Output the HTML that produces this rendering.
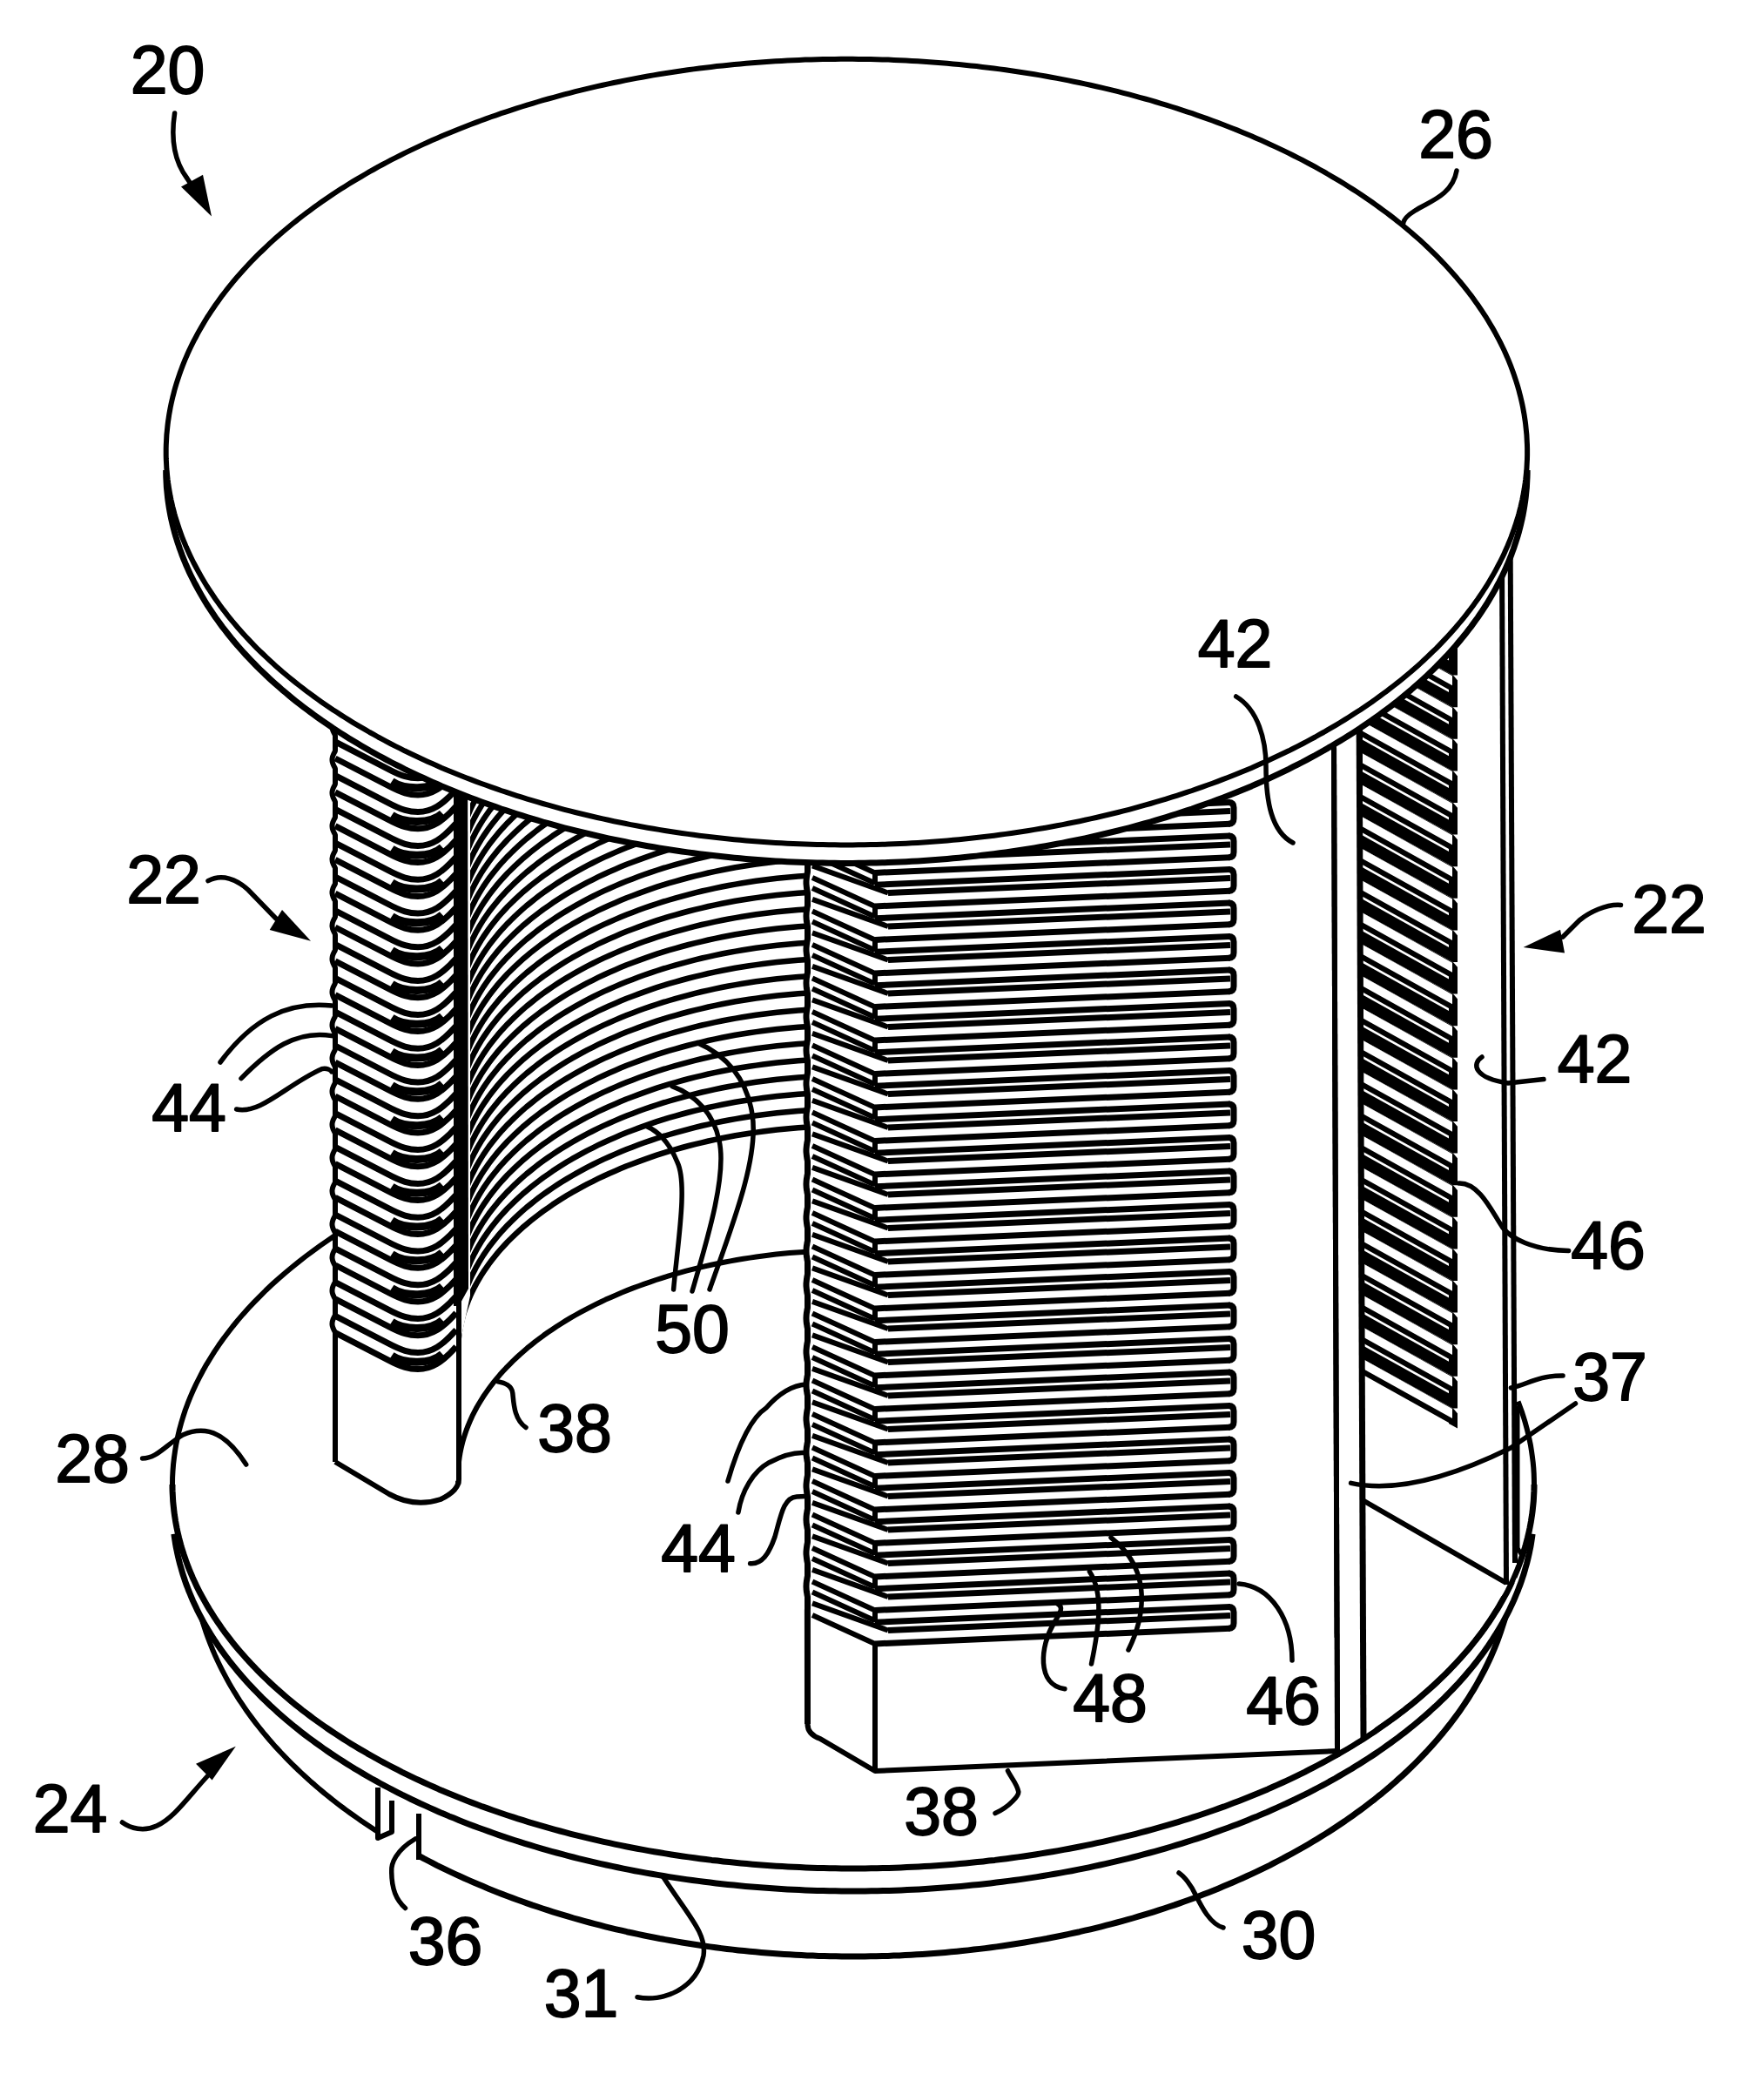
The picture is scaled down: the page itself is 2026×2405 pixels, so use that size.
<!DOCTYPE html>
<html><head><meta charset="utf-8"><style>html,body{margin:0;padding:0;background:#fff;width:2026px;height:2405px;overflow:hidden}svg{display:block}text{font-family:"Liberation Sans",sans-serif}</style></head>
<body><svg width="2026" height="2405" viewBox="0 0 2026 2405" stroke-linejoin="round"><path d="M1740.0,1777.0 L1740.0,1781.1 L1739.9,1785.2 L1739.7,1789.3 L1739.5,1793.4 L1739.3,1797.5 L1739.0,1801.6 L1738.6,1805.7 L1738.1,1809.8 L1737.7,1813.9 L1737.1,1818.0 L1736.5,1822.0 L1735.8,1826.1 L1735.1,1830.2 L1734.3,1834.3 L1733.5,1838.3 L1732.6,1842.4 L1731.7,1846.5 L1730.6,1850.5 L1729.6,1854.6 L1728.5,1858.6 L1727.3,1862.7 L1726.0,1866.7 L1724.7,1870.7 L1723.4,1874.7 L1722.0,1878.7 L1720.5,1882.7 L1719.0,1886.7 L1717.4,1890.7 L1715.8,1894.7 L1714.1,1898.6 L1712.4,1902.6 L1710.6,1906.5 L1708.7,1910.5 L1706.8,1914.4 L1704.8,1918.3 L1702.8,1922.2 L1700.7,1926.1 L1698.6,1930.0 L1696.4,1933.9 L1694.2,1937.7 L1691.9,1941.6 L1689.5,1945.4 L1687.1,1949.3 L1684.7,1953.1 L1682.1,1956.9 L1679.6,1960.6 L1677.0,1964.4 L1674.3,1968.2 L1671.6,1971.9 L1668.8,1975.6 L1666.0,1979.3 L1663.1,1983.0 L1660.2,1986.7 L1657.2,1990.4 L1654.1,1994.0 L1651.0,1997.7 L1647.9,2001.3 L1644.7,2004.9 L1641.5,2008.4 L1638.2,2012.0 L1634.8,2015.5 L1631.4,2019.1 L1628.0,2022.6 L1624.5,2026.1 L1621.0,2029.5 L1617.4,2033.0 L1613.8,2036.4 L1610.1,2039.8 L1606.3,2043.2 L1602.6,2046.6 L1598.7,2049.9 L1594.9,2053.3 L1590.9,2056.6 L1587.0,2059.9 L1582.9,2063.1 L1578.9,2066.4 L1574.8,2069.6 L1570.6,2072.8 L1566.4,2076.0 L1562.2,2079.1 L1557.9,2082.2 L1553.6,2085.3 L1549.2,2088.4 L1544.8,2091.5 L1540.3,2094.5 L1535.8,2097.5 L1531.3,2100.5 L1526.7,2103.5 L1522.1,2106.4 L1517.4,2109.3 L1512.7,2112.2 L1507.9,2115.1 L1503.1,2117.9 L1498.3,2120.7 L1493.4,2123.5 L1488.5,2126.3 L1483.6,2129.0 L1478.6,2131.7 L1473.6,2134.4 L1468.5,2137.0 L1463.4,2139.7 L1458.3,2142.3 L1453.1,2144.8 L1447.9,2147.4 L1442.7,2149.9 L1437.4,2152.4 L1432.1,2154.8 L1426.7,2157.2 L1421.3,2159.6 L1415.9,2162.0 L1410.5,2164.3 L1405.0,2166.6 L1399.5,2168.9 L1393.9,2171.2 L1388.3,2173.4 L1382.7,2175.6 L1377.1,2177.7 L1371.4,2179.9 L1365.7,2182.0 L1360.0,2184.0 L1354.2,2186.1 L1348.5,2188.1 L1342.6,2190.0 L1336.8,2192.0 L1330.9,2193.9 L1325.0,2195.8 L1319.1,2197.6 L1313.2,2199.4 L1307.2,2201.2 L1301.2,2203.0 L1295.2,2204.7 L1289.1,2206.4 L1283.0,2208.0 L1277.0,2209.6 L1270.8,2211.2 L1264.7,2212.8 L1258.5,2214.3 L1252.4,2215.8 L1246.2,2217.2 L1239.9,2218.7 L1233.7,2220.0 L1227.4,2221.4 L1221.2,2222.7 L1214.9,2224.0 L1208.5,2225.2 L1202.2,2226.5 L1195.9,2227.6 L1189.5,2228.8 L1183.1,2229.9 L1176.7,2231.0 L1170.3,2232.0 L1163.9,2233.0 L1157.4,2234.0 L1151.0,2235.0 L1144.5,2235.9 L1138.0,2236.7 L1131.5,2237.6 L1125.0,2238.4 L1118.5,2239.1 L1112.0,2239.9 L1105.4,2240.6 L1098.9,2241.2 L1092.3,2241.8 L1085.8,2242.4 L1079.2,2243.0 L1072.6,2243.5 L1066.0,2244.0 L1059.4,2244.4 L1052.8,2244.8 L1046.2,2245.2 L1039.6,2245.6 L1033.0,2245.9 L1026.4,2246.1 L1019.8,2246.4 L1013.2,2246.6 L1006.5,2246.7 L999.9,2246.8 L993.3,2246.9 L986.6,2247.0 L980.0,2247.0 L973.4,2247.0 L966.7,2246.9 L960.1,2246.8 L953.5,2246.7 L946.8,2246.6 L940.2,2246.4 L933.6,2246.1 L927.0,2245.9 L920.4,2245.6 L913.8,2245.2 L907.2,2244.8 L900.6,2244.4 L894.0,2244.0 L887.4,2243.5 L880.8,2243.0 L874.2,2242.4 L867.7,2241.8 L861.1,2241.2 L854.6,2240.6 L848.0,2239.9 L841.5,2239.1 L835.0,2238.4 L828.5,2237.6 L822.0,2236.7 L815.5,2235.9 L809.0,2235.0 L802.6,2234.0 L796.1,2233.0 L789.7,2232.0 L783.3,2231.0 L776.9,2229.9 L770.5,2228.8 L764.1,2227.6 L757.8,2226.5 L751.5,2225.2 L745.1,2224.0 L738.8,2222.7 L732.6,2221.4 L726.3,2220.0 L720.1,2218.7 L713.8,2217.2 L707.6,2215.8 L701.5,2214.3 L695.3,2212.8 L689.2,2211.2 L683.0,2209.6 L677.0,2208.0 L670.9,2206.4 L664.8,2204.7 L658.8,2203.0 L652.8,2201.2 L646.8,2199.4 L640.9,2197.6 L635.0,2195.8 L629.1,2193.9 L623.2,2192.0 L617.4,2190.0 L611.5,2188.1 L605.8,2186.1 L600.0,2184.0 L594.3,2182.0 L588.6,2179.9 L582.9,2177.7 L577.3,2175.6 L571.7,2173.4 L566.1,2171.2 L560.5,2168.9 L555.0,2166.6 L549.5,2164.3 L544.1,2162.0 L538.7,2159.6 L533.3,2157.2 L527.9,2154.8 L522.6,2152.4 L517.3,2149.9 L512.1,2147.4 L506.9,2144.8 L501.7,2142.3 L496.6,2139.7 L491.5,2137.0 L486.4,2134.4 L481.4,2131.7" fill="none" stroke="#000" stroke-width="7" />
<path d="M433.3,2103.5 L428.7,2100.5 L424.2,2097.5 L419.7,2094.5 L415.2,2091.5 L410.8,2088.4 L406.4,2085.3 L402.1,2082.2 L397.8,2079.1 L393.6,2076.0 L389.4,2072.8 L385.2,2069.6 L381.1,2066.4 L377.1,2063.1 L373.0,2059.9 L369.1,2056.6 L365.1,2053.3 L361.3,2049.9 L357.4,2046.6 L353.7,2043.2 L349.9,2039.8 L346.2,2036.4 L342.6,2033.0 L339.0,2029.5 L335.5,2026.1 L332.0,2022.6 L328.6,2019.1 L325.2,2015.5 L321.8,2012.0 L318.5,2008.4 L315.3,2004.9 L312.1,2001.3 L309.0,1997.7 L305.9,1994.0 L302.8,1990.4 L299.8,1986.7 L296.9,1983.0 L294.0,1979.3 L291.2,1975.6 L288.4,1971.9 L285.7,1968.2 L283.0,1964.4 L280.4,1960.6 L277.9,1956.9 L275.3,1953.1 L272.9,1949.3 L270.5,1945.4 L268.1,1941.6 L265.8,1937.7 L263.6,1933.9 L261.4,1930.0 L259.3,1926.1 L257.2,1922.2 L255.2,1918.3 L253.2,1914.4 L251.3,1910.5 L249.4,1906.5 L247.6,1902.6 L245.9,1898.6 L244.2,1894.7 L242.6,1890.7 L241.0,1886.7 L239.5,1882.7 L238.0,1878.7 L236.6,1874.7 L235.3,1870.7 L234.0,1866.7 L232.7,1862.7 L231.5,1858.6 L230.4,1854.6 L229.4,1850.5 L228.3,1846.5 L227.4,1842.4 L226.5,1838.3 L225.7,1834.3 L224.9,1830.2 L224.2,1826.1 L223.5,1822.0 L222.9,1818.0 L222.3,1813.9 L221.9,1809.8 L221.4,1805.7 L221.0,1801.6 L220.7,1797.5 L220.5,1793.4 L220.3,1789.3 L220.1,1785.2 L220.0,1781.1 L220.0,1777.0" fill="none" stroke="#000" stroke-width="6" />
<path d="M434.0,2053.0 L434.0,2111.0 L450.0,2104.0 L450.0,2068.0" fill="none" stroke="#000" stroke-width="6" />
<path d="M481.0,2083.0 L481.0,2136.0" fill="none" stroke="#000" stroke-width="6" />
<path d="M1762.0,1731.0 L1762.0,1734.8 L1761.9,1738.7 L1761.7,1742.5 L1761.5,1746.4 L1761.3,1750.2 L1760.9,1754.1 L1760.5,1757.9 L1760.1,1761.8 L1759.6,1765.6 L1759.0,1769.4 L1758.4,1773.3 L1757.7,1777.1 L1757.0,1780.9 L1756.2,1784.7 L1755.3,1788.6 L1754.4,1792.4 L1753.4,1796.2 L1752.4,1800.0 L1751.3,1803.8 L1750.1,1807.6 L1748.9,1811.4 L1747.6,1815.1 L1746.3,1818.9 L1744.9,1822.7 L1743.5,1826.4 L1742.0,1830.2 L1740.4,1833.9 L1738.8,1837.7 L1737.1,1841.4 L1735.4,1845.1 L1733.6,1848.9 L1731.7,1852.6 L1729.8,1856.3 L1727.8,1859.9 L1725.8,1863.6 L1723.7,1867.3 L1721.6,1870.9 L1719.4,1874.6 L1717.1,1878.2 L1714.8,1881.8 L1712.5,1885.4 L1710.1,1889.0 L1707.6,1892.6 L1705.1,1896.2 L1702.5,1899.8 L1699.8,1903.3 L1697.1,1906.8 L1694.4,1910.4 L1691.6,1913.9 L1688.7,1917.4 L1685.8,1920.9 L1682.9,1924.3 L1679.8,1927.8 L1676.8,1931.2 L1673.6,1934.6 L1670.5,1938.0 L1667.2,1941.4 L1664.0,1944.8 L1660.6,1948.2 L1657.2,1951.5 L1653.8,1954.8 L1650.3,1958.1 L1646.8,1961.4 L1643.2,1964.7 L1639.5,1967.9 L1635.8,1971.2 L1632.1,1974.4 L1628.3,1977.6 L1624.5,1980.8 L1620.6,1983.9 L1616.6,1987.1 L1612.7,1990.2 L1608.6,1993.3 L1604.5,1996.4 L1600.4,1999.5 L1596.2,2002.5 L1592.0,2005.5 L1587.7,2008.5 L1583.4,2011.5 L1579.0,2014.5 L1574.6,2017.4 L1570.2,2020.3 L1565.7,2023.2 L1561.1,2026.1 L1556.6,2028.9 L1551.9,2031.8 L1547.2,2034.6 L1542.5,2037.3 L1537.8,2040.1 L1533.0,2042.8 L1528.1,2045.5 L1523.2,2048.2 L1518.3,2050.9 L1513.3,2053.5 L1508.3,2056.1 L1503.3,2058.7 L1498.2,2061.3 L1493.0,2063.8 L1487.9,2066.3 L1482.7,2068.8 L1477.4,2071.3 L1472.1,2073.7 L1466.8,2076.1 L1461.4,2078.5 L1456.1,2080.9 L1450.6,2083.2 L1445.2,2085.5 L1439.6,2087.8 L1434.1,2090.0 L1428.5,2092.2 L1422.9,2094.4 L1417.3,2096.6 L1411.6,2098.7 L1405.9,2100.9 L1400.2,2102.9 L1394.4,2105.0 L1388.6,2107.0 L1382.8,2109.0 L1376.9,2111.0 L1371.0,2112.9 L1365.1,2114.8 L1359.1,2116.7 L1353.1,2118.6 L1347.1,2120.4 L1341.1,2122.2 L1335.0,2123.9 L1328.9,2125.7 L1322.8,2127.4 L1316.7,2129.0 L1310.5,2130.7 L1304.3,2132.3 L1298.1,2133.9 L1291.8,2135.4 L1285.6,2136.9 L1279.3,2138.4 L1272.9,2139.9 L1266.6,2141.3 L1260.2,2142.7 L1253.9,2144.1 L1247.5,2145.4 L1241.0,2146.7 L1234.6,2148.0 L1228.1,2149.2 L1221.7,2150.4 L1215.2,2151.6 L1208.6,2152.7 L1202.1,2153.8 L1195.5,2154.9 L1189.0,2156.0 L1182.4,2157.0 L1175.8,2158.0 L1169.2,2158.9 L1162.6,2159.8 L1155.9,2160.7 L1149.3,2161.5 L1142.6,2162.4 L1135.9,2163.1 L1129.2,2163.9 L1122.5,2164.6 L1115.8,2165.3 L1109.1,2166.0 L1102.3,2166.6 L1095.6,2167.2 L1088.8,2167.7 L1082.1,2168.2 L1075.3,2168.7 L1068.5,2169.2 L1061.7,2169.6 L1055.0,2170.0 L1048.2,2170.3 L1041.4,2170.6 L1034.5,2170.9 L1027.7,2171.2 L1020.9,2171.4 L1014.1,2171.6 L1007.3,2171.7 L1000.5,2171.8 L993.6,2171.9 L986.8,2172.0 L980.0,2172.0 L973.2,2172.0 L966.4,2171.9 L959.5,2171.8 L952.7,2171.7 L945.9,2171.6 L939.1,2171.4 L932.3,2171.2 L925.5,2170.9 L918.6,2170.6 L911.8,2170.3 L905.0,2170.0 L898.3,2169.6 L891.5,2169.2 L884.7,2168.7 L877.9,2168.2 L871.2,2167.7 L864.4,2167.2 L857.7,2166.6 L850.9,2166.0 L844.2,2165.3 L837.5,2164.6 L830.8,2163.9 L824.1,2163.1 L817.4,2162.4 L810.7,2161.5 L804.1,2160.7 L797.4,2159.8 L790.8,2158.9 L784.2,2158.0 L777.6,2157.0 L771.0,2156.0 L764.5,2154.9 L757.9,2153.8 L751.4,2152.7 L744.8,2151.6 L738.3,2150.4 L731.9,2149.2 L725.4,2148.0 L719.0,2146.7 L712.5,2145.4 L706.1,2144.1 L699.8,2142.7 L693.4,2141.3 L687.1,2139.9 L680.7,2138.4 L674.4,2136.9 L668.2,2135.4 L661.9,2133.9 L655.7,2132.3 L649.5,2130.7 L643.3,2129.0 L637.2,2127.4 L631.1,2125.7 L625.0,2123.9 L618.9,2122.2 L612.9,2120.4 L606.9,2118.6 L600.9,2116.7 L594.9,2114.8 L589.0,2112.9 L583.1,2111.0 L577.2,2109.0 L571.4,2107.0 L565.6,2105.0 L559.8,2102.9 L554.1,2100.9 L548.4,2098.7 L542.7,2096.6 L537.1,2094.4 L531.5,2092.2 L525.9,2090.0 L520.4,2087.8 L514.8,2085.5 L509.4,2083.2 L503.9,2080.9 L498.6,2078.5 L493.2,2076.1 L487.9,2073.7 L482.6,2071.3 L477.3,2068.8 L472.1,2066.3 L467.0,2063.8 L461.8,2061.3 L456.7,2058.7 L451.7,2056.1 L446.7,2053.5 L441.7,2050.9 L436.8,2048.2 L431.9,2045.5 L427.0,2042.8 L422.2,2040.1 L417.5,2037.3 L412.8,2034.6 L408.1,2031.8 L403.4,2028.9 L398.9,2026.1 L394.3,2023.2 L389.8,2020.3 L385.4,2017.4 L381.0,2014.5 L376.6,2011.5 L372.3,2008.5 L368.0,2005.5 L363.8,2002.5 L359.6,1999.5 L355.5,1996.4 L351.4,1993.3 L347.3,1990.2 L343.4,1987.1 L339.4,1983.9 L335.5,1980.8 L331.7,1977.6 L327.9,1974.4 L324.2,1971.2 L320.5,1967.9 L316.8,1964.7 L313.2,1961.4 L309.7,1958.1 L306.2,1954.8 L302.8,1951.5 L299.4,1948.2 L296.0,1944.8 L292.8,1941.4 L289.5,1938.0 L286.4,1934.6 L283.2,1931.2 L280.2,1927.8 L277.1,1924.3 L274.2,1920.9 L271.3,1917.4 L268.4,1913.9 L265.6,1910.4 L262.9,1906.8 L260.2,1903.3 L257.5,1899.8 L254.9,1896.2 L252.4,1892.6 L249.9,1889.0 L247.5,1885.4 L245.2,1881.8 L242.9,1878.2 L240.6,1874.6 L238.4,1870.9 L236.3,1867.3 L234.2,1863.6 L232.2,1859.9 L230.2,1856.3 L228.3,1852.6 L226.4,1848.9 L224.6,1845.1 L222.9,1841.4 L221.2,1837.7 L219.6,1833.9 L218.0,1830.2 L216.5,1826.4 L215.1,1822.7 L213.7,1818.9 L212.4,1815.1 L211.1,1811.4 L209.9,1807.6 L208.7,1803.8 L207.6,1800.0 L206.6,1796.2 L205.6,1792.4 L204.7,1788.6 L203.8,1784.7 L203.0,1780.9 L202.3,1777.1 L201.6,1773.3 L201.0,1769.4 L200.4,1765.6 L199.9,1761.8 L199.5,1757.9 L199.1,1754.1 L198.7,1750.2 L198.5,1746.4 L198.3,1742.5 L198.1,1738.7 L198.0,1734.8 L198.0,1731.0 L198.0,1705.0 L198.0,1705.0 L198.0,1701.2 L198.1,1697.3 L198.3,1693.5 L198.5,1689.6 L198.7,1685.8 L199.1,1681.9 L199.5,1678.1 L199.9,1674.2 L200.4,1670.4 L201.0,1666.6 L201.6,1662.7 L202.3,1658.9 L203.0,1655.1 L203.8,1651.3 L204.7,1647.4 L205.6,1643.6 L206.6,1639.8 L207.6,1636.0 L208.7,1632.2 L209.9,1628.4 L211.1,1624.6 L212.4,1620.9 L213.7,1617.1 L215.1,1613.3 L216.5,1609.6 L218.0,1605.8 L219.6,1602.1 L221.2,1598.3 L222.9,1594.6 L224.6,1590.9 L226.4,1587.1 L228.3,1583.4 L230.2,1579.7 L232.2,1576.1 L234.2,1572.4 L236.3,1568.7 L238.4,1565.1 L240.6,1561.4 L242.9,1557.8 L245.2,1554.2 L247.5,1550.6 L249.9,1547.0 L252.4,1543.4 L254.9,1539.8 L257.5,1536.2 L260.2,1532.7 L262.9,1529.2 L265.6,1525.6 L268.4,1522.1 L271.3,1518.6 L274.2,1515.1 L277.1,1511.7 L280.2,1508.2 L283.2,1504.8 L286.4,1501.4 L289.5,1498.0 L292.8,1494.6 L296.0,1491.2 L299.4,1487.8 L302.8,1484.5 L306.2,1481.2 L309.7,1477.9 L313.2,1474.6 L316.8,1471.3 L320.5,1468.1 L324.2,1464.8 L327.9,1461.6 L331.7,1458.4 L335.5,1455.2 L339.4,1452.1 L343.4,1448.9 L347.3,1445.8 L351.4,1442.7 L355.5,1439.6 L359.6,1436.5 L363.8,1433.5 L368.0,1430.5 L372.3,1427.5 L376.6,1424.5 L381.0,1421.5 L385.4,1418.6 L389.8,1415.7 L394.3,1412.8 L398.9,1409.9 L403.4,1407.1 L408.1,1404.2 L412.8,1401.4 L417.5,1398.7 L422.2,1395.9 L427.0,1393.2 L431.9,1390.5 L436.8,1387.8 L441.7,1385.1 L446.7,1382.5 L451.7,1379.9 L456.7,1377.3 L461.8,1374.7 L467.0,1372.2 L472.1,1369.7 L477.3,1367.2 L482.6,1364.7 L487.9,1362.3 L493.2,1359.9 L498.6,1357.5 L503.9,1355.1 L509.4,1352.8 L514.8,1350.5 L520.4,1348.2 L525.9,1346.0 L531.5,1343.8 L537.1,1341.6 L542.7,1339.4 L548.4,1337.3 L554.1,1335.1 L559.8,1333.1 L565.6,1331.0 L571.4,1329.0 L577.2,1327.0 L583.1,1325.0 L589.0,1323.1 L594.9,1321.2 L600.9,1319.3 L606.9,1317.4 L612.9,1315.6 L618.9,1313.8 L625.0,1312.1 L631.1,1310.3 L637.2,1308.6 L643.3,1307.0 L649.5,1305.3 L655.7,1303.7 L661.9,1302.1 L668.2,1300.6 L674.4,1299.1 L680.7,1297.6 L687.1,1296.1 L693.4,1294.7 L699.8,1293.3 L706.1,1291.9 L712.5,1290.6 L719.0,1289.3 L725.4,1288.0 L731.9,1286.8 L738.3,1285.6 L744.8,1284.4 L751.4,1283.3 L757.9,1282.2 L764.5,1281.1 L771.0,1280.0 L777.6,1279.0 L784.2,1278.0 L790.8,1277.1 L797.4,1276.2 L804.1,1275.3 L810.7,1274.5 L817.4,1273.6 L824.1,1272.9 L830.8,1272.1 L837.5,1271.4 L844.2,1270.7 L850.9,1270.0 L857.7,1269.4 L864.4,1268.8 L871.2,1268.3 L877.9,1267.8 L884.7,1267.3 L891.5,1266.8 L898.3,1266.4 L905.0,1266.0 L911.8,1265.7 L918.6,1265.4 L925.5,1265.1 L932.3,1264.8 L939.1,1264.6 L945.9,1264.4 L952.7,1264.3 L959.5,1264.2 L966.4,1264.1 L973.2,1264.0 L980.0,1264.0 L986.8,1264.0 L993.6,1264.1 L1000.5,1264.2 L1007.3,1264.3 L1014.1,1264.4 L1020.9,1264.6 L1027.7,1264.8 L1034.5,1265.1 L1041.4,1265.4 L1048.2,1265.7 L1055.0,1266.0 L1061.7,1266.4 L1068.5,1266.8 L1075.3,1267.3 L1082.1,1267.8 L1088.8,1268.3 L1095.6,1268.8 L1102.3,1269.4 L1109.1,1270.0 L1115.8,1270.7 L1122.5,1271.4 L1129.2,1272.1 L1135.9,1272.9 L1142.6,1273.6 L1149.3,1274.5 L1155.9,1275.3 L1162.6,1276.2 L1169.2,1277.1 L1175.8,1278.0 L1182.4,1279.0 L1189.0,1280.0 L1195.5,1281.1 L1202.1,1282.2 L1208.6,1283.3 L1215.2,1284.4 L1221.7,1285.6 L1228.1,1286.8 L1234.6,1288.0 L1241.0,1289.3 L1247.5,1290.6 L1253.9,1291.9 L1260.2,1293.3 L1266.6,1294.7 L1272.9,1296.1 L1279.3,1297.6 L1285.6,1299.1 L1291.8,1300.6 L1298.1,1302.1 L1304.3,1303.7 L1310.5,1305.3 L1316.7,1307.0 L1322.8,1308.6 L1328.9,1310.3 L1335.0,1312.1 L1341.1,1313.8 L1347.1,1315.6 L1353.1,1317.4 L1359.1,1319.3 L1365.1,1321.2 L1371.0,1323.1 L1376.9,1325.0 L1382.8,1327.0 L1388.6,1329.0 L1394.4,1331.0 L1400.2,1333.1 L1405.9,1335.1 L1411.6,1337.3 L1417.3,1339.4 L1422.9,1341.6 L1428.5,1343.8 L1434.1,1346.0 L1439.6,1348.2 L1445.2,1350.5 L1450.6,1352.8 L1456.1,1355.1 L1461.4,1357.5 L1466.8,1359.9 L1472.1,1362.3 L1477.4,1364.7 L1482.7,1367.2 L1487.9,1369.7 L1493.0,1372.2 L1498.2,1374.7 L1503.3,1377.3 L1508.3,1379.9 L1513.3,1382.5 L1518.3,1385.1 L1523.2,1387.8 L1528.1,1390.5 L1533.0,1393.2 L1537.8,1395.9 L1542.5,1398.7 L1547.2,1401.4 L1551.9,1404.2 L1556.6,1407.1 L1561.1,1409.9 L1565.7,1412.8 L1570.2,1415.7 L1574.6,1418.6 L1579.0,1421.5 L1583.4,1424.5 L1587.7,1427.5 L1592.0,1430.5 L1596.2,1433.5 L1600.4,1436.5 L1604.5,1439.6 L1608.6,1442.7 L1612.7,1445.8 L1616.6,1448.9 L1620.6,1452.1 L1624.5,1455.2 L1628.3,1458.4 L1632.1,1461.6 L1635.8,1464.8 L1639.5,1468.1 L1643.2,1471.3 L1646.8,1474.6 L1650.3,1477.9 L1653.8,1481.2 L1657.2,1484.5 L1660.6,1487.8 L1664.0,1491.2 L1667.2,1494.6 L1670.5,1498.0 L1673.6,1501.4 L1676.8,1504.8 L1679.8,1508.2 L1682.9,1511.7 L1685.8,1515.1 L1688.7,1518.6 L1691.6,1522.1 L1694.4,1525.6 L1697.1,1529.2 L1699.8,1532.7 L1702.5,1536.2 L1705.1,1539.8 L1707.6,1543.4 L1710.1,1547.0 L1712.5,1550.6 L1714.8,1554.2 L1717.1,1557.8 L1719.4,1561.4 L1721.6,1565.1 L1723.7,1568.7 L1725.8,1572.4 L1727.8,1576.1 L1729.8,1579.7 L1731.7,1583.4 L1733.6,1587.1 L1735.4,1590.9 L1737.1,1594.6 L1738.8,1598.3 L1740.4,1602.1 L1742.0,1605.8 L1743.5,1609.6 L1744.9,1613.3 L1746.3,1617.1 L1747.6,1620.9 L1748.9,1624.6 L1750.1,1628.4 L1751.3,1632.2 L1752.4,1636.0 L1753.4,1639.8 L1754.4,1643.6 L1755.3,1647.4 L1756.2,1651.3 L1757.0,1655.1 L1757.7,1658.9 L1758.4,1662.7 L1759.0,1666.6 L1759.6,1670.4 L1760.1,1674.2 L1760.5,1678.1 L1760.9,1681.9 L1761.3,1685.8 L1761.5,1689.6 L1761.7,1693.5 L1761.9,1697.3 L1762.0,1701.2 L1762.0,1705.0Z" fill="#fff" stroke="none" stroke-width="0" />
<path d="M1762.0,1705.0 L1762.0,1708.8 L1761.9,1712.7 L1761.7,1716.5 L1761.5,1720.4 L1761.3,1724.2 L1760.9,1728.1 L1760.5,1731.9 L1760.1,1735.8 L1759.6,1739.6 L1759.0,1743.4 L1758.4,1747.3 L1757.7,1751.1 L1757.0,1754.9 L1756.2,1758.7 L1755.3,1762.6 L1754.4,1766.4 L1753.4,1770.2 L1752.4,1774.0 L1751.3,1777.8 L1750.1,1781.6 L1748.9,1785.4 L1747.6,1789.1 L1746.3,1792.9 L1744.9,1796.7 L1743.5,1800.4 L1742.0,1804.2 L1740.4,1807.9 L1738.8,1811.7 L1737.1,1815.4 L1735.4,1819.1 L1733.6,1822.9 L1731.7,1826.6 L1729.8,1830.3 L1727.8,1833.9 L1725.8,1837.6 L1723.7,1841.3 L1721.6,1844.9 L1719.4,1848.6 L1717.1,1852.2 L1714.8,1855.8 L1712.5,1859.4 L1710.1,1863.0 L1707.6,1866.6 L1705.1,1870.2 L1702.5,1873.8 L1699.8,1877.3 L1697.1,1880.8 L1694.4,1884.4 L1691.6,1887.9 L1688.7,1891.4 L1685.8,1894.9 L1682.9,1898.3 L1679.8,1901.8 L1676.8,1905.2 L1673.6,1908.6 L1670.5,1912.0 L1667.2,1915.4 L1664.0,1918.8 L1660.6,1922.2 L1657.2,1925.5 L1653.8,1928.8 L1650.3,1932.1 L1646.8,1935.4 L1643.2,1938.7 L1639.5,1941.9 L1635.8,1945.2 L1632.1,1948.4 L1628.3,1951.6 L1624.5,1954.8 L1620.6,1957.9 L1616.6,1961.1 L1612.7,1964.2 L1608.6,1967.3 L1604.5,1970.4 L1600.4,1973.5 L1596.2,1976.5 L1592.0,1979.5 L1587.7,1982.5 L1583.4,1985.5 L1579.0,1988.5 L1574.6,1991.4 L1570.2,1994.3 L1565.7,1997.2 L1561.1,2000.1 L1556.6,2002.9 L1551.9,2005.8 L1547.2,2008.6 L1542.5,2011.3 L1537.8,2014.1 L1533.0,2016.8 L1528.1,2019.5 L1523.2,2022.2 L1518.3,2024.9 L1513.3,2027.5 L1508.3,2030.1 L1503.3,2032.7 L1498.2,2035.3 L1493.0,2037.8 L1487.9,2040.3 L1482.7,2042.8 L1477.4,2045.3 L1472.1,2047.7 L1466.8,2050.1 L1461.4,2052.5 L1456.1,2054.9 L1450.6,2057.2 L1445.2,2059.5 L1439.6,2061.8 L1434.1,2064.0 L1428.5,2066.2 L1422.9,2068.4 L1417.3,2070.6 L1411.6,2072.7 L1405.9,2074.9 L1400.2,2076.9 L1394.4,2079.0 L1388.6,2081.0 L1382.8,2083.0 L1376.9,2085.0 L1371.0,2086.9 L1365.1,2088.8 L1359.1,2090.7 L1353.1,2092.6 L1347.1,2094.4 L1341.1,2096.2 L1335.0,2097.9 L1328.9,2099.7 L1322.8,2101.4 L1316.7,2103.0 L1310.5,2104.7 L1304.3,2106.3 L1298.1,2107.9 L1291.8,2109.4 L1285.6,2110.9 L1279.3,2112.4 L1272.9,2113.9 L1266.6,2115.3 L1260.2,2116.7 L1253.9,2118.1 L1247.5,2119.4 L1241.0,2120.7 L1234.6,2122.0 L1228.1,2123.2 L1221.7,2124.4 L1215.2,2125.6 L1208.6,2126.7 L1202.1,2127.8 L1195.5,2128.9 L1189.0,2130.0 L1182.4,2131.0 L1175.8,2132.0 L1169.2,2132.9 L1162.6,2133.8 L1155.9,2134.7 L1149.3,2135.5 L1142.6,2136.4 L1135.9,2137.1 L1129.2,2137.9 L1122.5,2138.6 L1115.8,2139.3 L1109.1,2140.0 L1102.3,2140.6 L1095.6,2141.2 L1088.8,2141.7 L1082.1,2142.2 L1075.3,2142.7 L1068.5,2143.2 L1061.7,2143.6 L1055.0,2144.0 L1048.2,2144.3 L1041.4,2144.6 L1034.5,2144.9 L1027.7,2145.2 L1020.9,2145.4 L1014.1,2145.6 L1007.3,2145.7 L1000.5,2145.8 L993.6,2145.9 L986.8,2146.0 L980.0,2146.0 L973.2,2146.0 L966.4,2145.9 L959.5,2145.8 L952.7,2145.7 L945.9,2145.6 L939.1,2145.4 L932.3,2145.2 L925.5,2144.9 L918.6,2144.6 L911.8,2144.3 L905.0,2144.0 L898.3,2143.6 L891.5,2143.2 L884.7,2142.7 L877.9,2142.2 L871.2,2141.7 L864.4,2141.2 L857.7,2140.6 L850.9,2140.0 L844.2,2139.3 L837.5,2138.6 L830.8,2137.9 L824.1,2137.1 L817.4,2136.4 L810.7,2135.5 L804.1,2134.7 L797.4,2133.8 L790.8,2132.9 L784.2,2132.0 L777.6,2131.0 L771.0,2130.0 L764.5,2128.9 L757.9,2127.8 L751.4,2126.7 L744.8,2125.6 L738.3,2124.4 L731.9,2123.2 L725.4,2122.0 L719.0,2120.7 L712.5,2119.4 L706.1,2118.1 L699.8,2116.7 L693.4,2115.3 L687.1,2113.9 L680.7,2112.4 L674.4,2110.9 L668.2,2109.4 L661.9,2107.9 L655.7,2106.3 L649.5,2104.7 L643.3,2103.0 L637.2,2101.4 L631.1,2099.7 L625.0,2097.9 L618.9,2096.2 L612.9,2094.4 L606.9,2092.6 L600.9,2090.7 L594.9,2088.8 L589.0,2086.9 L583.1,2085.0 L577.2,2083.0 L571.4,2081.0 L565.6,2079.0 L559.8,2076.9 L554.1,2074.9 L548.4,2072.7 L542.7,2070.6 L537.1,2068.4 L531.5,2066.2 L525.9,2064.0 L520.4,2061.8 L514.8,2059.5 L509.4,2057.2 L503.9,2054.9 L498.6,2052.5 L493.2,2050.1 L487.9,2047.7 L482.6,2045.3 L477.3,2042.8 L472.1,2040.3 L467.0,2037.8 L461.8,2035.3 L456.7,2032.7 L451.7,2030.1 L446.7,2027.5 L441.7,2024.9 L436.8,2022.2 L431.9,2019.5 L427.0,2016.8 L422.2,2014.1 L417.5,2011.3 L412.8,2008.6 L408.1,2005.8 L403.4,2002.9 L398.9,2000.1 L394.3,1997.2 L389.8,1994.3 L385.4,1991.4 L381.0,1988.5 L376.6,1985.5 L372.3,1982.5 L368.0,1979.5 L363.8,1976.5 L359.6,1973.5 L355.5,1970.4 L351.4,1967.3 L347.3,1964.2 L343.4,1961.1 L339.4,1957.9 L335.5,1954.8 L331.7,1951.6 L327.9,1948.4 L324.2,1945.2 L320.5,1941.9 L316.8,1938.7 L313.2,1935.4 L309.7,1932.1 L306.2,1928.8 L302.8,1925.5 L299.4,1922.2 L296.0,1918.8 L292.8,1915.4 L289.5,1912.0 L286.4,1908.6 L283.2,1905.2 L280.2,1901.8 L277.1,1898.3 L274.2,1894.9 L271.3,1891.4 L268.4,1887.9 L265.6,1884.4 L262.9,1880.8 L260.2,1877.3 L257.5,1873.8 L254.9,1870.2 L252.4,1866.6 L249.9,1863.0 L247.5,1859.4 L245.2,1855.8 L242.9,1852.2 L240.6,1848.6 L238.4,1844.9 L236.3,1841.3 L234.2,1837.6 L232.2,1833.9 L230.2,1830.3 L228.3,1826.6 L226.4,1822.9 L224.6,1819.1 L222.9,1815.4 L221.2,1811.7 L219.6,1807.9 L218.0,1804.2 L216.5,1800.4 L215.1,1796.7 L213.7,1792.9 L212.4,1789.1 L211.1,1785.4 L209.9,1781.6 L208.7,1777.8 L207.6,1774.0 L206.6,1770.2 L205.6,1766.4 L204.7,1762.6 L203.8,1758.7 L203.0,1754.9 L202.3,1751.1 L201.6,1747.3 L201.0,1743.4 L200.4,1739.6 L199.9,1735.8 L199.5,1731.9 L199.1,1728.1 L198.7,1724.2 L198.5,1720.4 L198.3,1716.5 L198.1,1712.7 L198.0,1708.8 L198.0,1705.0" fill="none" stroke="#000" stroke-width="7" />
<path d="M1760.1,1761.8 L1759.6,1765.6 L1759.0,1769.5 L1758.4,1773.4 L1757.7,1777.3 L1756.9,1781.1 L1756.1,1785.0 L1755.2,1788.9 L1754.3,1792.7 L1753.3,1796.6 L1752.2,1800.4 L1751.1,1804.3 L1750.0,1808.1 L1748.7,1811.9 L1747.4,1815.8 L1746.1,1819.6 L1744.6,1823.4 L1743.2,1827.2 L1741.6,1831.0 L1740.0,1834.8 L1738.4,1838.6 L1736.7,1842.3 L1734.9,1846.1 L1733.1,1849.9 L1731.2,1853.6 L1729.2,1857.3 L1727.2,1861.1 L1725.2,1864.8 L1723.0,1868.5 L1720.8,1872.2 L1718.6,1875.9 L1716.3,1879.5 L1714.0,1883.2 L1711.5,1886.8 L1709.1,1890.5 L1706.6,1894.1 L1704.0,1897.7 L1701.3,1901.3 L1698.6,1904.9 L1695.9,1908.5 L1693.1,1912.0 L1690.2,1915.6 L1687.3,1919.1 L1684.3,1922.6 L1681.3,1926.1 L1678.2,1929.6 L1675.1,1933.1 L1671.9,1936.5 L1668.6,1940.0 L1665.3,1943.4 L1662.0,1946.8 L1658.6,1950.2 L1655.1,1953.5 L1651.6,1956.9 L1648.1,1960.2 L1644.4,1963.5 L1640.8,1966.8 L1637.1,1970.1 L1633.3,1973.4 L1629.5,1976.6 L1625.6,1979.9 L1621.7,1983.1 L1617.7,1986.2 L1613.7,1989.4 L1609.6,1992.6 L1605.5,1995.7 L1601.3,1998.8 L1597.1,2001.9 L1592.8,2004.9 L1588.5,2008.0 L1584.2,2011.0 L1579.8,2014.0 L1575.3,2017.0 L1570.8,2019.9 L1566.3,2022.8 L1561.7,2025.7 L1557.0,2028.6 L1552.4,2031.5 L1547.6,2034.3 L1542.9,2037.1 L1538.0,2039.9 L1533.2,2042.7 L1528.3,2045.4 L1523.3,2048.2 L1518.4,2050.9 L1513.3,2053.5 L1508.3,2056.2 L1503.1,2058.8 L1498.0,2061.4 L1492.8,2063.9 L1487.6,2066.5 L1482.3,2069.0 L1477.0,2071.5 L1471.6,2073.9 L1466.2,2076.4 L1460.8,2078.8 L1455.4,2081.2 L1449.8,2083.5 L1444.3,2085.9 L1438.7,2088.1 L1433.1,2090.4 L1427.5,2092.7 L1421.8,2094.9 L1416.1,2097.1 L1410.3,2099.2 L1404.6,2101.3 L1398.7,2103.4 L1392.9,2105.5 L1387.0,2107.6 L1381.1,2109.6 L1375.2,2111.6 L1369.2,2113.5 L1363.2,2115.4 L1357.2,2117.3 L1351.1,2119.2 L1345.0,2121.0 L1338.9,2122.8 L1332.7,2124.6 L1326.6,2126.3 L1320.4,2128.0 L1314.1,2129.7 L1307.9,2131.4 L1301.6,2133.0 L1295.3,2134.6 L1288.9,2136.1 L1282.6,2137.6 L1276.2,2139.1 L1269.8,2140.6 L1263.4,2142.0 L1256.9,2143.4 L1250.5,2144.8 L1244.0,2146.1 L1237.5,2147.4 L1230.9,2148.7 L1224.4,2149.9 L1217.8,2151.1 L1211.2,2152.3 L1204.6,2153.4 L1198.0,2154.5 L1191.4,2155.6 L1184.7,2156.6 L1178.1,2157.6 L1171.4,2158.6 L1164.7,2159.5 L1157.9,2160.4 L1151.2,2161.3 L1144.5,2162.1 L1137.7,2162.9 L1130.9,2163.7 L1124.2,2164.4 L1117.4,2165.1 L1110.6,2165.8 L1103.8,2166.4 L1096.9,2167.0 L1090.1,2167.6 L1083.3,2168.1 L1076.4,2168.6 L1069.6,2169.1 L1062.7,2169.5 L1055.8,2169.9 L1049.0,2170.3 L1042.1,2170.6 L1035.2,2170.9 L1028.3,2171.2 L1021.4,2171.4 L1014.5,2171.6 L1007.6,2171.7 L1000.7,2171.8 L993.8,2171.9 L986.9,2172.0 L980.0,2172.0 L973.1,2172.0 L966.2,2171.9 L959.3,2171.8 L952.4,2171.7 L945.5,2171.6 L938.6,2171.4 L931.7,2171.2 L924.8,2170.9 L917.9,2170.6 L911.0,2170.3 L904.2,2169.9 L897.3,2169.5 L890.4,2169.1 L883.6,2168.6 L876.7,2168.1 L869.9,2167.6 L863.1,2167.0 L856.2,2166.4 L849.4,2165.8 L842.6,2165.1 L835.8,2164.4 L829.1,2163.7 L822.3,2162.9 L815.5,2162.1 L808.8,2161.3 L802.1,2160.4 L795.3,2159.5 L788.6,2158.6 L781.9,2157.6 L775.3,2156.6 L768.6,2155.6 L762.0,2154.5 L755.4,2153.4 L748.8,2152.3 L742.2,2151.1 L735.6,2149.9 L729.1,2148.7 L722.5,2147.4 L716.0,2146.1 L709.5,2144.8 L703.1,2143.4 L696.6,2142.0 L690.2,2140.6 L683.8,2139.1 L677.4,2137.6 L671.1,2136.1 L664.7,2134.6 L658.4,2133.0 L652.1,2131.4 L645.9,2129.7 L639.6,2128.0 L633.4,2126.3 L627.3,2124.6 L621.1,2122.8 L615.0,2121.0 L608.9,2119.2 L602.8,2117.3 L596.8,2115.4 L590.8,2113.5 L584.8,2111.6 L578.9,2109.6 L573.0,2107.6 L567.1,2105.5 L561.3,2103.4 L555.4,2101.3 L549.7,2099.2 L543.9,2097.1 L538.2,2094.9 L532.5,2092.7 L526.9,2090.4 L521.3,2088.1 L515.7,2085.9 L510.2,2083.5 L504.6,2081.2 L499.2,2078.8 L493.8,2076.4 L488.4,2073.9 L483.0,2071.5 L477.7,2069.0 L472.4,2066.5 L467.2,2063.9 L462.0,2061.4 L456.9,2058.8 L451.7,2056.2 L446.7,2053.5 L441.6,2050.9 L436.7,2048.2 L431.7,2045.4 L426.8,2042.7 L422.0,2039.9 L417.1,2037.1 L412.4,2034.3 L407.6,2031.5 L403.0,2028.6 L398.3,2025.7 L393.7,2022.8 L389.2,2019.9 L384.7,2017.0 L380.2,2014.0 L375.8,2011.0 L371.5,2008.0 L367.2,2004.9 L362.9,2001.9 L358.7,1998.8 L354.5,1995.7 L350.4,1992.6 L346.3,1989.4 L342.3,1986.2 L338.3,1983.1 L334.4,1979.9 L330.5,1976.6 L326.7,1973.4 L322.9,1970.1 L319.2,1966.8 L315.6,1963.5 L311.9,1960.2 L308.4,1956.9 L304.9,1953.5 L301.4,1950.2 L298.0,1946.8 L294.7,1943.4 L291.4,1940.0 L288.1,1936.5 L284.9,1933.1 L281.8,1929.6 L278.7,1926.1 L275.7,1922.6 L272.7,1919.1 L269.8,1915.6 L266.9,1912.0 L264.1,1908.5 L261.4,1904.9 L258.7,1901.3 L256.0,1897.7 L253.4,1894.1 L250.9,1890.5 L248.5,1886.8 L246.0,1883.2 L243.7,1879.5 L241.4,1875.9 L239.2,1872.2 L237.0,1868.5 L234.8,1864.8 L232.8,1861.1 L230.8,1857.3 L228.8,1853.6 L226.9,1849.9 L225.1,1846.1 L223.3,1842.3 L221.6,1838.6 L220.0,1834.8 L218.4,1831.0 L216.8,1827.2 L215.4,1823.4 L213.9,1819.6 L212.6,1815.8 L211.3,1811.9 L210.0,1808.1 L208.9,1804.3 L207.8,1800.4 L206.7,1796.6 L205.7,1792.7 L204.8,1788.9 L203.9,1785.0 L203.1,1781.1 L202.3,1777.3 L201.6,1773.4 L201.0,1769.5 L200.4,1765.6 L199.9,1761.8" fill="none" stroke="#000" stroke-width="7" />
<path d="M198.0,1705.0 L198.1,1697.2 L198.5,1689.4 L199.1,1681.6 L200.0,1673.9 L201.1,1666.1 L202.4,1658.3 L204.0,1650.6 L205.8,1642.9 L207.9,1635.2 L210.2,1627.5 L212.7,1619.8 L215.5,1612.2 L218.5,1604.6 L221.8,1597.0 L225.3,1589.5 L229.1,1582.0 L233.0,1574.5 L237.2,1567.1 L241.7,1559.7 L246.3,1552.4 L251.2,1545.1 L256.4,1537.8 L261.7,1530.7 L267.3,1523.5 L273.1,1516.4 L279.1,1509.4 L285.3,1502.5 L291.8,1495.6 L298.5,1488.8 L305.3,1482.0 L312.4,1475.3 L319.7,1468.7 L327.2,1462.2 L335.0,1455.7 L342.9,1449.3 L351.0,1443.0 L359.3,1436.8 L367.8,1430.6 L376.5,1424.6 L385.4,1418.6" fill="none" stroke="#000" stroke-width="6" />
<path d="M1743.5,1609.6 L1745.8,1615.8 L1748.1,1622.1 L1750.1,1628.4 L1752.0,1634.7 L1753.7,1641.1 L1755.3,1647.4 L1756.7,1653.8 L1758.0,1660.2 L1759.0,1666.6 L1759.9,1673.0 L1760.7,1679.4 L1761.3,1685.8 L1761.7,1692.2 L1761.9,1698.6 L1762.0,1705.0" fill="none" stroke="#000" stroke-width="6" />
<path d="M526.3,1705.1 L526.1,1700.6 L526.0,1696.1 L526.1,1691.6 L526.3,1687.1 L526.6,1682.6 L527.1,1678.1 L527.7,1673.7 L528.4,1669.2 L529.3,1664.7 L530.3,1660.3 L531.4,1655.8 L532.7,1651.4 L534.1,1647.0 L535.6,1642.6 L537.3,1638.2 L539.1,1633.8 L541.0,1629.5 L543.0,1625.1 L545.2,1620.8 L547.5,1616.5 L550.0,1612.3 L552.6,1608.0 L555.2,1603.8 L558.1,1599.6 L561.0,1595.5 L564.1,1591.3 L567.3,1587.2 L570.6,1583.2 L574.0,1579.1 L577.6,1575.1 L581.2,1571.2 L585.0,1567.3 L588.9,1563.4 L593.0,1559.5 L597.1,1555.7 L601.4,1552.0 L605.7,1548.2 L610.2,1544.6 L614.8,1540.9 L619.5,1537.4 L624.3,1533.8 L629.2,1530.3 L634.2,1526.9 L639.3,1523.5 L644.5,1520.2 L649.8,1516.9 L655.2,1513.7 L660.7,1510.5 L666.3,1507.4 L672.0,1504.3 L677.8,1501.3 L683.6,1498.4 L689.6,1495.5 L695.6,1492.6 L701.7,1489.9 L708.0,1487.2 L714.2,1484.5 L720.6,1481.9 L727.0,1479.4 L733.6,1477.0 L740.1,1474.6 L746.8,1472.3 L753.5,1470.0 L760.3,1467.8 L767.2,1465.7 L774.1,1463.6 L781.1,1461.7 L788.1,1459.7 L795.2,1457.9 L802.3,1456.1 L809.5,1454.4 L816.8,1452.8 L824.1,1451.3 L831.4,1449.8 L838.8,1448.4 L846.2,1447.0 L853.7,1445.8 L861.2,1444.6 L868.7,1443.5 L876.3,1442.5 L883.9,1441.5 L891.5,1440.6 L899.2,1439.8 L906.8,1439.1 L914.5,1438.4 L922.3,1437.9 L930.0,1437.4 L937.7,1436.9 L945.5,1436.6 L953.2,1436.3 L961.0,1436.1 L968.8,1436.0 L976.5,1436.0 L984.3,1436.0 L992.1,1436.2 L999.9,1436.4 L1007.6,1436.6 L1015.4,1437.0 L1023.1,1437.4 L1030.8,1437.9" fill="none" stroke="#000" stroke-width="6" />
<path d="M526.3,1543.9 L526.6,1539.2 L527.1,1534.5 L527.8,1529.7 L528.6,1525.0 L529.6,1520.3 L530.7,1515.6 L531.9,1510.9 L533.3,1506.3 L534.9,1501.6 L536.6,1497.0 L538.4,1492.4 L540.4,1487.8 L542.5,1483.2 L544.8,1478.6 L547.2,1474.1 L549.8,1469.6 L552.5,1465.1 L555.3,1460.7 L558.3,1456.3 L561.4,1451.9 L564.7,1447.5 L568.1,1443.2 L571.6,1438.9 L575.3,1434.7 L579.1,1430.5 L583.0,1426.3 L587.1,1422.2 L591.3,1418.1 L595.6,1414.1 L600.0,1410.1 L604.6,1406.2 L609.3,1402.3 L614.1,1398.5 L619.0,1394.7 L624.1,1390.9 L629.3,1387.3 L634.6,1383.6 L640.0,1380.1 L645.5,1376.6 L651.1,1373.1 L656.8,1369.7 L662.7,1366.4 L668.6,1363.1 L674.6,1359.9 L680.8,1356.8 L687.0,1353.7 L693.3,1350.7 L699.8,1347.7 L706.3,1344.9 L712.9,1342.1 L719.6,1339.3 L726.4,1336.7 L733.3,1334.1 L740.2,1331.6 L747.2,1329.1 L754.3,1326.7 L761.5,1324.4 L768.8,1322.2 L776.1,1320.1 L783.5,1318.0 L790.9,1316.0 L798.4,1314.1 L806.0,1312.3 L813.6,1310.5 L821.3,1308.9 L829.0,1307.3 L836.8,1305.8 L844.6,1304.3 L852.5,1303.0 L860.4,1301.7 L868.3,1300.6 L876.3,1299.5 L884.3,1298.5 L892.4,1297.5 L900.4,1296.7 L908.5,1295.9 L916.7,1295.3 L924.8,1294.7 L933.0,1294.2 L941.1,1293.8 L949.3,1293.5 L957.5,1293.2 L965.7,1293.1 L973.9,1293.0 L982.1,1293.0 L990.3,1293.1 L998.5,1293.3 L1006.7,1293.6 L1014.9,1294.0 L1023.0,1294.4" fill="none" stroke="#000" stroke-width="6.5" />
<path d="M526.3,1524.7 L526.6,1519.9 L527.1,1515.2 L527.8,1510.5 L528.6,1505.8 L529.6,1501.1 L530.7,1496.4 L531.9,1491.7 L533.3,1487.0 L534.9,1482.4 L536.6,1477.7 L538.4,1473.1 L540.4,1468.5 L542.5,1463.9 L544.8,1459.4 L547.2,1454.8 L549.8,1450.3 L552.5,1445.9 L555.3,1441.4 L558.3,1437.0 L561.4,1432.6 L564.7,1428.3 L568.1,1424.0 L571.6,1419.7 L575.3,1415.4 L579.1,1411.2 L583.0,1407.1 L587.1,1403.0 L591.3,1398.9 L595.6,1394.9 L600.0,1390.9 L604.6,1386.9 L609.3,1383.1 L614.1,1379.2 L619.0,1375.4 L624.1,1371.7 L629.3,1368.0 L634.6,1364.4 L640.0,1360.8 L645.5,1357.3 L651.1,1353.9 L656.8,1350.5 L662.7,1347.1 L668.6,1343.9 L674.6,1340.7 L680.8,1337.5 L687.0,1334.4 L693.3,1331.4 L699.8,1328.5 L706.3,1325.6 L712.9,1322.8 L719.6,1320.1 L726.4,1317.4 L733.3,1314.8 L740.2,1312.3 L747.2,1309.9 L754.3,1307.5 L761.5,1305.2 L768.8,1303.0 L776.1,1300.8 L783.5,1298.8 L790.9,1296.8 L798.4,1294.9 L806.0,1293.0 L813.6,1291.3 L821.3,1289.6 L829.0,1288.0 L836.8,1286.5 L844.6,1285.1 L852.5,1283.7 L860.4,1282.5 L868.3,1281.3 L876.3,1280.2 L884.3,1279.2 L892.4,1278.3 L900.4,1277.4 L908.5,1276.7 L916.7,1276.0 L924.8,1275.4 L933.0,1274.9 L941.1,1274.5 L949.3,1274.2 L957.5,1274.0 L965.7,1273.8 L973.9,1273.8 L982.1,1273.8 L990.3,1273.9 L998.5,1274.1 L1006.7,1274.4 L1014.9,1274.7 L1023.0,1275.2" fill="none" stroke="#000" stroke-width="6.5" />
<path d="M526.3,1505.4 L526.6,1500.7 L527.1,1496.0 L527.8,1491.2 L528.6,1486.5 L529.6,1481.8 L530.7,1477.1 L531.9,1472.4 L533.3,1467.8 L534.9,1463.1 L536.6,1458.5 L538.4,1453.9 L540.4,1449.3 L542.5,1444.7 L544.8,1440.1 L547.2,1435.6 L549.8,1431.1 L552.5,1426.6 L555.3,1422.2 L558.3,1417.8 L561.4,1413.4 L564.7,1409.0 L568.1,1404.7 L571.6,1400.4 L575.3,1396.2 L579.1,1392.0 L583.0,1387.8 L587.1,1383.7 L591.3,1379.6 L595.6,1375.6 L600.0,1371.6 L604.6,1367.7 L609.3,1363.8 L614.1,1360.0 L619.0,1356.2 L624.1,1352.4 L629.3,1348.8 L634.6,1345.1 L640.0,1341.6 L645.5,1338.1 L651.1,1334.6 L656.8,1331.2 L662.7,1327.9 L668.6,1324.6 L674.6,1321.4 L680.8,1318.3 L687.0,1315.2 L693.3,1312.2 L699.8,1309.2 L706.3,1306.4 L712.9,1303.6 L719.6,1300.8 L726.4,1298.2 L733.3,1295.6 L740.2,1293.1 L747.2,1290.6 L754.3,1288.2 L761.5,1285.9 L768.8,1283.7 L776.1,1281.6 L783.5,1279.5 L790.9,1277.5 L798.4,1275.6 L806.0,1273.8 L813.6,1272.0 L821.3,1270.4 L829.0,1268.8 L836.8,1267.3 L844.6,1265.8 L852.5,1264.5 L860.4,1263.2 L868.3,1262.1 L876.3,1261.0 L884.3,1260.0 L892.4,1259.0 L900.4,1258.2 L908.5,1257.4 L916.7,1256.8 L924.8,1256.2 L933.0,1255.7 L941.1,1255.3 L949.3,1255.0 L957.5,1254.7 L965.7,1254.6 L973.9,1254.5 L982.1,1254.5 L990.3,1254.6 L998.5,1254.8 L1006.7,1255.1 L1014.9,1255.5 L1023.0,1255.9" fill="none" stroke="#000" stroke-width="6.5" />
<path d="M526.3,1486.2 L526.6,1481.4 L527.1,1476.7 L527.8,1472.0 L528.6,1467.3 L529.6,1462.6 L530.7,1457.9 L531.9,1453.2 L533.3,1448.5 L534.9,1443.9 L536.6,1439.2 L538.4,1434.6 L540.4,1430.0 L542.5,1425.4 L544.8,1420.9 L547.2,1416.3 L549.8,1411.8 L552.5,1407.4 L555.3,1402.9 L558.3,1398.5 L561.4,1394.1 L564.7,1389.8 L568.1,1385.5 L571.6,1381.2 L575.3,1376.9 L579.1,1372.7 L583.0,1368.6 L587.1,1364.5 L591.3,1360.4 L595.6,1356.4 L600.0,1352.4 L604.6,1348.4 L609.3,1344.6 L614.1,1340.7 L619.0,1336.9 L624.1,1333.2 L629.3,1329.5 L634.6,1325.9 L640.0,1322.3 L645.5,1318.8 L651.1,1315.4 L656.8,1312.0 L662.7,1308.6 L668.6,1305.4 L674.6,1302.2 L680.8,1299.0 L687.0,1295.9 L693.3,1292.9 L699.8,1290.0 L706.3,1287.1 L712.9,1284.3 L719.6,1281.6 L726.4,1278.9 L733.3,1276.3 L740.2,1273.8 L747.2,1271.4 L754.3,1269.0 L761.5,1266.7 L768.8,1264.5 L776.1,1262.3 L783.5,1260.3 L790.9,1258.3 L798.4,1256.4 L806.0,1254.5 L813.6,1252.8 L821.3,1251.1 L829.0,1249.5 L836.8,1248.0 L844.6,1246.6 L852.5,1245.2 L860.4,1244.0 L868.3,1242.8 L876.3,1241.7 L884.3,1240.7 L892.4,1239.8 L900.4,1238.9 L908.5,1238.2 L916.7,1237.5 L924.8,1236.9 L933.0,1236.4 L941.1,1236.0 L949.3,1235.7 L957.5,1235.5 L965.7,1235.3 L973.9,1235.3 L982.1,1235.3 L990.3,1235.4 L998.5,1235.6 L1006.7,1235.9 L1014.9,1236.2 L1023.0,1236.7" fill="none" stroke="#000" stroke-width="6.5" />
<path d="M526.3,1466.9 L526.6,1462.2 L527.1,1457.5 L527.8,1452.7 L528.6,1448.0 L529.6,1443.3 L530.7,1438.6 L531.9,1433.9 L533.3,1429.3 L534.9,1424.6 L536.6,1420.0 L538.4,1415.4 L540.4,1410.8 L542.5,1406.2 L544.8,1401.6 L547.2,1397.1 L549.8,1392.6 L552.5,1388.1 L555.3,1383.7 L558.3,1379.3 L561.4,1374.9 L564.7,1370.5 L568.1,1366.2 L571.6,1361.9 L575.3,1357.7 L579.1,1353.5 L583.0,1349.3 L587.1,1345.2 L591.3,1341.1 L595.6,1337.1 L600.0,1333.1 L604.6,1329.2 L609.3,1325.3 L614.1,1321.5 L619.0,1317.7 L624.1,1313.9 L629.3,1310.3 L634.6,1306.6 L640.0,1303.1 L645.5,1299.6 L651.1,1296.1 L656.8,1292.7 L662.7,1289.4 L668.6,1286.1 L674.6,1282.9 L680.8,1279.8 L687.0,1276.7 L693.3,1273.7 L699.8,1270.7 L706.3,1267.9 L712.9,1265.1 L719.6,1262.3 L726.4,1259.7 L733.3,1257.1 L740.2,1254.6 L747.2,1252.1 L754.3,1249.7 L761.5,1247.4 L768.8,1245.2 L776.1,1243.1 L783.5,1241.0 L790.9,1239.0 L798.4,1237.1 L806.0,1235.3 L813.6,1233.5 L821.3,1231.9 L829.0,1230.3 L836.8,1228.8 L844.6,1227.3 L852.5,1226.0 L860.4,1224.7 L868.3,1223.6 L876.3,1222.5 L884.3,1221.5 L892.4,1220.5 L900.4,1219.7 L908.5,1218.9 L916.7,1218.3 L924.8,1217.7 L933.0,1217.2 L941.1,1216.8 L949.3,1216.5 L957.5,1216.2 L965.7,1216.1 L973.9,1216.0 L982.1,1216.0 L990.3,1216.1 L998.5,1216.3 L1006.7,1216.6 L1014.9,1217.0 L1023.0,1217.4" fill="none" stroke="#000" stroke-width="6.5" />
<path d="M526.3,1447.7 L526.6,1442.9 L527.1,1438.2 L527.8,1433.5 L528.6,1428.8 L529.6,1424.1 L530.7,1419.4 L531.9,1414.7 L533.3,1410.0 L534.9,1405.4 L536.6,1400.7 L538.4,1396.1 L540.4,1391.5 L542.5,1386.9 L544.8,1382.4 L547.2,1377.8 L549.8,1373.3 L552.5,1368.9 L555.3,1364.4 L558.3,1360.0 L561.4,1355.6 L564.7,1351.3 L568.1,1347.0 L571.6,1342.7 L575.3,1338.4 L579.1,1334.2 L583.0,1330.1 L587.1,1326.0 L591.3,1321.9 L595.6,1317.9 L600.0,1313.9 L604.6,1309.9 L609.3,1306.1 L614.1,1302.2 L619.0,1298.4 L624.1,1294.7 L629.3,1291.0 L634.6,1287.4 L640.0,1283.8 L645.5,1280.3 L651.1,1276.9 L656.8,1273.5 L662.7,1270.1 L668.6,1266.9 L674.6,1263.7 L680.8,1260.5 L687.0,1257.4 L693.3,1254.4 L699.8,1251.5 L706.3,1248.6 L712.9,1245.8 L719.6,1243.1 L726.4,1240.4 L733.3,1237.8 L740.2,1235.3 L747.2,1232.9 L754.3,1230.5 L761.5,1228.2 L768.8,1226.0 L776.1,1223.8 L783.5,1221.8 L790.9,1219.8 L798.4,1217.9 L806.0,1216.0 L813.6,1214.3 L821.3,1212.6 L829.0,1211.0 L836.8,1209.5 L844.6,1208.1 L852.5,1206.7 L860.4,1205.5 L868.3,1204.3 L876.3,1203.2 L884.3,1202.2 L892.4,1201.3 L900.4,1200.4 L908.5,1199.7 L916.7,1199.0 L924.8,1198.4 L933.0,1197.9 L941.1,1197.5 L949.3,1197.2 L957.5,1197.0 L965.7,1196.8 L973.9,1196.8 L982.1,1196.8 L990.3,1196.9 L998.5,1197.1 L1006.7,1197.4 L1014.9,1197.7 L1023.0,1198.2" fill="none" stroke="#000" stroke-width="6.5" />
<path d="M526.3,1428.4 L526.6,1423.7 L527.1,1419.0 L527.8,1414.2 L528.6,1409.5 L529.6,1404.8 L530.7,1400.1 L531.9,1395.4 L533.3,1390.8 L534.9,1386.1 L536.6,1381.5 L538.4,1376.9 L540.4,1372.3 L542.5,1367.7 L544.8,1363.1 L547.2,1358.6 L549.8,1354.1 L552.5,1349.6 L555.3,1345.2 L558.3,1340.8 L561.4,1336.4 L564.7,1332.0 L568.1,1327.7 L571.6,1323.4 L575.3,1319.2 L579.1,1315.0 L583.0,1310.8 L587.1,1306.7 L591.3,1302.6 L595.6,1298.6 L600.0,1294.6 L604.6,1290.7 L609.3,1286.8 L614.1,1283.0 L619.0,1279.2 L624.1,1275.4 L629.3,1271.8 L634.6,1268.1 L640.0,1264.6 L645.5,1261.1 L651.1,1257.6 L656.8,1254.2 L662.7,1250.9 L668.6,1247.6 L674.6,1244.4 L680.8,1241.3 L687.0,1238.2 L693.3,1235.2 L699.8,1232.2 L706.3,1229.4 L712.9,1226.6 L719.6,1223.8 L726.4,1221.2 L733.3,1218.6 L740.2,1216.1 L747.2,1213.6 L754.3,1211.2 L761.5,1208.9 L768.8,1206.7 L776.1,1204.6 L783.5,1202.5 L790.9,1200.5 L798.4,1198.6 L806.0,1196.8 L813.6,1195.0 L821.3,1193.4 L829.0,1191.8 L836.8,1190.3 L844.6,1188.8 L852.5,1187.5 L860.4,1186.2 L868.3,1185.1 L876.3,1184.0 L884.3,1183.0 L892.4,1182.0 L900.4,1181.2 L908.5,1180.4 L916.7,1179.8 L924.8,1179.2 L933.0,1178.7 L941.1,1178.3 L949.3,1178.0 L957.5,1177.7 L965.7,1177.6 L973.9,1177.5 L982.1,1177.5 L990.3,1177.6 L998.5,1177.8 L1006.7,1178.1 L1014.9,1178.5 L1023.0,1178.9" fill="none" stroke="#000" stroke-width="6.5" />
<path d="M526.3,1409.2 L526.6,1404.4 L527.1,1399.7 L527.8,1395.0 L528.6,1390.3 L529.6,1385.6 L530.7,1380.9 L531.9,1376.2 L533.3,1371.5 L534.9,1366.9 L536.6,1362.2 L538.4,1357.6 L540.4,1353.0 L542.5,1348.4 L544.8,1343.9 L547.2,1339.3 L549.8,1334.8 L552.5,1330.4 L555.3,1325.9 L558.3,1321.5 L561.4,1317.1 L564.7,1312.8 L568.1,1308.5 L571.6,1304.2 L575.3,1299.9 L579.1,1295.7 L583.0,1291.6 L587.1,1287.5 L591.3,1283.4 L595.6,1279.4 L600.0,1275.4 L604.6,1271.4 L609.3,1267.6 L614.1,1263.7 L619.0,1259.9 L624.1,1256.2 L629.3,1252.5 L634.6,1248.9 L640.0,1245.3 L645.5,1241.8 L651.1,1238.4 L656.8,1235.0 L662.7,1231.6 L668.6,1228.4 L674.6,1225.2 L680.8,1222.0 L687.0,1218.9 L693.3,1215.9 L699.8,1213.0 L706.3,1210.1 L712.9,1207.3 L719.6,1204.6 L726.4,1201.9 L733.3,1199.3 L740.2,1196.8 L747.2,1194.4 L754.3,1192.0 L761.5,1189.7 L768.8,1187.5 L776.1,1185.3 L783.5,1183.3 L790.9,1181.3 L798.4,1179.4 L806.0,1177.5 L813.6,1175.8 L821.3,1174.1 L829.0,1172.5 L836.8,1171.0 L844.6,1169.6 L852.5,1168.2 L860.4,1167.0 L868.3,1165.8 L876.3,1164.7 L884.3,1163.7 L892.4,1162.8 L900.4,1161.9 L908.5,1161.2 L916.7,1160.5 L924.8,1159.9 L933.0,1159.4 L941.1,1159.0 L949.3,1158.7 L957.5,1158.5 L965.7,1158.3 L973.9,1158.3 L982.1,1158.3 L990.3,1158.4 L998.5,1158.6 L1006.7,1158.9 L1014.9,1159.2 L1023.0,1159.7" fill="none" stroke="#000" stroke-width="6.5" />
<path d="M526.3,1389.9 L526.6,1385.2 L527.1,1380.5 L527.8,1375.7 L528.6,1371.0 L529.6,1366.3 L530.7,1361.6 L531.9,1356.9 L533.3,1352.3 L534.9,1347.6 L536.6,1343.0 L538.4,1338.4 L540.4,1333.8 L542.5,1329.2 L544.8,1324.6 L547.2,1320.1 L549.8,1315.6 L552.5,1311.1 L555.3,1306.7 L558.3,1302.3 L561.4,1297.9 L564.7,1293.5 L568.1,1289.2 L571.6,1284.9 L575.3,1280.7 L579.1,1276.5 L583.0,1272.3 L587.1,1268.2 L591.3,1264.1 L595.6,1260.1 L600.0,1256.1 L604.6,1252.2 L609.3,1248.3 L614.1,1244.5 L619.0,1240.7 L624.1,1236.9 L629.3,1233.3 L634.6,1229.6 L640.0,1226.1 L645.5,1222.6 L651.1,1219.1 L656.8,1215.7 L662.7,1212.4 L668.6,1209.1 L674.6,1205.9 L680.8,1202.8 L687.0,1199.7 L693.3,1196.7 L699.8,1193.7 L706.3,1190.9 L712.9,1188.1 L719.6,1185.3 L726.4,1182.7 L733.3,1180.1 L740.2,1177.6 L747.2,1175.1 L754.3,1172.7 L761.5,1170.4 L768.8,1168.2 L776.1,1166.1 L783.5,1164.0 L790.9,1162.0 L798.4,1160.1 L806.0,1158.3 L813.6,1156.5 L821.3,1154.9 L829.0,1153.3 L836.8,1151.8 L844.6,1150.3 L852.5,1149.0 L860.4,1147.7 L868.3,1146.6 L876.3,1145.5 L884.3,1144.5 L892.4,1143.5 L900.4,1142.7 L908.5,1141.9 L916.7,1141.3 L924.8,1140.7 L933.0,1140.2 L941.1,1139.8 L949.3,1139.5 L957.5,1139.2 L965.7,1139.1 L973.9,1139.0 L982.1,1139.0 L990.3,1139.1 L998.5,1139.3 L1006.7,1139.6 L1014.9,1140.0 L1023.0,1140.4" fill="none" stroke="#000" stroke-width="6.5" />
<path d="M526.3,1370.7 L526.6,1365.9 L527.1,1361.2 L527.8,1356.5 L528.6,1351.8 L529.6,1347.1 L530.7,1342.4 L531.9,1337.7 L533.3,1333.0 L534.9,1328.4 L536.6,1323.7 L538.4,1319.1 L540.4,1314.5 L542.5,1309.9 L544.8,1305.4 L547.2,1300.8 L549.8,1296.3 L552.5,1291.9 L555.3,1287.4 L558.3,1283.0 L561.4,1278.6 L564.7,1274.3 L568.1,1270.0 L571.6,1265.7 L575.3,1261.4 L579.1,1257.2 L583.0,1253.1 L587.1,1249.0 L591.3,1244.9 L595.6,1240.9 L600.0,1236.9 L604.6,1232.9 L609.3,1229.1 L614.1,1225.2 L619.0,1221.4 L624.1,1217.7 L629.3,1214.0 L634.6,1210.4 L640.0,1206.8 L645.5,1203.3 L651.1,1199.9 L656.8,1196.5 L662.7,1193.1 L668.6,1189.9 L674.6,1186.7 L680.8,1183.5 L687.0,1180.4 L693.3,1177.4 L699.8,1174.5 L706.3,1171.6 L712.9,1168.8 L719.6,1166.1 L726.4,1163.4 L733.3,1160.8 L740.2,1158.3 L747.2,1155.9 L754.3,1153.5 L761.5,1151.2 L768.8,1149.0 L776.1,1146.8 L783.5,1144.8 L790.9,1142.8 L798.4,1140.9 L806.0,1139.0 L813.6,1137.3 L821.3,1135.6 L829.0,1134.0 L836.8,1132.5 L844.6,1131.1 L852.5,1129.7 L860.4,1128.5 L868.3,1127.3 L876.3,1126.2 L884.3,1125.2 L892.4,1124.3 L900.4,1123.4 L908.5,1122.7 L916.7,1122.0 L924.8,1121.4 L933.0,1120.9 L941.1,1120.5 L949.3,1120.2 L957.5,1120.0 L965.7,1119.8 L973.9,1119.8 L982.1,1119.8 L990.3,1119.9 L998.5,1120.1 L1006.7,1120.4 L1014.9,1120.7 L1023.0,1121.2" fill="none" stroke="#000" stroke-width="6.5" />
<path d="M526.3,1351.4 L526.6,1346.7 L527.1,1342.0 L527.8,1337.2 L528.6,1332.5 L529.6,1327.8 L530.7,1323.1 L531.9,1318.4 L533.3,1313.8 L534.9,1309.1 L536.6,1304.5 L538.4,1299.9 L540.4,1295.3 L542.5,1290.7 L544.8,1286.1 L547.2,1281.6 L549.8,1277.1 L552.5,1272.6 L555.3,1268.2 L558.3,1263.8 L561.4,1259.4 L564.7,1255.0 L568.1,1250.7 L571.6,1246.4 L575.3,1242.2 L579.1,1238.0 L583.0,1233.8 L587.1,1229.7 L591.3,1225.6 L595.6,1221.6 L600.0,1217.6 L604.6,1213.7 L609.3,1209.8 L614.1,1206.0 L619.0,1202.2 L624.1,1198.4 L629.3,1194.8 L634.6,1191.1 L640.0,1187.6 L645.5,1184.1 L651.1,1180.6 L656.8,1177.2 L662.7,1173.9 L668.6,1170.6 L674.6,1167.4 L680.8,1164.3 L687.0,1161.2 L693.3,1158.2 L699.8,1155.2 L706.3,1152.4 L712.9,1149.6 L719.6,1146.8 L726.4,1144.2 L733.3,1141.6 L740.2,1139.1 L747.2,1136.6 L754.3,1134.2 L761.5,1131.9 L768.8,1129.7 L776.1,1127.6 L783.5,1125.5 L790.9,1123.5 L798.4,1121.6 L806.0,1119.8 L813.6,1118.0 L821.3,1116.4 L829.0,1114.8 L836.8,1113.3 L844.6,1111.8 L852.5,1110.5 L860.4,1109.2 L868.3,1108.1 L876.3,1107.0 L884.3,1106.0 L892.4,1105.0 L900.4,1104.2 L908.5,1103.4 L916.7,1102.8 L924.8,1102.2 L933.0,1101.7 L941.1,1101.3 L949.3,1101.0 L957.5,1100.7 L965.7,1100.6 L973.9,1100.5 L982.1,1100.5 L990.3,1100.6 L998.5,1100.8 L1006.7,1101.1 L1014.9,1101.5 L1023.0,1101.9" fill="none" stroke="#000" stroke-width="6.5" />
<path d="M526.3,1332.2 L526.6,1327.4 L527.1,1322.7 L527.8,1318.0 L528.6,1313.3 L529.6,1308.6 L530.7,1303.9 L531.9,1299.2 L533.3,1294.5 L534.9,1289.9 L536.6,1285.2 L538.4,1280.6 L540.4,1276.0 L542.5,1271.4 L544.8,1266.9 L547.2,1262.3 L549.8,1257.8 L552.5,1253.4 L555.3,1248.9 L558.3,1244.5 L561.4,1240.1 L564.7,1235.8 L568.1,1231.5 L571.6,1227.2 L575.3,1222.9 L579.1,1218.7 L583.0,1214.6 L587.1,1210.5 L591.3,1206.4 L595.6,1202.4 L600.0,1198.4 L604.6,1194.4 L609.3,1190.6 L614.1,1186.7 L619.0,1182.9 L624.1,1179.2 L629.3,1175.5 L634.6,1171.9 L640.0,1168.3 L645.5,1164.8 L651.1,1161.4 L656.8,1158.0 L662.7,1154.6 L668.6,1151.4 L674.6,1148.2 L680.8,1145.0 L687.0,1141.9 L693.3,1138.9 L699.8,1136.0 L706.3,1133.1 L712.9,1130.3 L719.6,1127.6 L726.4,1124.9 L733.3,1122.3 L740.2,1119.8 L747.2,1117.4 L754.3,1115.0 L761.5,1112.7 L768.8,1110.5 L776.1,1108.3 L783.5,1106.3 L790.9,1104.3 L798.4,1102.4 L806.0,1100.5 L813.6,1098.8 L821.3,1097.1 L829.0,1095.5 L836.8,1094.0 L844.6,1092.6 L852.5,1091.2 L860.4,1090.0 L868.3,1088.8 L876.3,1087.7 L884.3,1086.7 L892.4,1085.8 L900.4,1084.9 L908.5,1084.2 L916.7,1083.5 L924.8,1082.9 L933.0,1082.4 L941.1,1082.0 L949.3,1081.7 L957.5,1081.5 L965.7,1081.3 L973.9,1081.3 L982.1,1081.3 L990.3,1081.4 L998.5,1081.6 L1006.7,1081.9 L1014.9,1082.2 L1023.0,1082.7" fill="none" stroke="#000" stroke-width="6.5" />
<path d="M526.3,1312.9 L526.6,1308.2 L527.1,1303.5 L527.8,1298.7 L528.6,1294.0 L529.6,1289.3 L530.7,1284.6 L531.9,1279.9 L533.3,1275.3 L534.9,1270.6 L536.6,1266.0 L538.4,1261.4 L540.4,1256.8 L542.5,1252.2 L544.8,1247.6 L547.2,1243.1 L549.8,1238.6 L552.5,1234.1 L555.3,1229.7 L558.3,1225.3 L561.4,1220.9 L564.7,1216.5 L568.1,1212.2 L571.6,1207.9 L575.3,1203.7 L579.1,1199.5 L583.0,1195.3 L587.1,1191.2 L591.3,1187.1 L595.6,1183.1 L600.0,1179.1 L604.6,1175.2 L609.3,1171.3 L614.1,1167.5 L619.0,1163.7 L624.1,1159.9 L629.3,1156.3 L634.6,1152.6 L640.0,1149.1 L645.5,1145.6 L651.1,1142.1 L656.8,1138.7 L662.7,1135.4 L668.6,1132.1 L674.6,1128.9 L680.8,1125.8 L687.0,1122.7 L693.3,1119.7 L699.8,1116.7 L706.3,1113.9 L712.9,1111.1 L719.6,1108.3 L726.4,1105.7 L733.3,1103.1 L740.2,1100.6 L747.2,1098.1 L754.3,1095.7 L761.5,1093.4 L768.8,1091.2 L776.1,1089.1 L783.5,1087.0 L790.9,1085.0 L798.4,1083.1 L806.0,1081.3 L813.6,1079.5 L821.3,1077.9 L829.0,1076.3 L836.8,1074.8 L844.6,1073.3 L852.5,1072.0 L860.4,1070.7 L868.3,1069.6 L876.3,1068.5 L884.3,1067.5 L892.4,1066.5 L900.4,1065.7 L908.5,1064.9 L916.7,1064.3 L924.8,1063.7 L933.0,1063.2 L941.1,1062.8 L949.3,1062.5 L957.5,1062.2 L965.7,1062.1 L973.9,1062.0 L982.1,1062.0 L990.3,1062.1 L998.5,1062.3 L1006.7,1062.6 L1014.9,1063.0 L1023.0,1063.4" fill="none" stroke="#000" stroke-width="6.5" />
<path d="M526.3,1293.7 L526.6,1288.9 L527.1,1284.2 L527.8,1279.5 L528.6,1274.8 L529.6,1270.1 L530.7,1265.4 L531.9,1260.7 L533.3,1256.0 L534.9,1251.4 L536.6,1246.7 L538.4,1242.1 L540.4,1237.5 L542.5,1232.9 L544.8,1228.4 L547.2,1223.8 L549.8,1219.3 L552.5,1214.9 L555.3,1210.4 L558.3,1206.0 L561.4,1201.6 L564.7,1197.3 L568.1,1193.0 L571.6,1188.7 L575.3,1184.4 L579.1,1180.2 L583.0,1176.1 L587.1,1172.0 L591.3,1167.9 L595.6,1163.9 L600.0,1159.9 L604.6,1155.9 L609.3,1152.1 L614.1,1148.2 L619.0,1144.4 L624.1,1140.7 L629.3,1137.0 L634.6,1133.4 L640.0,1129.8 L645.5,1126.3 L651.1,1122.9 L656.8,1119.5 L662.7,1116.1 L668.6,1112.9 L674.6,1109.7 L680.8,1106.5 L687.0,1103.4 L693.3,1100.4 L699.8,1097.5 L706.3,1094.6 L712.9,1091.8 L719.6,1089.1 L726.4,1086.4 L733.3,1083.8 L740.2,1081.3 L747.2,1078.9 L754.3,1076.5 L761.5,1074.2 L768.8,1072.0 L776.1,1069.8 L783.5,1067.8 L790.9,1065.8 L798.4,1063.9 L806.0,1062.0 L813.6,1060.3 L821.3,1058.6 L829.0,1057.0 L836.8,1055.5 L844.6,1054.1 L852.5,1052.7 L860.4,1051.5 L868.3,1050.3 L876.3,1049.2 L884.3,1048.2 L892.4,1047.3 L900.4,1046.4 L908.5,1045.7 L916.7,1045.0 L924.8,1044.4 L933.0,1043.9 L941.1,1043.5 L949.3,1043.2 L957.5,1043.0 L965.7,1042.8 L973.9,1042.8 L982.1,1042.8 L990.3,1042.9 L998.5,1043.1 L1006.7,1043.4 L1014.9,1043.7 L1023.0,1044.2" fill="none" stroke="#000" stroke-width="6.5" />
<path d="M526.3,1274.4 L526.6,1269.7 L527.1,1265.0 L527.8,1260.2 L528.6,1255.5 L529.6,1250.8 L530.7,1246.1 L531.9,1241.4 L533.3,1236.8 L534.9,1232.1 L536.6,1227.5 L538.4,1222.9 L540.4,1218.3 L542.5,1213.7 L544.8,1209.1 L547.2,1204.6 L549.8,1200.1 L552.5,1195.6 L555.3,1191.2 L558.3,1186.8 L561.4,1182.4 L564.7,1178.0 L568.1,1173.7 L571.6,1169.4 L575.3,1165.2 L579.1,1161.0 L583.0,1156.8 L587.1,1152.7 L591.3,1148.6 L595.6,1144.6 L600.0,1140.6 L604.6,1136.7 L609.3,1132.8 L614.1,1129.0 L619.0,1125.2 L624.1,1121.4 L629.3,1117.8 L634.6,1114.1 L640.0,1110.6 L645.5,1107.1 L651.1,1103.6 L656.8,1100.2 L662.7,1096.9 L668.6,1093.6 L674.6,1090.4 L680.8,1087.3 L687.0,1084.2 L693.3,1081.2 L699.8,1078.2 L706.3,1075.4 L712.9,1072.6 L719.6,1069.8 L726.4,1067.2 L733.3,1064.6 L740.2,1062.1 L747.2,1059.6 L754.3,1057.2 L761.5,1054.9 L768.8,1052.7 L776.1,1050.6 L783.5,1048.5 L790.9,1046.5 L798.4,1044.6 L806.0,1042.8 L813.6,1041.0 L821.3,1039.4 L829.0,1037.8 L836.8,1036.3 L844.6,1034.8 L852.5,1033.5 L860.4,1032.2 L868.3,1031.1 L876.3,1030.0 L884.3,1029.0 L892.4,1028.0 L900.4,1027.2 L908.5,1026.4 L916.7,1025.8 L924.8,1025.2 L933.0,1024.7 L941.1,1024.3 L949.3,1024.0 L957.5,1023.7 L965.7,1023.6 L973.9,1023.5 L982.1,1023.5 L990.3,1023.6 L998.5,1023.8 L1006.7,1024.1 L1014.9,1024.5 L1023.0,1024.9" fill="none" stroke="#000" stroke-width="6.5" />
<path d="M526.3,1255.2 L526.6,1250.4 L527.1,1245.7 L527.8,1241.0 L528.6,1236.3 L529.6,1231.6 L530.7,1226.9 L531.9,1222.2 L533.3,1217.5 L534.9,1212.9 L536.6,1208.2 L538.4,1203.6 L540.4,1199.0 L542.5,1194.4 L544.8,1189.9 L547.2,1185.3 L549.8,1180.8 L552.5,1176.4 L555.3,1171.9 L558.3,1167.5 L561.4,1163.1 L564.7,1158.8 L568.1,1154.5 L571.6,1150.2 L575.3,1145.9 L579.1,1141.7 L583.0,1137.6 L587.1,1133.5 L591.3,1129.4 L595.6,1125.4 L600.0,1121.4 L604.6,1117.4 L609.3,1113.6 L614.1,1109.7 L619.0,1105.9 L624.1,1102.2 L629.3,1098.5 L634.6,1094.9 L640.0,1091.3 L645.5,1087.8 L651.1,1084.4 L656.8,1081.0 L662.7,1077.6 L668.6,1074.4 L674.6,1071.2 L680.8,1068.0 L687.0,1064.9 L693.3,1061.9 L699.8,1059.0 L706.3,1056.1 L712.9,1053.3 L719.6,1050.6 L726.4,1047.9 L733.3,1045.3 L740.2,1042.8 L747.2,1040.4 L754.3,1038.0 L761.5,1035.7 L768.8,1033.5 L776.1,1031.3 L783.5,1029.3 L790.9,1027.3 L798.4,1025.4 L806.0,1023.5 L813.6,1021.8 L821.3,1020.1 L829.0,1018.5 L836.8,1017.0 L844.6,1015.6 L852.5,1014.2 L860.4,1013.0 L868.3,1011.8 L876.3,1010.7 L884.3,1009.7 L892.4,1008.8 L900.4,1007.9 L908.5,1007.2 L916.7,1006.5 L924.8,1005.9 L933.0,1005.4 L941.1,1005.0 L949.3,1004.7 L957.5,1004.5 L965.7,1004.3 L973.9,1004.3 L982.1,1004.3 L990.3,1004.4 L998.5,1004.6 L1006.7,1004.9 L1014.9,1005.2 L1023.0,1005.7" fill="none" stroke="#000" stroke-width="6.5" />
<path d="M526.3,1235.9 L526.6,1231.2 L527.1,1226.5 L527.8,1221.7 L528.6,1217.0 L529.6,1212.3 L530.7,1207.6 L531.9,1202.9 L533.3,1198.3 L534.9,1193.6 L536.6,1189.0 L538.4,1184.4 L540.4,1179.8 L542.5,1175.2 L544.8,1170.6 L547.2,1166.1 L549.8,1161.6 L552.5,1157.1 L555.3,1152.7 L558.3,1148.3 L561.4,1143.9 L564.7,1139.5 L568.1,1135.2 L571.6,1130.9 L575.3,1126.7 L579.1,1122.5 L583.0,1118.3 L587.1,1114.2 L591.3,1110.1 L595.6,1106.1 L600.0,1102.1 L604.6,1098.2 L609.3,1094.3 L614.1,1090.5 L619.0,1086.7 L624.1,1082.9 L629.3,1079.3 L634.6,1075.6 L640.0,1072.1 L645.5,1068.6 L651.1,1065.1 L656.8,1061.7 L662.7,1058.4 L668.6,1055.1 L674.6,1051.9 L680.8,1048.8 L687.0,1045.7 L693.3,1042.7 L699.8,1039.7 L706.3,1036.9 L712.9,1034.1 L719.6,1031.3 L726.4,1028.7 L733.3,1026.1 L740.2,1023.6 L747.2,1021.1 L754.3,1018.7 L761.5,1016.4 L768.8,1014.2 L776.1,1012.1 L783.5,1010.0 L790.9,1008.0 L798.4,1006.1 L806.0,1004.3 L813.6,1002.5 L821.3,1000.9 L829.0,999.3 L836.8,997.8 L844.6,996.3 L852.5,995.0 L860.4,993.7 L868.3,992.6 L876.3,991.5 L884.3,990.5 L892.4,989.5 L900.4,988.7 L908.5,987.9 L916.7,987.3 L924.8,986.7 L933.0,986.2 L941.1,985.8 L949.3,985.5 L957.5,985.2 L965.7,985.1 L973.9,985.0 L982.1,985.0 L990.3,985.1 L998.5,985.3 L1006.7,985.6 L1014.9,986.0 L1023.0,986.4" fill="none" stroke="#000" stroke-width="6.5" />
<path d="M526.3,1216.7 L526.6,1211.9 L527.1,1207.2 L527.8,1202.5 L528.6,1197.8 L529.6,1193.1 L530.7,1188.4 L531.9,1183.7 L533.3,1179.0 L534.9,1174.4 L536.6,1169.7 L538.4,1165.1 L540.4,1160.5 L542.5,1155.9 L544.8,1151.4 L547.2,1146.8 L549.8,1142.3 L552.5,1137.9 L555.3,1133.4 L558.3,1129.0 L561.4,1124.6 L564.7,1120.3 L568.1,1116.0 L571.6,1111.7 L575.3,1107.4 L579.1,1103.2 L583.0,1099.1 L587.1,1095.0 L591.3,1090.9 L595.6,1086.9 L600.0,1082.9 L604.6,1078.9 L609.3,1075.1 L614.1,1071.2 L619.0,1067.4 L624.1,1063.7 L629.3,1060.0 L634.6,1056.4 L640.0,1052.8 L645.5,1049.3 L651.1,1045.9 L656.8,1042.5 L662.7,1039.1 L668.6,1035.9 L674.6,1032.7 L680.8,1029.5 L687.0,1026.4 L693.3,1023.4 L699.8,1020.5 L706.3,1017.6 L712.9,1014.8 L719.6,1012.1 L726.4,1009.4 L733.3,1006.8 L740.2,1004.3 L747.2,1001.9 L754.3,999.5 L761.5,997.2 L768.8,995.0 L776.1,992.8 L783.5,990.8 L790.9,988.8 L798.4,986.9 L806.0,985.0 L813.6,983.3 L821.3,981.6 L829.0,980.0 L836.8,978.5 L844.6,977.1 L852.5,975.7 L860.4,974.5 L868.3,973.3 L876.3,972.2 L884.3,971.2 L892.4,970.3 L900.4,969.4 L908.5,968.7 L916.7,968.0 L924.8,967.4 L933.0,966.9 L941.1,966.5 L949.3,966.2 L957.5,966.0 L965.7,965.8 L973.9,965.8 L982.1,965.8 L990.3,965.9 L998.5,966.1 L1006.7,966.4 L1014.9,966.7 L1023.0,967.2" fill="none" stroke="#000" stroke-width="6.5" />
<path d="M526.3,1197.4 L526.6,1192.7 L527.1,1188.0 L527.8,1183.2 L528.6,1178.5 L529.6,1173.8 L530.7,1169.1 L531.9,1164.4 L533.3,1159.8 L534.9,1155.1 L536.6,1150.5 L538.4,1145.9 L540.4,1141.3 L542.5,1136.7 L544.8,1132.1 L547.2,1127.6 L549.8,1123.1 L552.5,1118.6 L555.3,1114.2 L558.3,1109.8 L561.4,1105.4 L564.7,1101.0 L568.1,1096.7 L571.6,1092.4 L575.3,1088.2 L579.1,1084.0 L583.0,1079.8 L587.1,1075.7 L591.3,1071.6 L595.6,1067.6 L600.0,1063.6 L604.6,1059.7 L609.3,1055.8 L614.1,1052.0 L619.0,1048.2 L624.1,1044.4 L629.3,1040.8 L634.6,1037.1 L640.0,1033.6 L645.5,1030.1 L651.1,1026.6 L656.8,1023.2 L662.7,1019.9 L668.6,1016.6 L674.6,1013.4 L680.8,1010.3 L687.0,1007.2 L693.3,1004.2 L699.8,1001.2 L706.3,998.4 L712.9,995.6 L719.6,992.8 L726.4,990.2 L733.3,987.6 L740.2,985.1 L747.2,982.6 L754.3,980.2 L761.5,977.9 L768.8,975.7 L776.1,973.6 L783.5,971.5 L790.9,969.5 L798.4,967.6 L806.0,965.8 L813.6,964.0 L821.3,962.4 L829.0,960.8 L836.8,959.3 L844.6,957.8 L852.5,956.5 L860.4,955.2 L868.3,954.1 L876.3,953.0 L884.3,952.0 L892.4,951.0 L900.4,950.2 L908.5,949.4 L916.7,948.8 L924.8,948.2 L933.0,947.7 L941.1,947.3 L949.3,947.0 L957.5,946.7 L965.7,946.6 L973.9,946.5 L982.1,946.5 L990.3,946.6 L998.5,946.8 L1006.7,947.1 L1014.9,947.5 L1023.0,947.9" fill="none" stroke="#000" stroke-width="6.5" />
<path d="M526.3,1178.2 L526.6,1173.4 L527.1,1168.7 L527.8,1164.0 L528.6,1159.3 L529.6,1154.6 L530.7,1149.9 L531.9,1145.2 L533.3,1140.5 L534.9,1135.9 L536.6,1131.2 L538.4,1126.6 L540.4,1122.0 L542.5,1117.4 L544.8,1112.9 L547.2,1108.3 L549.8,1103.8 L552.5,1099.4 L555.3,1094.9 L558.3,1090.5 L561.4,1086.1 L564.7,1081.8 L568.1,1077.5 L571.6,1073.2 L575.3,1068.9 L579.1,1064.7 L583.0,1060.6 L587.1,1056.5 L591.3,1052.4 L595.6,1048.4 L600.0,1044.4 L604.6,1040.4 L609.3,1036.6 L614.1,1032.7 L619.0,1028.9 L624.1,1025.2 L629.3,1021.5 L634.6,1017.9 L640.0,1014.3 L645.5,1010.8 L651.1,1007.4 L656.8,1004.0 L662.7,1000.6 L668.6,997.4 L674.6,994.2 L680.8,991.0 L687.0,987.9 L693.3,984.9 L699.8,982.0 L706.3,979.1 L712.9,976.3 L719.6,973.6 L726.4,970.9 L733.3,968.3 L740.2,965.8 L747.2,963.4 L754.3,961.0 L761.5,958.7 L768.8,956.5 L776.1,954.3 L783.5,952.3 L790.9,950.3 L798.4,948.4 L806.0,946.5 L813.6,944.8 L821.3,943.1 L829.0,941.5 L836.8,940.0 L844.6,938.6 L852.5,937.2 L860.4,936.0 L868.3,934.8 L876.3,933.7 L884.3,932.7 L892.4,931.8 L900.4,930.9 L908.5,930.2 L916.7,929.5 L924.8,928.9 L933.0,928.4 L941.1,928.0 L949.3,927.7 L957.5,927.5 L965.7,927.3 L973.9,927.3 L982.1,927.3 L990.3,927.4 L998.5,927.6 L1006.7,927.9 L1014.9,928.2 L1023.0,928.7" fill="none" stroke="#000" stroke-width="6.5" />
<path d="M526.3,1158.9 L526.6,1154.2 L527.1,1149.5 L527.8,1144.7 L528.6,1140.0 L529.6,1135.3 L530.7,1130.6 L531.9,1125.9 L533.3,1121.3 L534.9,1116.6 L536.6,1112.0 L538.4,1107.4 L540.4,1102.8 L542.5,1098.2 L544.8,1093.6 L547.2,1089.1 L549.8,1084.6 L552.5,1080.1 L555.3,1075.7 L558.3,1071.3 L561.4,1066.9 L564.7,1062.5 L568.1,1058.2 L571.6,1053.9 L575.3,1049.7 L579.1,1045.5 L583.0,1041.3 L587.1,1037.2 L591.3,1033.1 L595.6,1029.1 L600.0,1025.1 L604.6,1021.2 L609.3,1017.3 L614.1,1013.5 L619.0,1009.7 L624.1,1005.9 L629.3,1002.3 L634.6,998.6 L640.0,995.1 L645.5,991.6 L651.1,988.1 L656.8,984.7 L662.7,981.4 L668.6,978.1 L674.6,974.9 L680.8,971.8 L687.0,968.7 L693.3,965.7 L699.8,962.7 L706.3,959.9 L712.9,957.1 L719.6,954.3 L726.4,951.7 L733.3,949.1 L740.2,946.6 L747.2,944.1 L754.3,941.7 L761.5,939.4 L768.8,937.2 L776.1,935.1 L783.5,933.0 L790.9,931.0 L798.4,929.1 L806.0,927.3 L813.6,925.5 L821.3,923.9 L829.0,922.3 L836.8,920.8 L844.6,919.3 L852.5,918.0 L860.4,916.7 L868.3,915.6 L876.3,914.5 L884.3,913.5 L892.4,912.5 L900.4,911.7 L908.5,910.9 L916.7,910.3 L924.8,909.7 L933.0,909.2 L941.1,908.8 L949.3,908.5 L957.5,908.2 L965.7,908.1 L973.9,908.0 L982.1,908.0 L990.3,908.1 L998.5,908.3 L1006.7,908.6 L1014.9,909.0 L1023.0,909.4" fill="none" stroke="#000" stroke-width="6.5" />
<path d="M526.3,1139.7 L526.6,1134.9 L527.1,1130.2 L527.8,1125.5 L528.6,1120.8 L529.6,1116.1 L530.7,1111.4 L531.9,1106.7 L533.3,1102.0 L534.9,1097.4 L536.6,1092.7 L538.4,1088.1 L540.4,1083.5 L542.5,1078.9 L544.8,1074.4 L547.2,1069.8 L549.8,1065.3 L552.5,1060.9 L555.3,1056.4 L558.3,1052.0 L561.4,1047.6 L564.7,1043.3 L568.1,1039.0 L571.6,1034.7 L575.3,1030.4 L579.1,1026.2 L583.0,1022.1 L587.1,1018.0 L591.3,1013.9 L595.6,1009.9 L600.0,1005.9 L604.6,1001.9 L609.3,998.1 L614.1,994.2 L619.0,990.4 L624.1,986.7 L629.3,983.0 L634.6,979.4 L640.0,975.8 L645.5,972.3 L651.1,968.9 L656.8,965.5 L662.7,962.1 L668.6,958.9 L674.6,955.7 L680.8,952.5 L687.0,949.4 L693.3,946.4 L699.8,943.5 L706.3,940.6 L712.9,937.8 L719.6,935.1 L726.4,932.4 L733.3,929.8 L740.2,927.3 L747.2,924.9 L754.3,922.5 L761.5,920.2 L768.8,918.0 L776.1,915.8 L783.5,913.8 L790.9,911.8 L798.4,909.9 L806.0,908.0 L813.6,906.3 L821.3,904.6 L829.0,903.0 L836.8,901.5 L844.6,900.1 L852.5,898.7 L860.4,897.5 L868.3,896.3 L876.3,895.2 L884.3,894.2 L892.4,893.3 L900.4,892.4 L908.5,891.7 L916.7,891.0 L924.8,890.4 L933.0,889.9 L941.1,889.5 L949.3,889.2 L957.5,889.0 L965.7,888.8 L973.9,888.8 L982.1,888.8 L990.3,888.9 L998.5,889.1 L1006.7,889.4 L1014.9,889.7 L1023.0,890.2" fill="none" stroke="#000" stroke-width="6.5" />
<path d="M526.3,1120.4 L526.6,1115.7 L527.1,1111.0 L527.8,1106.2 L528.6,1101.5 L529.6,1096.8 L530.7,1092.1 L531.9,1087.4 L533.3,1082.8 L534.9,1078.1 L536.6,1073.5 L538.4,1068.9 L540.4,1064.3 L542.5,1059.7 L544.8,1055.1 L547.2,1050.6 L549.8,1046.1 L552.5,1041.6 L555.3,1037.2 L558.3,1032.8 L561.4,1028.4 L564.7,1024.0 L568.1,1019.7 L571.6,1015.4 L575.3,1011.2 L579.1,1007.0 L583.0,1002.8 L587.1,998.7 L591.3,994.6 L595.6,990.6 L600.0,986.6 L604.6,982.7 L609.3,978.8 L614.1,975.0 L619.0,971.2 L624.1,967.4 L629.3,963.8 L634.6,960.1 L640.0,956.6 L645.5,953.1 L651.1,949.6 L656.8,946.2 L662.7,942.9 L668.6,939.6 L674.6,936.4 L680.8,933.3 L687.0,930.2 L693.3,927.2 L699.8,924.2 L706.3,921.4 L712.9,918.6 L719.6,915.8 L726.4,913.2 L733.3,910.6 L740.2,908.1 L747.2,905.6 L754.3,903.2 L761.5,900.9 L768.8,898.7 L776.1,896.6 L783.5,894.5 L790.9,892.5 L798.4,890.6 L806.0,888.8 L813.6,887.0 L821.3,885.4 L829.0,883.8 L836.8,882.3 L844.6,880.8 L852.5,879.5 L860.4,878.2 L868.3,877.1 L876.3,876.0 L884.3,875.0 L892.4,874.0 L900.4,873.2 L908.5,872.4 L916.7,871.8 L924.8,871.2 L933.0,870.7 L941.1,870.3 L949.3,870.0 L957.5,869.7 L965.7,869.6 L973.9,869.5 L982.1,869.5 L990.3,869.6 L998.5,869.8 L1006.7,870.1 L1014.9,870.5 L1023.0,870.9" fill="none" stroke="#000" stroke-width="6.5" />
<path d="M526.3,1101.2 L526.6,1096.4 L527.1,1091.7 L527.8,1087.0 L528.6,1082.3 L529.6,1077.6 L530.7,1072.9 L531.9,1068.2 L533.3,1063.5 L534.9,1058.9 L536.6,1054.2 L538.4,1049.6 L540.4,1045.0 L542.5,1040.4 L544.8,1035.9 L547.2,1031.3 L549.8,1026.8 L552.5,1022.4 L555.3,1017.9 L558.3,1013.5 L561.4,1009.1 L564.7,1004.8 L568.1,1000.5 L571.6,996.2 L575.3,991.9 L579.1,987.7 L583.0,983.6 L587.1,979.5 L591.3,975.4 L595.6,971.4 L600.0,967.4 L604.6,963.4 L609.3,959.6 L614.1,955.7 L619.0,951.9 L624.1,948.2 L629.3,944.5 L634.6,940.9 L640.0,937.3 L645.5,933.8 L651.1,930.4 L656.8,927.0 L662.7,923.6 L668.6,920.4 L674.6,917.2 L680.8,914.0 L687.0,910.9 L693.3,907.9 L699.8,905.0 L706.3,902.1 L712.9,899.3 L719.6,896.6 L726.4,893.9 L733.3,891.3 L740.2,888.8 L747.2,886.4 L754.3,884.0 L761.5,881.7 L768.8,879.5 L776.1,877.3 L783.5,875.3 L790.9,873.3 L798.4,871.4 L806.0,869.5 L813.6,867.8 L821.3,866.1 L829.0,864.5 L836.8,863.0 L844.6,861.6 L852.5,860.2 L860.4,859.0 L868.3,857.8 L876.3,856.7 L884.3,855.7 L892.4,854.8 L900.4,853.9 L908.5,853.2 L916.7,852.5 L924.8,851.9 L933.0,851.4 L941.1,851.0 L949.3,850.7 L957.5,850.5 L965.7,850.3 L973.9,850.3 L982.1,850.3 L990.3,850.4 L998.5,850.6 L1006.7,850.9 L1014.9,851.2 L1023.0,851.7" fill="none" stroke="#000" stroke-width="6.5" />
<path d="M526.3,1081.9 L526.6,1077.2 L527.1,1072.5 L527.8,1067.7 L528.6,1063.0 L529.6,1058.3 L530.7,1053.6 L531.9,1048.9 L533.3,1044.3 L534.9,1039.6 L536.6,1035.0 L538.4,1030.4 L540.4,1025.8 L542.5,1021.2 L544.8,1016.6 L547.2,1012.1 L549.8,1007.6 L552.5,1003.1 L555.3,998.7 L558.3,994.3 L561.4,989.9 L564.7,985.5 L568.1,981.2 L571.6,976.9 L575.3,972.7 L579.1,968.5 L583.0,964.3 L587.1,960.2 L591.3,956.1 L595.6,952.1 L600.0,948.1 L604.6,944.2 L609.3,940.3 L614.1,936.5 L619.0,932.7 L624.1,928.9 L629.3,925.3 L634.6,921.6 L640.0,918.1 L645.5,914.6 L651.1,911.1 L656.8,907.7 L662.7,904.4 L668.6,901.1 L674.6,897.9 L680.8,894.8 L687.0,891.7 L693.3,888.7 L699.8,885.7 L706.3,882.9 L712.9,880.1 L719.6,877.3 L726.4,874.7 L733.3,872.1 L740.2,869.6 L747.2,867.1 L754.3,864.7 L761.5,862.4 L768.8,860.2 L776.1,858.1 L783.5,856.0 L790.9,854.0 L798.4,852.1 L806.0,850.3 L813.6,848.5 L821.3,846.9 L829.0,845.3 L836.8,843.8 L844.6,842.3 L852.5,841.0 L860.4,839.7 L868.3,838.6 L876.3,837.5 L884.3,836.5 L892.4,835.5 L900.4,834.7 L908.5,833.9 L916.7,833.3 L924.8,832.7 L933.0,832.2 L941.1,831.8 L949.3,831.5 L957.5,831.2 L965.7,831.1 L973.9,831.0 L982.1,831.0 L990.3,831.1 L998.5,831.3 L1006.7,831.6 L1014.9,832.0 L1023.0,832.4" fill="none" stroke="#000" stroke-width="6.5" />
<path d="M526.3,1062.7 L526.6,1057.9 L527.1,1053.2 L527.8,1048.5 L528.6,1043.8 L529.6,1039.1 L530.7,1034.4 L531.9,1029.7 L533.3,1025.0 L534.9,1020.4 L536.6,1015.7 L538.4,1011.1 L540.4,1006.5 L542.5,1001.9 L544.8,997.4 L547.2,992.8 L549.8,988.3 L552.5,983.9 L555.3,979.4 L558.3,975.0 L561.4,970.6 L564.7,966.3 L568.1,962.0 L571.6,957.7 L575.3,953.4 L579.1,949.2 L583.0,945.1 L587.1,941.0 L591.3,936.9 L595.6,932.9 L600.0,928.9 L604.6,924.9 L609.3,921.1 L614.1,917.2 L619.0,913.4 L624.1,909.7 L629.3,906.0 L634.6,902.4 L640.0,898.8 L645.5,895.3 L651.1,891.9 L656.8,888.5 L662.7,885.1 L668.6,881.9 L674.6,878.7 L680.8,875.5 L687.0,872.4 L693.3,869.4 L699.8,866.5 L706.3,863.6 L712.9,860.8 L719.6,858.1 L726.4,855.4 L733.3,852.8 L740.2,850.3 L747.2,847.9 L754.3,845.5 L761.5,843.2 L768.8,841.0 L776.1,838.8 L783.5,836.8 L790.9,834.8 L798.4,832.9 L806.0,831.0 L813.6,829.3 L821.3,827.6 L829.0,826.0 L836.8,824.5 L844.6,823.1 L852.5,821.7 L860.4,820.5 L868.3,819.3 L876.3,818.2 L884.3,817.2 L892.4,816.3 L900.4,815.4 L908.5,814.7 L916.7,814.0 L924.8,813.4 L933.0,812.9 L941.1,812.5 L949.3,812.2 L957.5,812.0 L965.7,811.8 L973.9,811.8 L982.1,811.8 L990.3,811.9 L998.5,812.1 L1006.7,812.4 L1014.9,812.7 L1023.0,813.2" fill="none" stroke="#000" stroke-width="6.5" />
<path d="M526.3,1043.4 L526.6,1038.7 L527.1,1034.0 L527.8,1029.2 L528.6,1024.5 L529.6,1019.8 L530.7,1015.1 L531.9,1010.4 L533.3,1005.8 L534.9,1001.1 L536.6,996.5 L538.4,991.9 L540.4,987.3 L542.5,982.7 L544.8,978.1 L547.2,973.6 L549.8,969.1 L552.5,964.6 L555.3,960.2 L558.3,955.8 L561.4,951.4 L564.7,947.0 L568.1,942.7 L571.6,938.4 L575.3,934.2 L579.1,930.0 L583.0,925.8 L587.1,921.7 L591.3,917.6 L595.6,913.6 L600.0,909.6 L604.6,905.7 L609.3,901.8 L614.1,898.0 L619.0,894.2 L624.1,890.4 L629.3,886.8 L634.6,883.1 L640.0,879.6 L645.5,876.1 L651.1,872.6 L656.8,869.2 L662.7,865.9 L668.6,862.6 L674.6,859.4 L680.8,856.3 L687.0,853.2 L693.3,850.2 L699.8,847.2 L706.3,844.4 L712.9,841.6 L719.6,838.8 L726.4,836.2 L733.3,833.6 L740.2,831.1 L747.2,828.6 L754.3,826.2 L761.5,823.9 L768.8,821.7 L776.1,819.6 L783.5,817.5 L790.9,815.5 L798.4,813.6 L806.0,811.8 L813.6,810.0 L821.3,808.4 L829.0,806.8 L836.8,805.3 L844.6,803.8 L852.5,802.5 L860.4,801.2 L868.3,800.1 L876.3,799.0 L884.3,798.0 L892.4,797.0 L900.4,796.2 L908.5,795.4 L916.7,794.8 L924.8,794.2 L933.0,793.7 L941.1,793.3 L949.3,793.0 L957.5,792.7 L965.7,792.6 L973.9,792.5 L982.1,792.5 L990.3,792.6 L998.5,792.8 L1006.7,793.1 L1014.9,793.5 L1023.0,793.9" fill="none" stroke="#000" stroke-width="6.5" />
<path d="M526.3,1024.2 L526.6,1019.4 L527.1,1014.7 L527.8,1010.0 L528.6,1005.3 L529.6,1000.6 L530.7,995.9 L531.9,991.2 L533.3,986.5 L534.9,981.9 L536.6,977.2 L538.4,972.6 L540.4,968.0 L542.5,963.4 L544.8,958.9 L547.2,954.3 L549.8,949.8 L552.5,945.4 L555.3,940.9 L558.3,936.5 L561.4,932.1 L564.7,927.8 L568.1,923.5 L571.6,919.2 L575.3,914.9 L579.1,910.7 L583.0,906.6 L587.1,902.5 L591.3,898.4 L595.6,894.4 L600.0,890.4 L604.6,886.4 L609.3,882.6 L614.1,878.7 L619.0,874.9 L624.1,871.2 L629.3,867.5 L634.6,863.9 L640.0,860.3 L645.5,856.8 L651.1,853.4 L656.8,850.0 L662.7,846.6 L668.6,843.4 L674.6,840.2 L680.8,837.0 L687.0,833.9 L693.3,830.9 L699.8,828.0 L706.3,825.1 L712.9,822.3 L719.6,819.6 L726.4,816.9 L733.3,814.3 L740.2,811.8 L747.2,809.4 L754.3,807.0 L761.5,804.7 L768.8,802.5 L776.1,800.3 L783.5,798.3 L790.9,796.3 L798.4,794.4 L806.0,792.5 L813.6,790.8 L821.3,789.1 L829.0,787.5 L836.8,786.0 L844.6,784.6 L852.5,783.2 L860.4,782.0 L868.3,780.8 L876.3,779.7 L884.3,778.7 L892.4,777.8 L900.4,776.9 L908.5,776.2 L916.7,775.5 L924.8,774.9 L933.0,774.4 L941.1,774.0 L949.3,773.7 L957.5,773.5 L965.7,773.3 L973.9,773.3 L982.1,773.3 L990.3,773.4 L998.5,773.6 L1006.7,773.9 L1014.9,774.2 L1023.0,774.7" fill="none" stroke="#000" stroke-width="6.5" />
<path d="M526.3,1004.9 L526.6,1000.2 L527.1,995.5 L527.8,990.7 L528.6,986.0 L529.6,981.3 L530.7,976.6 L531.9,971.9 L533.3,967.3 L534.9,962.6 L536.6,958.0 L538.4,953.4 L540.4,948.8 L542.5,944.2 L544.8,939.6 L547.2,935.1 L549.8,930.6 L552.5,926.1 L555.3,921.7 L558.3,917.3 L561.4,912.9 L564.7,908.5 L568.1,904.2 L571.6,899.9 L575.3,895.7 L579.1,891.5 L583.0,887.3 L587.1,883.2 L591.3,879.1 L595.6,875.1 L600.0,871.1 L604.6,867.2 L609.3,863.3 L614.1,859.5 L619.0,855.7 L624.1,851.9 L629.3,848.3 L634.6,844.6 L640.0,841.1 L645.5,837.6 L651.1,834.1 L656.8,830.7 L662.7,827.4 L668.6,824.1 L674.6,820.9 L680.8,817.8 L687.0,814.7 L693.3,811.7 L699.8,808.7 L706.3,805.9 L712.9,803.1 L719.6,800.3 L726.4,797.7 L733.3,795.1 L740.2,792.6 L747.2,790.1 L754.3,787.7 L761.5,785.4 L768.8,783.2 L776.1,781.1 L783.5,779.0 L790.9,777.0 L798.4,775.1 L806.0,773.3 L813.6,771.5 L821.3,769.9 L829.0,768.3 L836.8,766.8 L844.6,765.3 L852.5,764.0 L860.4,762.7 L868.3,761.6 L876.3,760.5 L884.3,759.5 L892.4,758.5 L900.4,757.7 L908.5,756.9 L916.7,756.3 L924.8,755.7 L933.0,755.2 L941.1,754.8 L949.3,754.5 L957.5,754.2 L965.7,754.1 L973.9,754.0 L982.1,754.0 L990.3,754.1 L998.5,754.3 L1006.7,754.6 L1014.9,755.0 L1023.0,755.4" fill="none" stroke="#000" stroke-width="6.5" />
<path d="M526.3,985.7 L526.6,980.9 L527.1,976.2 L527.8,971.5 L528.6,966.8 L529.6,962.1 L530.7,957.4 L531.9,952.7 L533.3,948.0 L534.9,943.4 L536.6,938.7 L538.4,934.1 L540.4,929.5 L542.5,924.9 L544.8,920.4 L547.2,915.8 L549.8,911.3 L552.5,906.9 L555.3,902.4 L558.3,898.0 L561.4,893.6 L564.7,889.3 L568.1,885.0 L571.6,880.7 L575.3,876.4 L579.1,872.2 L583.0,868.1 L587.1,864.0 L591.3,859.9 L595.6,855.9 L600.0,851.9 L604.6,847.9 L609.3,844.1 L614.1,840.2 L619.0,836.4 L624.1,832.7 L629.3,829.0 L634.6,825.4 L640.0,821.8 L645.5,818.3 L651.1,814.9 L656.8,811.5 L662.7,808.1 L668.6,804.9 L674.6,801.7 L680.8,798.5 L687.0,795.4 L693.3,792.4 L699.8,789.5 L706.3,786.6 L712.9,783.8 L719.6,781.1 L726.4,778.4 L733.3,775.8 L740.2,773.3 L747.2,770.9 L754.3,768.5 L761.5,766.2 L768.8,764.0 L776.1,761.8 L783.5,759.8 L790.9,757.8 L798.4,755.9 L806.0,754.0 L813.6,752.3 L821.3,750.6 L829.0,749.0 L836.8,747.5 L844.6,746.1 L852.5,744.7 L860.4,743.5 L868.3,742.3 L876.3,741.2 L884.3,740.2 L892.4,739.3 L900.4,738.4 L908.5,737.7 L916.7,737.0 L924.8,736.4 L933.0,735.9 L941.1,735.5 L949.3,735.2 L957.5,735.0 L965.7,734.8 L973.9,734.8 L982.1,734.8 L990.3,734.9 L998.5,735.1 L1006.7,735.4 L1014.9,735.7 L1023.0,736.2" fill="none" stroke="#000" stroke-width="6.5" />
<path d="M526.3,966.4 L526.6,961.7 L527.1,957.0 L527.8,952.2 L528.6,947.5 L529.6,942.8 L530.7,938.1 L531.9,933.4 L533.3,928.8 L534.9,924.1 L536.6,919.5 L538.4,914.9 L540.4,910.3 L542.5,905.7 L544.8,901.1 L547.2,896.6 L549.8,892.1 L552.5,887.6 L555.3,883.2 L558.3,878.8 L561.4,874.4 L564.7,870.0 L568.1,865.7 L571.6,861.4 L575.3,857.2 L579.1,853.0 L583.0,848.8 L587.1,844.7 L591.3,840.6 L595.6,836.6 L600.0,832.6 L604.6,828.7 L609.3,824.8 L614.1,821.0 L619.0,817.2 L624.1,813.4 L629.3,809.8 L634.6,806.1 L640.0,802.6 L645.5,799.1 L651.1,795.6 L656.8,792.2 L662.7,788.9 L668.6,785.6 L674.6,782.4 L680.8,779.3 L687.0,776.2 L693.3,773.2 L699.8,770.2 L706.3,767.4 L712.9,764.6 L719.6,761.8 L726.4,759.2 L733.3,756.6 L740.2,754.1 L747.2,751.6 L754.3,749.2 L761.5,746.9 L768.8,744.7 L776.1,742.6 L783.5,740.5 L790.9,738.5 L798.4,736.6 L806.0,734.8 L813.6,733.0 L821.3,731.4 L829.0,729.8 L836.8,728.3 L844.6,726.8 L852.5,725.5 L860.4,724.2 L868.3,723.1 L876.3,722.0 L884.3,721.0 L892.4,720.0 L900.4,719.2 L908.5,718.4 L916.7,717.8 L924.8,717.2 L933.0,716.7 L941.1,716.3 L949.3,716.0 L957.5,715.7 L965.7,715.6 L973.9,715.5 L982.1,715.5 L990.3,715.6 L998.5,715.8 L1006.7,716.1 L1014.9,716.5 L1023.0,716.9" fill="none" stroke="#000" stroke-width="6.5" />
<path d="M526.3,947.2 L526.6,942.4 L527.1,937.7 L527.8,933.0 L528.6,928.3 L529.6,923.6 L530.7,918.9 L531.9,914.2 L533.3,909.5 L534.9,904.9 L536.6,900.2 L538.4,895.6 L540.4,891.0 L542.5,886.4 L544.8,881.9 L547.2,877.3 L549.8,872.8 L552.5,868.4 L555.3,863.9 L558.3,859.5 L561.4,855.1 L564.7,850.8 L568.1,846.5 L571.6,842.2 L575.3,837.9 L579.1,833.7 L583.0,829.6 L587.1,825.5 L591.3,821.4 L595.6,817.4 L600.0,813.4 L604.6,809.4 L609.3,805.6 L614.1,801.7 L619.0,797.9 L624.1,794.2 L629.3,790.5 L634.6,786.9 L640.0,783.3 L645.5,779.8 L651.1,776.4 L656.8,773.0 L662.7,769.6 L668.6,766.4 L674.6,763.2 L680.8,760.0 L687.0,756.9 L693.3,753.9 L699.8,751.0 L706.3,748.1 L712.9,745.3 L719.6,742.6 L726.4,739.9 L733.3,737.3 L740.2,734.8 L747.2,732.4 L754.3,730.0 L761.5,727.7 L768.8,725.5 L776.1,723.3 L783.5,721.3 L790.9,719.3 L798.4,717.4 L806.0,715.5 L813.6,713.8 L821.3,712.1 L829.0,710.5 L836.8,709.0 L844.6,707.6 L852.5,706.2 L860.4,705.0 L868.3,703.8 L876.3,702.7 L884.3,701.7 L892.4,700.8 L900.4,699.9 L908.5,699.2 L916.7,698.5 L924.8,697.9 L933.0,697.4 L941.1,697.0 L949.3,696.7 L957.5,696.5 L965.7,696.3 L973.9,696.3 L982.1,696.3 L990.3,696.4 L998.5,696.6 L1006.7,696.9 L1014.9,697.2 L1023.0,697.7" fill="none" stroke="#000" stroke-width="6.5" />
<path d="M526.3,927.9 L526.6,923.2 L527.1,918.5 L527.8,913.7 L528.6,909.0 L529.6,904.3 L530.7,899.6 L531.9,894.9 L533.3,890.3 L534.9,885.6 L536.6,881.0 L538.4,876.4 L540.4,871.8 L542.5,867.2 L544.8,862.6 L547.2,858.1 L549.8,853.6 L552.5,849.1 L555.3,844.7 L558.3,840.3 L561.4,835.9 L564.7,831.5 L568.1,827.2 L571.6,822.9 L575.3,818.7 L579.1,814.5 L583.0,810.3 L587.1,806.2 L591.3,802.1 L595.6,798.1 L600.0,794.1 L604.6,790.2 L609.3,786.3 L614.1,782.5 L619.0,778.7 L624.1,774.9 L629.3,771.3 L634.6,767.6 L640.0,764.1 L645.5,760.6 L651.1,757.1 L656.8,753.7 L662.7,750.4 L668.6,747.1 L674.6,743.9 L680.8,740.8 L687.0,737.7 L693.3,734.7 L699.8,731.7 L706.3,728.9 L712.9,726.1 L719.6,723.3 L726.4,720.7 L733.3,718.1 L740.2,715.6 L747.2,713.1 L754.3,710.7 L761.5,708.4 L768.8,706.2 L776.1,704.1 L783.5,702.0 L790.9,700.0 L798.4,698.1 L806.0,696.3 L813.6,694.5 L821.3,692.9 L829.0,691.3 L836.8,689.8 L844.6,688.3 L852.5,687.0 L860.4,685.7 L868.3,684.6 L876.3,683.5 L884.3,682.5 L892.4,681.5 L900.4,680.7 L908.5,679.9 L916.7,679.3 L924.8,678.7 L933.0,678.2 L941.1,677.8 L949.3,677.5 L957.5,677.2 L965.7,677.1 L973.9,677.0 L982.1,677.0 L990.3,677.1 L998.5,677.3 L1006.7,677.6 L1014.9,678.0 L1023.0,678.4" fill="none" stroke="#000" stroke-width="6.5" />
<path d="M526.3,908.7 L526.6,903.9 L527.1,899.2 L527.8,894.5 L528.6,889.8 L529.6,885.1 L530.7,880.4 L531.9,875.7 L533.3,871.0 L534.9,866.4 L536.6,861.7 L538.4,857.1 L540.4,852.5 L542.5,847.9 L544.8,843.4 L547.2,838.8 L549.8,834.3 L552.5,829.9 L555.3,825.4 L558.3,821.0 L561.4,816.6 L564.7,812.3 L568.1,808.0 L571.6,803.7 L575.3,799.4 L579.1,795.2 L583.0,791.1 L587.1,787.0 L591.3,782.9 L595.6,778.9 L600.0,774.9 L604.6,770.9 L609.3,767.1 L614.1,763.2 L619.0,759.4 L624.1,755.7 L629.3,752.0 L634.6,748.4 L640.0,744.8 L645.5,741.3 L651.1,737.9 L656.8,734.5 L662.7,731.1 L668.6,727.9 L674.6,724.7 L680.8,721.5 L687.0,718.4 L693.3,715.4 L699.8,712.5 L706.3,709.6 L712.9,706.8 L719.6,704.1 L726.4,701.4 L733.3,698.8 L740.2,696.3 L747.2,693.9 L754.3,691.5 L761.5,689.2 L768.8,687.0 L776.1,684.8 L783.5,682.8 L790.9,680.8 L798.4,678.9 L806.0,677.0 L813.6,675.3 L821.3,673.6 L829.0,672.0 L836.8,670.5 L844.6,669.1 L852.5,667.7 L860.4,666.5 L868.3,665.3 L876.3,664.2 L884.3,663.2 L892.4,662.3 L900.4,661.4 L908.5,660.7 L916.7,660.0 L924.8,659.4 L933.0,658.9 L941.1,658.5 L949.3,658.2 L957.5,658.0 L965.7,657.8 L973.9,657.8 L982.1,657.8 L990.3,657.9 L998.5,658.1 L1006.7,658.4 L1014.9,658.7 L1023.0,659.2" fill="none" stroke="#000" stroke-width="6.5" />
<path d="M385.0,800.0 L540.0,800.0 L540.0,1488.0 L527.0,1549.0 L527.0,1699.0 L476.0,1726.0 L447.0,1716.0 L385.0,1679.0Z" fill="#fff" stroke="none" stroke-width="0" />
<path d="M382.0,800.0 L382.4,801.0 L382.8,802.0 L383.2,803.0 L383.7,804.0 L384.2,805.0 L384.8,806.0 L385.0,807.0 L385.0,808.0 L385.0,809.0 L385.0,810.0 L385.0,811.0 L385.0,812.0 L385.0,813.0 L385.0,814.0 L385.0,815.0 L385.0,816.0 L385.0,817.0 L385.0,818.0 L385.0,819.0 L385.0,820.0 L385.0,821.0 L385.0,822.0 L385.0,823.0 L385.0,824.0 L384.7,825.0 L384.2,826.0 L383.7,827.0 L383.2,828.0 L382.7,829.0 L382.3,830.0 L382.0,831.0 L381.8,832.0 L381.6,833.0 L381.5,834.0 L381.5,835.0 L381.6,836.0 L381.8,837.0 L382.0,838.0 L382.3,839.0 L382.7,840.0 L383.2,841.0 L383.7,842.0 L384.2,843.0 L384.7,844.0 L385.0,845.0 L385.0,846.0 L385.0,847.0 L385.0,848.0 L385.0,849.0 L385.0,850.0 L385.0,851.0 L385.0,852.0 L385.0,853.0 L385.0,854.0 L385.0,855.0 L385.0,856.0 L385.0,857.0 L385.0,858.0 L385.0,859.0 L385.0,860.0 L385.0,861.0 L385.0,862.0 L384.8,863.0 L384.2,864.0 L383.7,865.0 L383.2,866.0 L382.8,867.0 L382.4,868.0 L382.0,869.0 L381.8,870.0 L381.6,871.0 L381.5,872.0 L381.5,873.0 L381.6,874.0 L381.7,875.0 L382.0,876.0 L382.3,877.0 L382.7,878.0 L383.1,879.0 L383.6,880.0 L384.1,881.0 L384.7,882.0 L385.0,883.0 L385.0,884.0 L385.0,885.0 L385.0,886.0 L385.0,887.0 L385.0,888.0 L385.0,889.0 L385.0,890.0 L385.0,891.0 L385.0,892.0 L385.0,893.0 L385.0,894.0 L385.0,895.0 L385.0,896.0 L385.0,897.0 L385.0,898.0 L385.0,899.0 L385.0,900.0 L384.8,901.0 L384.3,902.0 L383.8,903.0 L383.3,904.0 L382.8,905.0 L382.4,906.0 L382.1,907.0 L381.8,908.0 L381.6,909.0 L381.5,910.0 L381.5,911.0 L381.6,912.0 L381.7,913.0 L382.0,914.0 L382.3,915.0 L382.6,916.0 L383.1,917.0 L383.6,918.0 L384.1,919.0 L384.6,920.0 L385.0,921.0 L385.0,922.0 L385.0,923.0 L385.0,924.0 L385.0,925.0 L385.0,926.0 L385.0,927.0 L385.0,928.0 L385.0,929.0 L385.0,930.0 L385.0,931.0 L385.0,932.0 L385.0,933.0 L385.0,934.0 L385.0,935.0 L385.0,936.0 L385.0,937.0 L385.0,938.0 L384.9,939.0 L384.3,940.0 L383.8,941.0 L383.3,942.0 L382.9,943.0 L382.4,944.0 L382.1,945.0 L381.8,946.0 L381.6,947.0 L381.5,948.0 L381.5,949.0 L381.6,950.0 L381.7,951.0 L381.9,952.0 L382.2,953.0 L382.6,954.0 L383.0,955.0 L383.5,956.0 L384.0,957.0 L384.6,958.0 L385.0,959.0 L385.0,960.0 L385.0,961.0 L385.0,962.0 L385.0,963.0 L385.0,964.0 L385.0,965.0 L385.0,966.0 L385.0,967.0 L385.0,968.0 L385.0,969.0 L385.0,970.0 L385.0,971.0 L385.0,972.0 L385.0,973.0 L385.0,974.0 L385.0,975.0 L385.0,976.0 L384.9,977.0 L384.4,978.0 L383.9,979.0 L383.4,980.0 L382.9,981.0 L382.5,982.0 L382.1,983.0 L381.9,984.0 L381.7,985.0 L381.5,986.0 L381.5,987.0 L381.6,988.0 L381.7,989.0 L381.9,990.0 L382.2,991.0 L382.6,992.0 L383.0,993.0 L383.5,994.0 L384.0,995.0 L384.5,996.0 L385.0,997.0 L385.0,998.0 L385.0,999.0 L385.0,1000.0 L385.0,1001.0 L385.0,1002.0 L385.0,1003.0 L385.0,1004.0 L385.0,1005.0 L385.0,1006.0 L385.0,1007.0 L385.0,1008.0 L385.0,1009.0 L385.0,1010.0 L385.0,1011.0 L385.0,1012.0 L385.0,1013.0 L385.0,1014.0 L385.0,1015.0 L384.5,1016.0 L383.9,1017.0 L383.4,1018.0 L382.9,1019.0 L382.5,1020.0 L382.2,1021.0 L381.9,1022.0 L381.7,1023.0 L381.5,1024.0 L381.5,1025.0 L381.5,1026.0 L381.7,1027.0 L381.9,1028.0 L382.2,1029.0 L382.5,1030.0 L382.9,1031.0 L383.4,1032.0 L383.9,1033.0 L384.5,1034.0 L385.0,1035.0 L385.0,1036.0 L385.0,1037.0 L385.0,1038.0 L385.0,1039.0 L385.0,1040.0 L385.0,1041.0 L385.0,1042.0 L385.0,1043.0 L385.0,1044.0 L385.0,1045.0 L385.0,1046.0 L385.0,1047.0 L385.0,1048.0 L385.0,1049.0 L385.0,1050.0 L385.0,1051.0 L385.0,1052.0 L385.0,1053.0 L384.5,1054.0 L384.0,1055.0 L383.5,1056.0 L383.0,1057.0 L382.6,1058.0 L382.2,1059.0 L381.9,1060.0 L381.7,1061.0 L381.6,1062.0 L381.5,1063.0 L381.5,1064.0 L381.7,1065.0 L381.9,1066.0 L382.1,1067.0 L382.5,1068.0 L382.9,1069.0 L383.4,1070.0 L383.9,1071.0 L384.4,1072.0 L384.9,1073.0 L385.0,1074.0 L385.0,1075.0 L385.0,1076.0 L385.0,1077.0 L385.0,1078.0 L385.0,1079.0 L385.0,1080.0 L385.0,1081.0 L385.0,1082.0 L385.0,1083.0 L385.0,1084.0 L385.0,1085.0 L385.0,1086.0 L385.0,1087.0 L385.0,1088.0 L385.0,1089.0 L385.0,1090.0 L385.0,1091.0 L384.6,1092.0 L384.0,1093.0 L383.5,1094.0 L383.0,1095.0 L382.6,1096.0 L382.2,1097.0 L381.9,1098.0 L381.7,1099.0 L381.6,1100.0 L381.5,1101.0 L381.5,1102.0 L381.6,1103.0 L381.8,1104.0 L382.1,1105.0 L382.4,1106.0 L382.9,1107.0 L383.3,1108.0 L383.8,1109.0 L384.3,1110.0 L384.9,1111.0 L385.0,1112.0 L385.0,1113.0 L385.0,1114.0 L385.0,1115.0 L385.0,1116.0 L385.0,1117.0 L385.0,1118.0 L385.0,1119.0 L385.0,1120.0 L385.0,1121.0 L385.0,1122.0 L385.0,1123.0 L385.0,1124.0 L385.0,1125.0 L385.0,1126.0 L385.0,1127.0 L385.0,1128.0 L385.0,1129.0 L384.6,1130.0 L384.1,1131.0 L383.6,1132.0 L383.1,1133.0 L382.6,1134.0 L382.3,1135.0 L382.0,1136.0 L381.7,1137.0 L381.6,1138.0 L381.5,1139.0 L381.5,1140.0 L381.6,1141.0 L381.8,1142.0 L382.1,1143.0 L382.4,1144.0 L382.8,1145.0 L383.3,1146.0 L383.8,1147.0 L384.3,1148.0 L384.8,1149.0 L385.0,1150.0 L385.0,1151.0 L385.0,1152.0 L385.0,1153.0 L385.0,1154.0 L385.0,1155.0 L385.0,1156.0 L385.0,1157.0 L385.0,1158.0 L385.0,1159.0 L385.0,1160.0 L385.0,1161.0 L385.0,1162.0 L385.0,1163.0 L385.0,1164.0 L385.0,1165.0 L385.0,1166.0 L385.0,1167.0 L384.7,1168.0 L384.1,1169.0 L383.6,1170.0 L383.1,1171.0 L382.7,1172.0 L382.3,1173.0 L382.0,1174.0 L381.7,1175.0 L381.6,1176.0 L381.5,1177.0 L381.5,1178.0 L381.6,1179.0 L381.8,1180.0 L382.0,1181.0 L382.4,1182.0 L382.8,1183.0 L383.2,1184.0 L383.7,1185.0 L384.2,1186.0 L384.8,1187.0 L385.0,1188.0 L385.0,1189.0 L385.0,1190.0 L385.0,1191.0 L385.0,1192.0 L385.0,1193.0 L385.0,1194.0 L385.0,1195.0 L385.0,1196.0 L385.0,1197.0 L385.0,1198.0 L385.0,1199.0 L385.0,1200.0 L385.0,1201.0 L385.0,1202.0 L385.0,1203.0 L385.0,1204.0 L385.0,1205.0 L384.7,1206.0 L384.2,1207.0 L383.7,1208.0 L383.2,1209.0 L382.7,1210.0 L382.3,1211.0 L382.0,1212.0 L381.8,1213.0 L381.6,1214.0 L381.5,1215.0 L381.5,1216.0 L381.6,1217.0 L381.8,1218.0 L382.0,1219.0 L382.3,1220.0 L382.7,1221.0 L383.2,1222.0 L383.7,1223.0 L384.2,1224.0 L384.7,1225.0 L385.0,1226.0 L385.0,1227.0 L385.0,1228.0 L385.0,1229.0 L385.0,1230.0 L385.0,1231.0 L385.0,1232.0 L385.0,1233.0 L385.0,1234.0 L385.0,1235.0 L385.0,1236.0 L385.0,1237.0 L385.0,1238.0 L385.0,1239.0 L385.0,1240.0 L385.0,1241.0 L385.0,1242.0 L385.0,1243.0 L384.8,1244.0 L384.2,1245.0 L383.7,1246.0 L383.2,1247.0 L382.8,1248.0 L382.4,1249.0 L382.0,1250.0 L381.8,1251.0 L381.6,1252.0 L381.5,1253.0 L381.5,1254.0 L381.6,1255.0 L381.7,1256.0 L382.0,1257.0 L382.3,1258.0 L382.7,1259.0 L383.1,1260.0 L383.6,1261.0 L384.1,1262.0 L384.7,1263.0 L385.0,1264.0 L385.0,1265.0 L385.0,1266.0 L385.0,1267.0 L385.0,1268.0 L385.0,1269.0 L385.0,1270.0 L385.0,1271.0 L385.0,1272.0 L385.0,1273.0 L385.0,1274.0 L385.0,1275.0 L385.0,1276.0 L385.0,1277.0 L385.0,1278.0 L385.0,1279.0 L385.0,1280.0 L385.0,1281.0 L384.8,1282.0 L384.3,1283.0 L383.8,1284.0 L383.3,1285.0 L382.8,1286.0 L382.4,1287.0 L382.1,1288.0 L381.8,1289.0 L381.6,1290.0 L381.5,1291.0 L381.5,1292.0 L381.6,1293.0 L381.7,1294.0 L382.0,1295.0 L382.3,1296.0 L382.6,1297.0 L383.1,1298.0 L383.6,1299.0 L384.1,1300.0 L384.6,1301.0 L385.0,1302.0 L385.0,1303.0 L385.0,1304.0 L385.0,1305.0 L385.0,1306.0 L385.0,1307.0 L385.0,1308.0 L385.0,1309.0 L385.0,1310.0 L385.0,1311.0 L385.0,1312.0 L385.0,1313.0 L385.0,1314.0 L385.0,1315.0 L385.0,1316.0 L385.0,1317.0 L385.0,1318.0 L385.0,1319.0 L384.9,1320.0 L384.3,1321.0 L383.8,1322.0 L383.3,1323.0 L382.9,1324.0 L382.4,1325.0 L382.1,1326.0 L381.8,1327.0 L381.6,1328.0 L381.5,1329.0 L381.5,1330.0 L381.6,1331.0 L381.7,1332.0 L381.9,1333.0 L382.2,1334.0 L382.6,1335.0 L383.0,1336.0 L383.5,1337.0 L384.0,1338.0 L384.6,1339.0 L385.0,1340.0 L385.0,1341.0 L385.0,1342.0 L385.0,1343.0 L385.0,1344.0 L385.0,1345.0 L385.0,1346.0 L385.0,1347.0 L385.0,1348.0 L385.0,1349.0 L385.0,1350.0 L385.0,1351.0 L385.0,1352.0 L385.0,1353.0 L385.0,1354.0 L385.0,1355.0 L385.0,1356.0 L385.0,1357.0 L384.9,1358.0 L384.4,1359.0 L383.9,1360.0 L383.4,1361.0 L382.9,1362.0 L382.5,1363.0 L382.1,1364.0 L381.9,1365.0 L381.7,1366.0 L381.5,1367.0 L381.5,1368.0 L381.6,1369.0 L381.7,1370.0 L381.9,1371.0 L382.2,1372.0 L382.6,1373.0 L383.0,1374.0 L383.5,1375.0 L384.0,1376.0 L384.5,1377.0 L385.0,1378.0 L385.0,1379.0 L385.0,1380.0 L385.0,1381.0 L385.0,1382.0 L385.0,1383.0 L385.0,1384.0 L385.0,1385.0 L385.0,1386.0 L385.0,1387.0 L385.0,1388.0 L385.0,1389.0 L385.0,1390.0 L385.0,1391.0 L385.0,1392.0 L385.0,1393.0 L385.0,1394.0 L385.0,1395.0 L385.0,1396.0 L384.5,1397.0 L383.9,1398.0 L383.4,1399.0 L382.9,1400.0 L382.5,1401.0 L382.2,1402.0 L381.9,1403.0 L381.7,1404.0 L381.5,1405.0 L381.5,1406.0 L381.5,1407.0 L381.7,1408.0 L381.9,1409.0 L382.2,1410.0 L382.5,1411.0 L382.9,1412.0 L383.4,1413.0 L383.9,1414.0 L384.5,1415.0 L385.0,1416.0 L385.0,1417.0 L385.0,1418.0 L385.0,1419.0 L385.0,1420.0 L385.0,1421.0 L385.0,1422.0 L385.0,1423.0 L385.0,1424.0 L385.0,1425.0 L385.0,1426.0 L385.0,1427.0 L385.0,1428.0 L385.0,1429.0 L385.0,1430.0 L385.0,1431.0 L385.0,1432.0 L385.0,1433.0 L385.0,1434.0 L384.5,1435.0 L384.0,1436.0 L383.5,1437.0 L383.0,1438.0 L382.6,1439.0 L382.2,1440.0 L381.9,1441.0 L381.7,1442.0 L381.6,1443.0 L381.5,1444.0 L381.5,1445.0 L381.7,1446.0 L381.9,1447.0 L382.1,1448.0 L382.5,1449.0 L382.9,1450.0 L383.4,1451.0 L383.9,1452.0 L384.4,1453.0 L384.9,1454.0 L385.0,1455.0 L385.0,1456.0 L385.0,1457.0 L385.0,1458.0 L385.0,1459.0 L385.0,1460.0 L385.0,1461.0 L385.0,1462.0 L385.0,1463.0 L385.0,1464.0 L385.0,1465.0 L385.0,1466.0 L385.0,1467.0 L385.0,1468.0 L385.0,1469.0 L385.0,1470.0 L385.0,1471.0 L385.0,1472.0 L384.6,1473.0 L384.0,1474.0 L383.5,1475.0 L383.0,1476.0 L382.6,1477.0 L382.2,1478.0 L381.9,1479.0 L381.7,1480.0 L381.6,1481.0 L381.5,1482.0 L381.5,1483.0 L381.6,1484.0 L381.8,1485.0 L382.1,1486.0 L382.4,1487.0 L382.9,1488.0 L383.3,1489.0 L383.8,1490.0 L384.3,1491.0 L384.9,1492.0 L385.0,1493.0 L385.0,1494.0 L385.0,1495.0 L385.0,1496.0 L385.0,1497.0 L385.0,1498.0 L385.0,1499.0 L385.0,1500.0 L385.0,1501.0 L385.0,1502.0 L385.0,1503.0 L385.0,1504.0 L385.0,1505.0 L385.0,1506.0 L385.0,1507.0 L385.0,1508.0 L385.0,1509.0 L385.0,1510.0 L384.6,1511.0 L384.1,1512.0 L383.6,1513.0 L383.1,1514.0 L382.6,1515.0 L382.3,1516.0 L382.0,1517.0 L381.7,1518.0 L381.6,1519.0 L381.5,1520.0 L381.5,1521.0 L381.6,1522.0 L381.8,1523.0 L382.1,1524.0 L382.4,1525.0 L382.8,1526.0 L383.3,1527.0 L383.8,1528.0 L384.3,1529.0 L384.8,1530.0 L385.0,1531.0 L385.0,1532.0 L385.0,1533.0 L385.0,1534.0 L385.0,1535.0 L385.0,1536.0 L385.0,1679.0" fill="none" stroke="#000" stroke-width="6" />
<path d="M385,774.2 L445,805.2 C462,814.2 470,816.2 480,816.2 C496,816.2 508,808.2 524,790.2" fill="none" stroke="#000" stroke-width="7" />
<path d="M385,793.4 L445,824.4 C462,833.4 470,835.4 480,835.4 C496,835.4 508,827.4 524,809.4" fill="none" stroke="#000" stroke-width="7" />
<path d="M450,819.8 C465,829.8 495,829.8 508,817.8" fill="none" stroke="#000" stroke-width="9" />
<path d="M385,813.0 L445,844.0 C462,853.0 470,855.0 480,855.0 C496,855.0 508,847.0 524,829.0" fill="none" stroke="#000" stroke-width="7" />
<path d="M385,832.2 L445,863.2 C462,872.2 470,874.2 480,874.2 C496,874.2 508,866.2 524,848.2" fill="none" stroke="#000" stroke-width="7" />
<path d="M450,858.6 C465,868.6 495,868.6 508,856.6" fill="none" stroke="#000" stroke-width="9" />
<path d="M385,851.8 L445,882.8 C462,891.8 470,893.8 480,893.8 C496,893.8 508,885.8 524,867.8" fill="none" stroke="#000" stroke-width="7" />
<path d="M385,871.0 L445,902.0 C462,911.0 470,913.0 480,913.0 C496,913.0 508,905.0 524,887.0" fill="none" stroke="#000" stroke-width="7" />
<path d="M450,897.4 C465,907.4 495,907.4 508,895.4" fill="none" stroke="#000" stroke-width="9" />
<path d="M385,890.6 L445,921.6 C462,930.6 470,932.6 480,932.6 C496,932.6 508,924.6 524,906.6" fill="none" stroke="#000" stroke-width="7" />
<path d="M385,909.8 L445,940.8 C462,949.8 470,951.8 480,951.8 C496,951.8 508,943.8 524,925.8" fill="none" stroke="#000" stroke-width="7" />
<path d="M450,936.2 C465,946.2 495,946.2 508,934.2" fill="none" stroke="#000" stroke-width="9" />
<path d="M385,929.4 L445,960.4 C462,969.4 470,971.4 480,971.4 C496,971.4 508,963.4 524,945.4" fill="none" stroke="#000" stroke-width="7" />
<path d="M385,948.6 L445,979.6 C462,988.6 470,990.6 480,990.6 C496,990.6 508,982.6 524,964.6" fill="none" stroke="#000" stroke-width="7" />
<path d="M450,975.0 C465,985.0 495,985.0 508,973.0" fill="none" stroke="#000" stroke-width="9" />
<path d="M385,968.2 L445,999.2 C462,1008.2 470,1010.2 480,1010.2 C496,1010.2 508,1002.2 524,984.2" fill="none" stroke="#000" stroke-width="7" />
<path d="M385,987.4 L445,1018.4 C462,1027.4 470,1029.4 480,1029.4 C496,1029.4 508,1021.4 524,1003.4" fill="none" stroke="#000" stroke-width="7" />
<path d="M450,1013.8 C465,1023.8 495,1023.8 508,1011.8" fill="none" stroke="#000" stroke-width="9" />
<path d="M385,1007.0 L445,1038.0 C462,1047.0 470,1049.0 480,1049.0 C496,1049.0 508,1041.0 524,1023.0" fill="none" stroke="#000" stroke-width="7" />
<path d="M385,1026.2 L445,1057.2 C462,1066.2 470,1068.2 480,1068.2 C496,1068.2 508,1060.2 524,1042.2" fill="none" stroke="#000" stroke-width="7" />
<path d="M450,1052.6 C465,1062.6 495,1062.6 508,1050.6" fill="none" stroke="#000" stroke-width="9" />
<path d="M385,1045.8 L445,1076.8 C462,1085.8 470,1087.8 480,1087.8 C496,1087.8 508,1079.8 524,1061.8" fill="none" stroke="#000" stroke-width="7" />
<path d="M385,1065.0 L445,1096.0 C462,1105.0 470,1107.0 480,1107.0 C496,1107.0 508,1099.0 524,1081.0" fill="none" stroke="#000" stroke-width="7" />
<path d="M450,1091.4 C465,1101.4 495,1101.4 508,1089.4" fill="none" stroke="#000" stroke-width="9" />
<path d="M385,1084.6 L445,1115.6 C462,1124.6 470,1126.6 480,1126.6 C496,1126.6 508,1118.6 524,1100.6" fill="none" stroke="#000" stroke-width="7" />
<path d="M385,1103.8 L445,1134.8 C462,1143.8 470,1145.8 480,1145.8 C496,1145.8 508,1137.8 524,1119.8" fill="none" stroke="#000" stroke-width="7" />
<path d="M450,1130.2 C465,1140.2 495,1140.2 508,1128.2" fill="none" stroke="#000" stroke-width="9" />
<path d="M385,1123.4 L445,1154.4 C462,1163.4 470,1165.4 480,1165.4 C496,1165.4 508,1157.4 524,1139.4" fill="none" stroke="#000" stroke-width="7" />
<path d="M385,1142.6 L445,1173.6 C462,1182.6 470,1184.6 480,1184.6 C496,1184.6 508,1176.6 524,1158.6" fill="none" stroke="#000" stroke-width="7" />
<path d="M450,1169.0 C465,1179.0 495,1179.0 508,1167.0" fill="none" stroke="#000" stroke-width="9" />
<path d="M385,1162.2 L445,1193.2 C462,1202.2 470,1204.2 480,1204.2 C496,1204.2 508,1196.2 524,1178.2" fill="none" stroke="#000" stroke-width="7" />
<path d="M385,1181.4 L445,1212.4 C462,1221.4 470,1223.4 480,1223.4 C496,1223.4 508,1215.4 524,1197.4" fill="none" stroke="#000" stroke-width="7" />
<path d="M450,1207.8 C465,1217.8 495,1217.8 508,1205.8" fill="none" stroke="#000" stroke-width="9" />
<path d="M385,1201.0 L445,1232.0 C462,1241.0 470,1243.0 480,1243.0 C496,1243.0 508,1235.0 524,1217.0" fill="none" stroke="#000" stroke-width="7" />
<path d="M385,1220.2 L445,1251.2 C462,1260.2 470,1262.2 480,1262.2 C496,1262.2 508,1254.2 524,1236.2" fill="none" stroke="#000" stroke-width="7" />
<path d="M450,1246.6 C465,1256.6 495,1256.6 508,1244.6" fill="none" stroke="#000" stroke-width="9" />
<path d="M385,1239.8 L445,1270.8 C462,1279.8 470,1281.8 480,1281.8 C496,1281.8 508,1273.8 524,1255.8" fill="none" stroke="#000" stroke-width="7" />
<path d="M385,1259.0 L445,1290.0 C462,1299.0 470,1301.0 480,1301.0 C496,1301.0 508,1293.0 524,1275.0" fill="none" stroke="#000" stroke-width="7" />
<path d="M450,1285.4 C465,1295.4 495,1295.4 508,1283.4" fill="none" stroke="#000" stroke-width="9" />
<path d="M385,1278.6 L445,1309.6 C462,1318.6 470,1320.6 480,1320.6 C496,1320.6 508,1312.6 524,1294.6" fill="none" stroke="#000" stroke-width="7" />
<path d="M385,1297.8 L445,1328.8 C462,1337.8 470,1339.8 480,1339.8 C496,1339.8 508,1331.8 524,1313.8" fill="none" stroke="#000" stroke-width="7" />
<path d="M450,1324.2 C465,1334.2 495,1334.2 508,1322.2" fill="none" stroke="#000" stroke-width="9" />
<path d="M385,1317.4 L445,1348.4 C462,1357.4 470,1359.4 480,1359.4 C496,1359.4 508,1351.4 524,1333.4" fill="none" stroke="#000" stroke-width="7" />
<path d="M385,1336.6 L445,1367.6 C462,1376.6 470,1378.6 480,1378.6 C496,1378.6 508,1370.6 524,1352.6" fill="none" stroke="#000" stroke-width="7" />
<path d="M450,1363.0 C465,1373.0 495,1373.0 508,1361.0" fill="none" stroke="#000" stroke-width="9" />
<path d="M385,1356.2 L445,1387.2 C462,1396.2 470,1398.2 480,1398.2 C496,1398.2 508,1390.2 524,1372.2" fill="none" stroke="#000" stroke-width="7" />
<path d="M385,1375.4 L445,1406.4 C462,1415.4 470,1417.4 480,1417.4 C496,1417.4 508,1409.4 524,1391.4" fill="none" stroke="#000" stroke-width="7" />
<path d="M450,1401.8 C465,1411.8 495,1411.8 508,1399.8" fill="none" stroke="#000" stroke-width="9" />
<path d="M385,1395.0 L445,1426.0 C462,1435.0 470,1437.0 480,1437.0 C496,1437.0 508,1429.0 524,1411.0" fill="none" stroke="#000" stroke-width="7" />
<path d="M385,1414.2 L445,1445.2 C462,1454.2 470,1456.2 480,1456.2 C496,1456.2 508,1448.2 524,1430.2" fill="none" stroke="#000" stroke-width="7" />
<path d="M450,1440.6 C465,1450.6 495,1450.6 508,1438.6" fill="none" stroke="#000" stroke-width="9" />
<path d="M385,1433.8 L445,1464.8 C462,1473.8 470,1475.8 480,1475.8 C496,1475.8 508,1467.8 524,1449.8" fill="none" stroke="#000" stroke-width="7" />
<path d="M385,1453.0 L445,1484.0 C462,1493.0 470,1495.0 480,1495.0 C496,1495.0 508,1487.0 524,1469.0" fill="none" stroke="#000" stroke-width="7" />
<path d="M450,1479.4 C465,1489.4 495,1489.4 508,1477.4" fill="none" stroke="#000" stroke-width="9" />
<path d="M385,1472.6 L445,1503.6 C462,1512.6 470,1514.6 480,1514.6 C496,1514.6 508,1506.6 524,1488.6" fill="none" stroke="#000" stroke-width="7" />
<path d="M385,1491.8 L445,1522.8 C462,1531.8 470,1533.8 480,1533.8 C496,1533.8 508,1525.8 524,1507.8" fill="none" stroke="#000" stroke-width="7" />
<path d="M450,1518.2 C465,1528.2 495,1528.2 508,1516.2" fill="none" stroke="#000" stroke-width="9" />
<path d="M385,1511.4 L445,1542.4 C462,1551.4 470,1553.4 480,1553.4 C496,1553.4 508,1545.4 524,1527.4" fill="none" stroke="#000" stroke-width="7" />
<path d="M385,1530.6 L445,1561.6 C462,1570.6 470,1572.6 480,1572.6 C496,1572.6 508,1564.6 524,1546.6" fill="none" stroke="#000" stroke-width="7" />
<path d="M450,1557.0 C465,1567.0 495,1567.0 508,1555.0" fill="none" stroke="#000" stroke-width="9" />
<path d="M521.0,800.0 L537.0,800.0 L538.0,1480.0 L527.0,1500.0 L521.0,1500.0Z" fill="#000" stroke="none" stroke-width="0" />
<path d="M527.0,1490.0 L527.0,1699.0" fill="none" stroke="#000" stroke-width="6" />
<path d="M385,1679 L447,1716 Q476,1732 506,1722 Q527,1712 527,1699" fill="none" stroke="#000" stroke-width="6" />
<path d="M1531.0,820.0 L1742.0,620.0 L1742.0,1815.0 L1566.0,1998.0 L1537.0,2011.0 L1531.0,2011.0Z" fill="#fff" stroke="none" stroke-width="0" />
<path d="M1532.0,850.0 L1536.0,2011.0" fill="none" stroke="#000" stroke-width="6" />
<path d="M1563.0,608.2 L1674.0,668.8 L1674.0,705.4 L1563.0,644.8Z" fill="#000" stroke="none" stroke-width="0" />
<path d="M1565.0,609.2 L1668.0,666.5 L1668.0,677.5 L1565.0,620.2Z" fill="#fff" stroke="none" stroke-width="0" />
<path d="M1565.0,627.2 L1664.0,682.3 L1664.0,685.3 L1565.0,630.2Z" fill="#fff" stroke="none" stroke-width="0" />
<path d="M1675.0,665.8 L1675.0,672.8 L1669.0,665.8Z" fill="#fff" stroke="none" stroke-width="0" />
<path d="M1563.0,644.8 L1674.0,705.4 L1674.0,742.0 L1563.0,681.4Z" fill="#000" stroke="none" stroke-width="0" />
<path d="M1565.0,645.8 L1668.0,703.1 L1668.0,714.1 L1565.0,656.8Z" fill="#fff" stroke="none" stroke-width="0" />
<path d="M1565.0,663.8 L1664.0,718.9 L1664.0,721.9 L1565.0,666.8Z" fill="#fff" stroke="none" stroke-width="0" />
<path d="M1675.0,702.4 L1675.0,709.4 L1669.0,702.4Z" fill="#fff" stroke="none" stroke-width="0" />
<path d="M1563.0,681.4 L1674.0,742.0 L1674.0,778.6 L1563.0,718.0Z" fill="#000" stroke="none" stroke-width="0" />
<path d="M1565.0,682.4 L1668.0,739.7 L1668.0,750.7 L1565.0,693.4Z" fill="#fff" stroke="none" stroke-width="0" />
<path d="M1565.0,700.4 L1664.0,755.5 L1664.0,758.5 L1565.0,703.4Z" fill="#fff" stroke="none" stroke-width="0" />
<path d="M1675.0,739.0 L1675.0,746.0 L1669.0,739.0Z" fill="#fff" stroke="none" stroke-width="0" />
<path d="M1563.0,718.0 L1674.0,778.6 L1674.0,815.2 L1563.0,754.6Z" fill="#000" stroke="none" stroke-width="0" />
<path d="M1565.0,719.0 L1668.0,776.3 L1668.0,787.3 L1565.0,730.0Z" fill="#fff" stroke="none" stroke-width="0" />
<path d="M1565.0,737.0 L1664.0,792.1 L1664.0,795.1 L1565.0,740.0Z" fill="#fff" stroke="none" stroke-width="0" />
<path d="M1675.0,775.6 L1675.0,782.6 L1669.0,775.6Z" fill="#fff" stroke="none" stroke-width="0" />
<path d="M1563.0,754.6 L1674.0,815.2 L1674.0,851.8 L1563.0,791.2Z" fill="#000" stroke="none" stroke-width="0" />
<path d="M1565.0,755.6 L1668.0,812.9 L1668.0,823.9 L1565.0,766.6Z" fill="#fff" stroke="none" stroke-width="0" />
<path d="M1565.0,773.6 L1664.0,828.7 L1664.0,831.7 L1565.0,776.6Z" fill="#fff" stroke="none" stroke-width="0" />
<path d="M1675.0,812.2 L1675.0,819.2 L1669.0,812.2Z" fill="#fff" stroke="none" stroke-width="0" />
<path d="M1563.0,791.2 L1674.0,851.8 L1674.0,888.4 L1563.0,827.8Z" fill="#000" stroke="none" stroke-width="0" />
<path d="M1565.0,792.2 L1668.0,849.5 L1668.0,860.5 L1565.0,803.2Z" fill="#fff" stroke="none" stroke-width="0" />
<path d="M1565.0,810.2 L1664.0,865.3 L1664.0,868.3 L1565.0,813.2Z" fill="#fff" stroke="none" stroke-width="0" />
<path d="M1675.0,848.8 L1675.0,855.8 L1669.0,848.8Z" fill="#fff" stroke="none" stroke-width="0" />
<path d="M1563.0,827.8 L1674.0,888.4 L1674.0,925.0 L1563.0,864.4Z" fill="#000" stroke="none" stroke-width="0" />
<path d="M1565.0,828.8 L1668.0,886.1 L1668.0,897.1 L1565.0,839.8Z" fill="#fff" stroke="none" stroke-width="0" />
<path d="M1565.0,846.8 L1664.0,901.9 L1664.0,904.9 L1565.0,849.8Z" fill="#fff" stroke="none" stroke-width="0" />
<path d="M1675.0,885.4 L1675.0,892.4 L1669.0,885.4Z" fill="#fff" stroke="none" stroke-width="0" />
<path d="M1563.0,864.4 L1674.0,925.0 L1674.0,961.6 L1563.0,901.0Z" fill="#000" stroke="none" stroke-width="0" />
<path d="M1565.0,865.4 L1668.0,922.7 L1668.0,933.7 L1565.0,876.4Z" fill="#fff" stroke="none" stroke-width="0" />
<path d="M1565.0,883.4 L1664.0,938.5 L1664.0,941.5 L1565.0,886.4Z" fill="#fff" stroke="none" stroke-width="0" />
<path d="M1675.0,922.0 L1675.0,929.0 L1669.0,922.0Z" fill="#fff" stroke="none" stroke-width="0" />
<path d="M1563.0,901.0 L1674.0,961.6 L1674.0,998.2 L1563.0,937.6Z" fill="#000" stroke="none" stroke-width="0" />
<path d="M1565.0,902.0 L1668.0,959.3 L1668.0,970.3 L1565.0,913.0Z" fill="#fff" stroke="none" stroke-width="0" />
<path d="M1565.0,920.0 L1664.0,975.1 L1664.0,978.1 L1565.0,923.0Z" fill="#fff" stroke="none" stroke-width="0" />
<path d="M1675.0,958.6 L1675.0,965.6 L1669.0,958.6Z" fill="#fff" stroke="none" stroke-width="0" />
<path d="M1563.0,937.6 L1674.0,998.2 L1674.0,1034.8 L1563.0,974.2Z" fill="#000" stroke="none" stroke-width="0" />
<path d="M1565.0,938.6 L1668.0,995.9 L1668.0,1006.9 L1565.0,949.6Z" fill="#fff" stroke="none" stroke-width="0" />
<path d="M1565.0,956.6 L1664.0,1011.7 L1664.0,1014.7 L1565.0,959.6Z" fill="#fff" stroke="none" stroke-width="0" />
<path d="M1675.0,995.2 L1675.0,1002.2 L1669.0,995.2Z" fill="#fff" stroke="none" stroke-width="0" />
<path d="M1563.0,974.2 L1674.0,1034.8 L1674.0,1071.4 L1563.0,1010.8Z" fill="#000" stroke="none" stroke-width="0" />
<path d="M1565.0,975.2 L1668.0,1032.5 L1668.0,1043.5 L1565.0,986.2Z" fill="#fff" stroke="none" stroke-width="0" />
<path d="M1565.0,993.2 L1664.0,1048.3 L1664.0,1051.3 L1565.0,996.2Z" fill="#fff" stroke="none" stroke-width="0" />
<path d="M1675.0,1031.8 L1675.0,1038.8 L1669.0,1031.8Z" fill="#fff" stroke="none" stroke-width="0" />
<path d="M1563.0,1010.8 L1674.0,1071.4 L1674.0,1108.0 L1563.0,1047.4Z" fill="#000" stroke="none" stroke-width="0" />
<path d="M1565.0,1011.8 L1668.0,1069.1 L1668.0,1080.1 L1565.0,1022.8Z" fill="#fff" stroke="none" stroke-width="0" />
<path d="M1565.0,1029.8 L1664.0,1084.9 L1664.0,1087.9 L1565.0,1032.8Z" fill="#fff" stroke="none" stroke-width="0" />
<path d="M1675.0,1068.4 L1675.0,1075.4 L1669.0,1068.4Z" fill="#fff" stroke="none" stroke-width="0" />
<path d="M1563.0,1047.4 L1674.0,1108.0 L1674.0,1144.6 L1563.0,1084.0Z" fill="#000" stroke="none" stroke-width="0" />
<path d="M1565.0,1048.4 L1668.0,1105.7 L1668.0,1116.7 L1565.0,1059.4Z" fill="#fff" stroke="none" stroke-width="0" />
<path d="M1565.0,1066.4 L1664.0,1121.5 L1664.0,1124.5 L1565.0,1069.4Z" fill="#fff" stroke="none" stroke-width="0" />
<path d="M1675.0,1105.0 L1675.0,1112.0 L1669.0,1105.0Z" fill="#fff" stroke="none" stroke-width="0" />
<path d="M1563.0,1084.0 L1674.0,1144.6 L1674.0,1181.2 L1563.0,1120.6Z" fill="#000" stroke="none" stroke-width="0" />
<path d="M1565.0,1085.0 L1668.0,1142.3 L1668.0,1153.3 L1565.0,1096.0Z" fill="#fff" stroke="none" stroke-width="0" />
<path d="M1565.0,1103.0 L1664.0,1158.1 L1664.0,1161.1 L1565.0,1106.0Z" fill="#fff" stroke="none" stroke-width="0" />
<path d="M1675.0,1141.6 L1675.0,1148.6 L1669.0,1141.6Z" fill="#fff" stroke="none" stroke-width="0" />
<path d="M1563.0,1120.6 L1674.0,1181.2 L1674.0,1217.8 L1563.0,1157.2Z" fill="#000" stroke="none" stroke-width="0" />
<path d="M1565.0,1121.6 L1668.0,1178.9 L1668.0,1189.9 L1565.0,1132.6Z" fill="#fff" stroke="none" stroke-width="0" />
<path d="M1565.0,1139.6 L1664.0,1194.7 L1664.0,1197.7 L1565.0,1142.6Z" fill="#fff" stroke="none" stroke-width="0" />
<path d="M1675.0,1178.2 L1675.0,1185.2 L1669.0,1178.2Z" fill="#fff" stroke="none" stroke-width="0" />
<path d="M1563.0,1157.2 L1674.0,1217.8 L1674.0,1254.4 L1563.0,1193.8Z" fill="#000" stroke="none" stroke-width="0" />
<path d="M1565.0,1158.2 L1668.0,1215.5 L1668.0,1226.5 L1565.0,1169.2Z" fill="#fff" stroke="none" stroke-width="0" />
<path d="M1565.0,1176.2 L1664.0,1231.3 L1664.0,1234.3 L1565.0,1179.2Z" fill="#fff" stroke="none" stroke-width="0" />
<path d="M1675.0,1214.8 L1675.0,1221.8 L1669.0,1214.8Z" fill="#fff" stroke="none" stroke-width="0" />
<path d="M1563.0,1193.8 L1674.0,1254.4 L1674.0,1291.0 L1563.0,1230.4Z" fill="#000" stroke="none" stroke-width="0" />
<path d="M1565.0,1194.8 L1668.0,1252.1 L1668.0,1263.1 L1565.0,1205.8Z" fill="#fff" stroke="none" stroke-width="0" />
<path d="M1565.0,1212.8 L1664.0,1267.9 L1664.0,1270.9 L1565.0,1215.8Z" fill="#fff" stroke="none" stroke-width="0" />
<path d="M1675.0,1251.4 L1675.0,1258.4 L1669.0,1251.4Z" fill="#fff" stroke="none" stroke-width="0" />
<path d="M1563.0,1230.4 L1674.0,1291.0 L1674.0,1327.6 L1563.0,1267.0Z" fill="#000" stroke="none" stroke-width="0" />
<path d="M1565.0,1231.4 L1668.0,1288.7 L1668.0,1299.7 L1565.0,1242.4Z" fill="#fff" stroke="none" stroke-width="0" />
<path d="M1565.0,1249.4 L1664.0,1304.5 L1664.0,1307.5 L1565.0,1252.4Z" fill="#fff" stroke="none" stroke-width="0" />
<path d="M1675.0,1288.0 L1675.0,1295.0 L1669.0,1288.0Z" fill="#fff" stroke="none" stroke-width="0" />
<path d="M1563.0,1267.0 L1674.0,1327.6 L1674.0,1364.2 L1563.0,1303.6Z" fill="#000" stroke="none" stroke-width="0" />
<path d="M1565.0,1268.0 L1668.0,1325.3 L1668.0,1336.3 L1565.0,1279.0Z" fill="#fff" stroke="none" stroke-width="0" />
<path d="M1565.0,1286.0 L1664.0,1341.1 L1664.0,1344.1 L1565.0,1289.0Z" fill="#fff" stroke="none" stroke-width="0" />
<path d="M1675.0,1324.6 L1675.0,1331.6 L1669.0,1324.6Z" fill="#fff" stroke="none" stroke-width="0" />
<path d="M1563.0,1303.6 L1674.0,1364.2 L1674.0,1400.8 L1563.0,1340.2Z" fill="#000" stroke="none" stroke-width="0" />
<path d="M1565.0,1304.6 L1668.0,1361.9 L1668.0,1372.9 L1565.0,1315.6Z" fill="#fff" stroke="none" stroke-width="0" />
<path d="M1565.0,1322.6 L1664.0,1377.7 L1664.0,1380.7 L1565.0,1325.6Z" fill="#fff" stroke="none" stroke-width="0" />
<path d="M1675.0,1361.2 L1675.0,1368.2 L1669.0,1361.2Z" fill="#fff" stroke="none" stroke-width="0" />
<path d="M1563.0,1340.2 L1674.0,1400.8 L1674.0,1437.4 L1563.0,1376.8Z" fill="#000" stroke="none" stroke-width="0" />
<path d="M1565.0,1341.2 L1668.0,1398.5 L1668.0,1409.5 L1565.0,1352.2Z" fill="#fff" stroke="none" stroke-width="0" />
<path d="M1565.0,1359.2 L1664.0,1414.3 L1664.0,1417.3 L1565.0,1362.2Z" fill="#fff" stroke="none" stroke-width="0" />
<path d="M1675.0,1397.8 L1675.0,1404.8 L1669.0,1397.8Z" fill="#fff" stroke="none" stroke-width="0" />
<path d="M1563.0,1376.8 L1674.0,1437.4 L1674.0,1474.0 L1563.0,1413.4Z" fill="#000" stroke="none" stroke-width="0" />
<path d="M1565.0,1377.8 L1668.0,1435.1 L1668.0,1446.1 L1565.0,1388.8Z" fill="#fff" stroke="none" stroke-width="0" />
<path d="M1565.0,1395.8 L1664.0,1450.9 L1664.0,1453.9 L1565.0,1398.8Z" fill="#fff" stroke="none" stroke-width="0" />
<path d="M1675.0,1434.4 L1675.0,1441.4 L1669.0,1434.4Z" fill="#fff" stroke="none" stroke-width="0" />
<path d="M1563.0,1413.4 L1674.0,1474.0 L1674.0,1510.6 L1563.0,1450.0Z" fill="#000" stroke="none" stroke-width="0" />
<path d="M1565.0,1414.4 L1668.0,1471.7 L1668.0,1482.7 L1565.0,1425.4Z" fill="#fff" stroke="none" stroke-width="0" />
<path d="M1565.0,1432.4 L1664.0,1487.5 L1664.0,1490.5 L1565.0,1435.4Z" fill="#fff" stroke="none" stroke-width="0" />
<path d="M1675.0,1471.0 L1675.0,1478.0 L1669.0,1471.0Z" fill="#fff" stroke="none" stroke-width="0" />
<path d="M1563.0,1450.0 L1674.0,1510.6 L1674.0,1547.2 L1563.0,1486.6Z" fill="#000" stroke="none" stroke-width="0" />
<path d="M1565.0,1451.0 L1668.0,1508.3 L1668.0,1519.3 L1565.0,1462.0Z" fill="#fff" stroke="none" stroke-width="0" />
<path d="M1565.0,1469.0 L1664.0,1524.1 L1664.0,1527.1 L1565.0,1472.0Z" fill="#fff" stroke="none" stroke-width="0" />
<path d="M1675.0,1507.6 L1675.0,1514.6 L1669.0,1507.6Z" fill="#fff" stroke="none" stroke-width="0" />
<path d="M1563.0,1486.6 L1674.0,1547.2 L1674.0,1583.8 L1563.0,1523.2Z" fill="#000" stroke="none" stroke-width="0" />
<path d="M1565.0,1487.6 L1668.0,1544.9 L1668.0,1555.9 L1565.0,1498.6Z" fill="#fff" stroke="none" stroke-width="0" />
<path d="M1565.0,1505.6 L1664.0,1560.7 L1664.0,1563.7 L1565.0,1508.6Z" fill="#fff" stroke="none" stroke-width="0" />
<path d="M1675.0,1544.2 L1675.0,1551.2 L1669.0,1544.2Z" fill="#fff" stroke="none" stroke-width="0" />
<path d="M1563.0,1523.2 L1674.0,1583.8 L1674.0,1620.4 L1563.0,1559.8Z" fill="#000" stroke="none" stroke-width="0" />
<path d="M1565.0,1524.2 L1668.0,1581.5 L1668.0,1592.5 L1565.0,1535.2Z" fill="#fff" stroke="none" stroke-width="0" />
<path d="M1565.0,1542.2 L1664.0,1597.3 L1664.0,1600.3 L1565.0,1545.2Z" fill="#fff" stroke="none" stroke-width="0" />
<path d="M1675.0,1580.8 L1675.0,1587.8 L1669.0,1580.8Z" fill="#fff" stroke="none" stroke-width="0" />
<path d="M1563.0,1559.8 L1674.0,1620.4 L1674.0,1640.4 L1563.0,1579.8Z" fill="#000" stroke="none" stroke-width="0" />
<path d="M1565.0,1560.8 L1668.0,1618.1 L1668.0,1629.1 L1565.0,1571.8Z" fill="#fff" stroke="none" stroke-width="0" />
<path d="M1565.0,1578.8 L1664.0,1633.9 L1664.0,1636.9 L1565.0,1581.8Z" fill="#fff" stroke="none" stroke-width="0" />
<path d="M1675.0,1617.4 L1675.0,1624.4 L1669.0,1617.4Z" fill="#fff" stroke="none" stroke-width="0" />
<path d="M1561.0,800.0 L1566.0,1998.0" fill="none" stroke="#000" stroke-width="7" />
<path d="M1565.0,1723.0 L1730.0,1818.0" fill="none" stroke="#000" stroke-width="6" />
<path d="M1725.0,640.0 L1730.0,1820.0" fill="none" stroke="#000" stroke-width="6" />
<path d="M1734.7,640.0 L1740.0,1795.0" fill="none" stroke="#000" stroke-width="6" />
<path d="M1743.0,1615.0 L1743.0,1778.0 L1747.0,1785.0" fill="none" stroke="#000" stroke-width="5" />
<path d="M1744.3,1798.2 L1742.7,1802.3 L1741.0,1806.4 L1739.3,1810.5 L1737.5,1814.6 L1735.6,1818.6 L1733.6,1822.7 L1731.6,1826.8 L1729.5,1830.8 L1727.3,1834.8 L1725.1,1838.8 L1722.8,1842.8 L1720.5,1846.8 L1718.0,1850.8 L1715.5,1854.8 L1713.0,1858.7 L1710.3,1862.7 L1707.6,1866.6 L1704.9,1870.5 L1702.0,1874.4 L1699.1,1878.3 L1696.2,1882.1 L1693.1,1886.0 L1690.0,1889.8 L1686.9,1893.6 L1683.7,1897.4 L1680.4,1901.2 L1677.0,1904.9 L1673.6,1908.7 L1670.1,1912.4 L1666.6,1916.1 L1663.0,1919.8 L1659.3,1923.5 L1655.6,1927.1 L1651.8,1930.7 L1648.0,1934.3 L1644.0,1937.9 L1640.1,1941.5 L1636.0,1945.0 L1631.9,1948.5 L1627.8,1952.0 L1623.6,1955.5 L1619.3,1959.0 L1615.0,1962.4 L1610.6,1965.8 L1606.2,1969.2 L1601.7,1972.5 L1597.1,1975.9 L1592.5,1979.2 L1587.8,1982.5 L1583.1,1985.7 L1578.3,1988.9 L1573.5,1992.1 L1568.6,1995.3 L1563.7,1998.5 L1558.7,2001.6 L1553.7,2004.7 L1548.6,2007.8 L1543.4,2010.8 L1538.2,2013.8 L1533.0,2016.8" fill="none" stroke="#000" stroke-width="6" />
<path d="M927.5,900.0 L1421.0,900.0 L1421.0,1900.0 L1537.0,1880.0 L1537.0,2011.0 L1004.0,2034.0 L927.5,1990.0Z" fill="#fff" stroke="none" stroke-width="0" />
<path d="M933.0,815.4 L1005.0,848.4" fill="none" stroke="#000" stroke-width="6" />
<path d="M933.0,827.4 L1003.0,859.4" fill="none" stroke="#000" stroke-width="6" />
<path d="M933.0,840.4 L1020.0,871.5" fill="none" stroke="#000" stroke-width="6" />
<path d="M1005.0,848.4 L1005.0,862.2" fill="none" stroke="#000" stroke-width="6" />
<path d="M1005.0,862.2 L1413.0,844.5" fill="none" stroke="#000" stroke-width="7" />
<path d="M1020.0,871.5 L1413.0,854.5" fill="none" stroke="#000" stroke-width="7" />
<path d="M1005.0,886.9 L1413.0,869.2" fill="none" stroke="#000" stroke-width="7" />
<path d="M1411,844.5 Q1417,844.5 1417,850.5 L1417,863.2 Q1417,869.2 1411,869.2" fill="none" stroke="#000" stroke-width="7" />
<path d="M933.0,853.9 L1005.0,886.9" fill="none" stroke="#000" stroke-width="6" />
<path d="M933.0,865.9 L1003.0,897.9" fill="none" stroke="#000" stroke-width="6" />
<path d="M933.0,878.9 L1020.0,910.0" fill="none" stroke="#000" stroke-width="6" />
<path d="M1005.0,886.9 L1005.0,900.7" fill="none" stroke="#000" stroke-width="6" />
<path d="M1005.0,900.7 L1413.0,883.0" fill="none" stroke="#000" stroke-width="7" />
<path d="M1020.0,910.0 L1413.0,893.0" fill="none" stroke="#000" stroke-width="7" />
<path d="M1005.0,925.4 L1413.0,907.7" fill="none" stroke="#000" stroke-width="7" />
<path d="M1411,883.0 Q1417,883.0 1417,889.0 L1417,901.7 Q1417,907.7 1411,907.7" fill="none" stroke="#000" stroke-width="7" />
<path d="M933.0,892.4 L1005.0,925.4" fill="none" stroke="#000" stroke-width="6" />
<path d="M933.0,904.4 L1003.0,936.4" fill="none" stroke="#000" stroke-width="6" />
<path d="M933.0,917.4 L1020.0,948.5" fill="none" stroke="#000" stroke-width="6" />
<path d="M1005.0,925.4 L1005.0,939.2" fill="none" stroke="#000" stroke-width="6" />
<path d="M1005.0,939.2 L1413.0,921.5" fill="none" stroke="#000" stroke-width="7" />
<path d="M1020.0,948.5 L1413.0,931.5" fill="none" stroke="#000" stroke-width="7" />
<path d="M1005.0,963.9 L1413.0,946.2" fill="none" stroke="#000" stroke-width="7" />
<path d="M1411,921.5 Q1417,921.5 1417,927.5 L1417,940.2 Q1417,946.2 1411,946.2" fill="none" stroke="#000" stroke-width="7" />
<path d="M933.0,930.9 L1005.0,963.9" fill="none" stroke="#000" stroke-width="6" />
<path d="M933.0,942.9 L1003.0,974.9" fill="none" stroke="#000" stroke-width="6" />
<path d="M933.0,955.9 L1020.0,987.0" fill="none" stroke="#000" stroke-width="6" />
<path d="M1005.0,963.9 L1005.0,977.7" fill="none" stroke="#000" stroke-width="6" />
<path d="M1005.0,977.7 L1413.0,960.0" fill="none" stroke="#000" stroke-width="7" />
<path d="M1020.0,987.0 L1413.0,970.0" fill="none" stroke="#000" stroke-width="7" />
<path d="M1005.0,1002.4 L1413.0,984.7" fill="none" stroke="#000" stroke-width="7" />
<path d="M1411,960.0 Q1417,960.0 1417,966.0 L1417,978.7 Q1417,984.7 1411,984.7" fill="none" stroke="#000" stroke-width="7" />
<path d="M933.0,969.4 L1005.0,1002.4" fill="none" stroke="#000" stroke-width="6" />
<path d="M933.0,981.4 L1003.0,1013.4" fill="none" stroke="#000" stroke-width="6" />
<path d="M933.0,994.4 L1020.0,1025.5" fill="none" stroke="#000" stroke-width="6" />
<path d="M1005.0,1002.4 L1005.0,1016.2" fill="none" stroke="#000" stroke-width="6" />
<path d="M1005.0,1016.2 L1413.0,998.5" fill="none" stroke="#000" stroke-width="7" />
<path d="M1020.0,1025.5 L1413.0,1008.5" fill="none" stroke="#000" stroke-width="7" />
<path d="M1005.0,1040.9 L1413.0,1023.2" fill="none" stroke="#000" stroke-width="7" />
<path d="M1411,998.5 Q1417,998.5 1417,1004.5 L1417,1017.2 Q1417,1023.2 1411,1023.2" fill="none" stroke="#000" stroke-width="7" />
<path d="M933.0,1007.9 L1005.0,1040.9" fill="none" stroke="#000" stroke-width="6" />
<path d="M933.0,1019.9 L1003.0,1051.9" fill="none" stroke="#000" stroke-width="6" />
<path d="M933.0,1032.9 L1020.0,1064.0" fill="none" stroke="#000" stroke-width="6" />
<path d="M1005.0,1040.9 L1005.0,1054.7" fill="none" stroke="#000" stroke-width="6" />
<path d="M1005.0,1054.7 L1413.0,1037.0" fill="none" stroke="#000" stroke-width="7" />
<path d="M1020.0,1064.0 L1413.0,1047.0" fill="none" stroke="#000" stroke-width="7" />
<path d="M1005.0,1079.4 L1413.0,1061.7" fill="none" stroke="#000" stroke-width="7" />
<path d="M1411,1037.0 Q1417,1037.0 1417,1043.0 L1417,1055.7 Q1417,1061.7 1411,1061.7" fill="none" stroke="#000" stroke-width="7" />
<path d="M933.0,1046.4 L1005.0,1079.4" fill="none" stroke="#000" stroke-width="6" />
<path d="M933.0,1058.4 L1003.0,1090.4" fill="none" stroke="#000" stroke-width="6" />
<path d="M933.0,1071.4 L1020.0,1102.5" fill="none" stroke="#000" stroke-width="6" />
<path d="M1005.0,1079.4 L1005.0,1093.2" fill="none" stroke="#000" stroke-width="6" />
<path d="M1005.0,1093.2 L1413.0,1075.5" fill="none" stroke="#000" stroke-width="7" />
<path d="M1020.0,1102.5 L1413.0,1085.5" fill="none" stroke="#000" stroke-width="7" />
<path d="M1005.0,1117.9 L1413.0,1100.2" fill="none" stroke="#000" stroke-width="7" />
<path d="M1411,1075.5 Q1417,1075.5 1417,1081.5 L1417,1094.2 Q1417,1100.2 1411,1100.2" fill="none" stroke="#000" stroke-width="7" />
<path d="M933.0,1084.9 L1005.0,1117.9" fill="none" stroke="#000" stroke-width="6" />
<path d="M933.0,1096.9 L1003.0,1128.9" fill="none" stroke="#000" stroke-width="6" />
<path d="M933.0,1109.9 L1020.0,1141.0" fill="none" stroke="#000" stroke-width="6" />
<path d="M1005.0,1117.9 L1005.0,1131.7" fill="none" stroke="#000" stroke-width="6" />
<path d="M1005.0,1131.7 L1413.0,1114.0" fill="none" stroke="#000" stroke-width="7" />
<path d="M1020.0,1141.0 L1413.0,1124.0" fill="none" stroke="#000" stroke-width="7" />
<path d="M1005.0,1156.4 L1413.0,1138.7" fill="none" stroke="#000" stroke-width="7" />
<path d="M1411,1114.0 Q1417,1114.0 1417,1120.0 L1417,1132.7 Q1417,1138.7 1411,1138.7" fill="none" stroke="#000" stroke-width="7" />
<path d="M933.0,1123.4 L1005.0,1156.4" fill="none" stroke="#000" stroke-width="6" />
<path d="M933.0,1135.4 L1003.0,1167.4" fill="none" stroke="#000" stroke-width="6" />
<path d="M933.0,1148.4 L1020.0,1179.5" fill="none" stroke="#000" stroke-width="6" />
<path d="M1005.0,1156.4 L1005.0,1170.2" fill="none" stroke="#000" stroke-width="6" />
<path d="M1005.0,1170.2 L1413.0,1152.5" fill="none" stroke="#000" stroke-width="7" />
<path d="M1020.0,1179.5 L1413.0,1162.5" fill="none" stroke="#000" stroke-width="7" />
<path d="M1005.0,1194.9 L1413.0,1177.2" fill="none" stroke="#000" stroke-width="7" />
<path d="M1411,1152.5 Q1417,1152.5 1417,1158.5 L1417,1171.2 Q1417,1177.2 1411,1177.2" fill="none" stroke="#000" stroke-width="7" />
<path d="M933.0,1161.9 L1005.0,1194.9" fill="none" stroke="#000" stroke-width="6" />
<path d="M933.0,1173.9 L1003.0,1205.9" fill="none" stroke="#000" stroke-width="6" />
<path d="M933.0,1186.9 L1020.0,1218.0" fill="none" stroke="#000" stroke-width="6" />
<path d="M1005.0,1194.9 L1005.0,1208.7" fill="none" stroke="#000" stroke-width="6" />
<path d="M1005.0,1208.7 L1413.0,1191.0" fill="none" stroke="#000" stroke-width="7" />
<path d="M1020.0,1218.0 L1413.0,1201.0" fill="none" stroke="#000" stroke-width="7" />
<path d="M1005.0,1233.4 L1413.0,1215.7" fill="none" stroke="#000" stroke-width="7" />
<path d="M1411,1191.0 Q1417,1191.0 1417,1197.0 L1417,1209.7 Q1417,1215.7 1411,1215.7" fill="none" stroke="#000" stroke-width="7" />
<path d="M933.0,1200.4 L1005.0,1233.4" fill="none" stroke="#000" stroke-width="6" />
<path d="M933.0,1212.4 L1003.0,1244.4" fill="none" stroke="#000" stroke-width="6" />
<path d="M933.0,1225.4 L1020.0,1256.5" fill="none" stroke="#000" stroke-width="6" />
<path d="M1005.0,1233.4 L1005.0,1247.2" fill="none" stroke="#000" stroke-width="6" />
<path d="M1005.0,1247.2 L1413.0,1229.5" fill="none" stroke="#000" stroke-width="7" />
<path d="M1020.0,1256.5 L1413.0,1239.5" fill="none" stroke="#000" stroke-width="7" />
<path d="M1005.0,1271.9 L1413.0,1254.2" fill="none" stroke="#000" stroke-width="7" />
<path d="M1411,1229.5 Q1417,1229.5 1417,1235.5 L1417,1248.2 Q1417,1254.2 1411,1254.2" fill="none" stroke="#000" stroke-width="7" />
<path d="M933.0,1238.9 L1005.0,1271.9" fill="none" stroke="#000" stroke-width="6" />
<path d="M933.0,1250.9 L1003.0,1282.9" fill="none" stroke="#000" stroke-width="6" />
<path d="M933.0,1263.9 L1020.0,1295.0" fill="none" stroke="#000" stroke-width="6" />
<path d="M1005.0,1271.9 L1005.0,1285.7" fill="none" stroke="#000" stroke-width="6" />
<path d="M1005.0,1285.7 L1413.0,1268.0" fill="none" stroke="#000" stroke-width="7" />
<path d="M1020.0,1295.0 L1413.0,1278.0" fill="none" stroke="#000" stroke-width="7" />
<path d="M1005.0,1310.4 L1413.0,1292.7" fill="none" stroke="#000" stroke-width="7" />
<path d="M1411,1268.0 Q1417,1268.0 1417,1274.0 L1417,1286.7 Q1417,1292.7 1411,1292.7" fill="none" stroke="#000" stroke-width="7" />
<path d="M933.0,1277.4 L1005.0,1310.4" fill="none" stroke="#000" stroke-width="6" />
<path d="M933.0,1289.4 L1003.0,1321.4" fill="none" stroke="#000" stroke-width="6" />
<path d="M933.0,1302.4 L1020.0,1333.5" fill="none" stroke="#000" stroke-width="6" />
<path d="M1005.0,1310.4 L1005.0,1324.2" fill="none" stroke="#000" stroke-width="6" />
<path d="M1005.0,1324.2 L1413.0,1306.5" fill="none" stroke="#000" stroke-width="7" />
<path d="M1020.0,1333.5 L1413.0,1316.5" fill="none" stroke="#000" stroke-width="7" />
<path d="M1005.0,1348.9 L1413.0,1331.2" fill="none" stroke="#000" stroke-width="7" />
<path d="M1411,1306.5 Q1417,1306.5 1417,1312.5 L1417,1325.2 Q1417,1331.2 1411,1331.2" fill="none" stroke="#000" stroke-width="7" />
<path d="M933.0,1315.9 L1005.0,1348.9" fill="none" stroke="#000" stroke-width="6" />
<path d="M933.0,1327.9 L1003.0,1359.9" fill="none" stroke="#000" stroke-width="6" />
<path d="M933.0,1340.9 L1020.0,1372.0" fill="none" stroke="#000" stroke-width="6" />
<path d="M1005.0,1348.9 L1005.0,1362.7" fill="none" stroke="#000" stroke-width="6" />
<path d="M1005.0,1362.7 L1413.0,1345.0" fill="none" stroke="#000" stroke-width="7" />
<path d="M1020.0,1372.0 L1413.0,1355.0" fill="none" stroke="#000" stroke-width="7" />
<path d="M1005.0,1387.4 L1413.0,1369.7" fill="none" stroke="#000" stroke-width="7" />
<path d="M1411,1345.0 Q1417,1345.0 1417,1351.0 L1417,1363.7 Q1417,1369.7 1411,1369.7" fill="none" stroke="#000" stroke-width="7" />
<path d="M933.0,1354.4 L1005.0,1387.4" fill="none" stroke="#000" stroke-width="6" />
<path d="M933.0,1366.4 L1003.0,1398.4" fill="none" stroke="#000" stroke-width="6" />
<path d="M933.0,1379.4 L1020.0,1410.5" fill="none" stroke="#000" stroke-width="6" />
<path d="M1005.0,1387.4 L1005.0,1401.2" fill="none" stroke="#000" stroke-width="6" />
<path d="M1005.0,1401.2 L1413.0,1383.5" fill="none" stroke="#000" stroke-width="7" />
<path d="M1020.0,1410.5 L1413.0,1393.5" fill="none" stroke="#000" stroke-width="7" />
<path d="M1005.0,1425.9 L1413.0,1408.2" fill="none" stroke="#000" stroke-width="7" />
<path d="M1411,1383.5 Q1417,1383.5 1417,1389.5 L1417,1402.2 Q1417,1408.2 1411,1408.2" fill="none" stroke="#000" stroke-width="7" />
<path d="M933.0,1392.9 L1005.0,1425.9" fill="none" stroke="#000" stroke-width="6" />
<path d="M933.0,1404.9 L1003.0,1436.9" fill="none" stroke="#000" stroke-width="6" />
<path d="M933.0,1417.9 L1020.0,1449.0" fill="none" stroke="#000" stroke-width="6" />
<path d="M1005.0,1425.9 L1005.0,1439.7" fill="none" stroke="#000" stroke-width="6" />
<path d="M1005.0,1439.7 L1413.0,1422.0" fill="none" stroke="#000" stroke-width="7" />
<path d="M1020.0,1449.0 L1413.0,1432.0" fill="none" stroke="#000" stroke-width="7" />
<path d="M1005.0,1464.4 L1413.0,1446.7" fill="none" stroke="#000" stroke-width="7" />
<path d="M1411,1422.0 Q1417,1422.0 1417,1428.0 L1417,1440.7 Q1417,1446.7 1411,1446.7" fill="none" stroke="#000" stroke-width="7" />
<path d="M933.0,1431.4 L1005.0,1464.4" fill="none" stroke="#000" stroke-width="6" />
<path d="M933.0,1443.4 L1003.0,1475.4" fill="none" stroke="#000" stroke-width="6" />
<path d="M933.0,1456.4 L1020.0,1487.5" fill="none" stroke="#000" stroke-width="6" />
<path d="M1005.0,1464.4 L1005.0,1478.2" fill="none" stroke="#000" stroke-width="6" />
<path d="M1005.0,1478.2 L1413.0,1460.5" fill="none" stroke="#000" stroke-width="7" />
<path d="M1020.0,1487.5 L1413.0,1470.5" fill="none" stroke="#000" stroke-width="7" />
<path d="M1005.0,1502.9 L1413.0,1485.2" fill="none" stroke="#000" stroke-width="7" />
<path d="M1411,1460.5 Q1417,1460.5 1417,1466.5 L1417,1479.2 Q1417,1485.2 1411,1485.2" fill="none" stroke="#000" stroke-width="7" />
<path d="M933.0,1469.9 L1005.0,1502.9" fill="none" stroke="#000" stroke-width="6" />
<path d="M933.0,1481.9 L1003.0,1513.9" fill="none" stroke="#000" stroke-width="6" />
<path d="M933.0,1494.9 L1020.0,1526.0" fill="none" stroke="#000" stroke-width="6" />
<path d="M1005.0,1502.9 L1005.0,1516.7" fill="none" stroke="#000" stroke-width="6" />
<path d="M1005.0,1516.7 L1413.0,1499.0" fill="none" stroke="#000" stroke-width="7" />
<path d="M1020.0,1526.0 L1413.0,1509.0" fill="none" stroke="#000" stroke-width="7" />
<path d="M1005.0,1541.4 L1413.0,1523.7" fill="none" stroke="#000" stroke-width="7" />
<path d="M1411,1499.0 Q1417,1499.0 1417,1505.0 L1417,1517.7 Q1417,1523.7 1411,1523.7" fill="none" stroke="#000" stroke-width="7" />
<path d="M933.0,1508.4 L1005.0,1541.4" fill="none" stroke="#000" stroke-width="6" />
<path d="M933.0,1520.4 L1003.0,1552.4" fill="none" stroke="#000" stroke-width="6" />
<path d="M933.0,1533.4 L1020.0,1564.5" fill="none" stroke="#000" stroke-width="6" />
<path d="M1005.0,1541.4 L1005.0,1555.2" fill="none" stroke="#000" stroke-width="6" />
<path d="M1005.0,1555.2 L1413.0,1537.5" fill="none" stroke="#000" stroke-width="7" />
<path d="M1020.0,1564.5 L1413.0,1547.5" fill="none" stroke="#000" stroke-width="7" />
<path d="M1005.0,1579.9 L1413.0,1562.2" fill="none" stroke="#000" stroke-width="7" />
<path d="M1411,1537.5 Q1417,1537.5 1417,1543.5 L1417,1556.2 Q1417,1562.2 1411,1562.2" fill="none" stroke="#000" stroke-width="7" />
<path d="M933.0,1546.9 L1005.0,1579.9" fill="none" stroke="#000" stroke-width="6" />
<path d="M933.0,1558.9 L1003.0,1590.9" fill="none" stroke="#000" stroke-width="6" />
<path d="M933.0,1571.9 L1020.0,1603.0" fill="none" stroke="#000" stroke-width="6" />
<path d="M1005.0,1579.9 L1005.0,1593.7" fill="none" stroke="#000" stroke-width="6" />
<path d="M1005.0,1593.7 L1413.0,1576.0" fill="none" stroke="#000" stroke-width="7" />
<path d="M1020.0,1603.0 L1413.0,1586.0" fill="none" stroke="#000" stroke-width="7" />
<path d="M1005.0,1618.4 L1413.0,1600.7" fill="none" stroke="#000" stroke-width="7" />
<path d="M1411,1576.0 Q1417,1576.0 1417,1582.0 L1417,1594.7 Q1417,1600.7 1411,1600.7" fill="none" stroke="#000" stroke-width="7" />
<path d="M933.0,1585.4 L1005.0,1618.4" fill="none" stroke="#000" stroke-width="6" />
<path d="M933.0,1597.4 L1003.0,1629.4" fill="none" stroke="#000" stroke-width="6" />
<path d="M933.0,1610.4 L1020.0,1641.5" fill="none" stroke="#000" stroke-width="6" />
<path d="M1005.0,1618.4 L1005.0,1632.2" fill="none" stroke="#000" stroke-width="6" />
<path d="M1005.0,1632.2 L1413.0,1614.5" fill="none" stroke="#000" stroke-width="7" />
<path d="M1020.0,1641.5 L1413.0,1624.5" fill="none" stroke="#000" stroke-width="7" />
<path d="M1005.0,1656.9 L1413.0,1639.2" fill="none" stroke="#000" stroke-width="7" />
<path d="M1411,1614.5 Q1417,1614.5 1417,1620.5 L1417,1633.2 Q1417,1639.2 1411,1639.2" fill="none" stroke="#000" stroke-width="7" />
<path d="M933.0,1623.9 L1005.0,1656.9" fill="none" stroke="#000" stroke-width="6" />
<path d="M933.0,1635.9 L1003.0,1667.9" fill="none" stroke="#000" stroke-width="6" />
<path d="M933.0,1648.9 L1020.0,1680.0" fill="none" stroke="#000" stroke-width="6" />
<path d="M1005.0,1656.9 L1005.0,1670.7" fill="none" stroke="#000" stroke-width="6" />
<path d="M1005.0,1670.7 L1413.0,1653.0" fill="none" stroke="#000" stroke-width="7" />
<path d="M1020.0,1680.0 L1413.0,1663.0" fill="none" stroke="#000" stroke-width="7" />
<path d="M1005.0,1695.4 L1413.0,1677.7" fill="none" stroke="#000" stroke-width="7" />
<path d="M1411,1653.0 Q1417,1653.0 1417,1659.0 L1417,1671.7 Q1417,1677.7 1411,1677.7" fill="none" stroke="#000" stroke-width="7" />
<path d="M933.0,1662.4 L1005.0,1695.4" fill="none" stroke="#000" stroke-width="6" />
<path d="M933.0,1674.4 L1003.0,1706.4" fill="none" stroke="#000" stroke-width="6" />
<path d="M933.0,1687.4 L1020.0,1718.5" fill="none" stroke="#000" stroke-width="6" />
<path d="M1005.0,1695.4 L1005.0,1709.2" fill="none" stroke="#000" stroke-width="6" />
<path d="M1005.0,1709.2 L1413.0,1691.5" fill="none" stroke="#000" stroke-width="7" />
<path d="M1020.0,1718.5 L1413.0,1701.5" fill="none" stroke="#000" stroke-width="7" />
<path d="M1005.0,1733.9 L1413.0,1716.2" fill="none" stroke="#000" stroke-width="7" />
<path d="M1411,1691.5 Q1417,1691.5 1417,1697.5 L1417,1710.2 Q1417,1716.2 1411,1716.2" fill="none" stroke="#000" stroke-width="7" />
<path d="M933.0,1700.9 L1005.0,1733.9" fill="none" stroke="#000" stroke-width="6" />
<path d="M933.0,1712.9 L1003.0,1744.9" fill="none" stroke="#000" stroke-width="6" />
<path d="M933.0,1725.9 L1020.0,1757.0" fill="none" stroke="#000" stroke-width="6" />
<path d="M1005.0,1733.9 L1005.0,1747.7" fill="none" stroke="#000" stroke-width="6" />
<path d="M1005.0,1747.7 L1413.0,1730.0" fill="none" stroke="#000" stroke-width="7" />
<path d="M1020.0,1757.0 L1413.0,1740.0" fill="none" stroke="#000" stroke-width="7" />
<path d="M1005.0,1772.4 L1413.0,1754.7" fill="none" stroke="#000" stroke-width="7" />
<path d="M1411,1730.0 Q1417,1730.0 1417,1736.0 L1417,1748.7 Q1417,1754.7 1411,1754.7" fill="none" stroke="#000" stroke-width="7" />
<path d="M933.0,1739.4 L1005.0,1772.4" fill="none" stroke="#000" stroke-width="6" />
<path d="M933.0,1751.4 L1003.0,1783.4" fill="none" stroke="#000" stroke-width="6" />
<path d="M933.0,1764.4 L1020.0,1795.5" fill="none" stroke="#000" stroke-width="6" />
<path d="M1005.0,1772.4 L1005.0,1786.2" fill="none" stroke="#000" stroke-width="6" />
<path d="M1005.0,1786.2 L1413.0,1768.5" fill="none" stroke="#000" stroke-width="7" />
<path d="M1020.0,1795.5 L1413.0,1778.5" fill="none" stroke="#000" stroke-width="7" />
<path d="M1005.0,1810.9 L1413.0,1793.2" fill="none" stroke="#000" stroke-width="7" />
<path d="M1411,1768.5 Q1417,1768.5 1417,1774.5 L1417,1787.2 Q1417,1793.2 1411,1793.2" fill="none" stroke="#000" stroke-width="7" />
<path d="M933.0,1777.9 L1005.0,1810.9" fill="none" stroke="#000" stroke-width="6" />
<path d="M933.0,1789.9 L1003.0,1821.9" fill="none" stroke="#000" stroke-width="6" />
<path d="M933.0,1802.9 L1020.0,1834.0" fill="none" stroke="#000" stroke-width="6" />
<path d="M1005.0,1810.9 L1005.0,1824.7" fill="none" stroke="#000" stroke-width="6" />
<path d="M1005.0,1824.7 L1413.0,1807.0" fill="none" stroke="#000" stroke-width="7" />
<path d="M1020.0,1834.0 L1413.0,1817.0" fill="none" stroke="#000" stroke-width="7" />
<path d="M1005.0,1849.4 L1413.0,1831.7" fill="none" stroke="#000" stroke-width="7" />
<path d="M1411,1807.0 Q1417,1807.0 1417,1813.0 L1417,1825.7 Q1417,1831.7 1411,1831.7" fill="none" stroke="#000" stroke-width="7" />
<path d="M933.0,1816.4 L1005.0,1849.4" fill="none" stroke="#000" stroke-width="6" />
<path d="M933.0,1828.4 L1003.0,1860.4" fill="none" stroke="#000" stroke-width="6" />
<path d="M933.0,1841.4 L1020.0,1872.5" fill="none" stroke="#000" stroke-width="6" />
<path d="M1005.0,1849.4 L1005.0,1863.2" fill="none" stroke="#000" stroke-width="6" />
<path d="M1005.0,1863.2 L1413.0,1845.5" fill="none" stroke="#000" stroke-width="7" />
<path d="M1020.0,1872.5 L1413.0,1855.5" fill="none" stroke="#000" stroke-width="7" />
<path d="M1005.0,1887.9 L1413.0,1870.2" fill="none" stroke="#000" stroke-width="7" />
<path d="M1411,1845.5 Q1417,1845.5 1417,1851.5 L1417,1864.2 Q1417,1870.2 1411,1870.2" fill="none" stroke="#000" stroke-width="7" />
<path d="M933.0,1854.9 L1005.0,1887.9" fill="none" stroke="#000" stroke-width="6" />
<path d="M926.1,900.0 L926.1,901.0 L926.2,902.0 L926.3,903.0 L926.4,904.0 L926.6,905.0 L926.8,906.0 L926.9,907.0 L927.1,908.0 L927.3,909.0 L927.5,910.0 L927.5,911.0 L927.5,912.0 L927.5,913.0 L927.5,914.0 L927.5,915.0 L927.5,916.0 L927.5,917.0 L927.5,918.0 L927.5,919.0 L927.5,920.0 L927.5,921.0 L927.5,922.0 L927.5,923.0 L927.5,924.0 L927.4,925.0 L927.2,926.0 L927.0,927.0 L926.8,928.0 L926.7,929.0 L926.5,930.0 L926.4,931.0 L926.3,932.0 L926.2,933.0 L926.1,934.0 L926.0,935.0 L926.0,936.0 L926.0,937.0 L926.0,938.0 L926.1,939.0 L926.2,940.0 L926.3,941.0 L926.4,942.0 L926.5,943.0 L926.7,944.0 L926.8,945.0 L927.0,946.0 L927.2,947.0 L927.4,948.0 L927.5,949.0 L927.5,950.0 L927.5,951.0 L927.5,952.0 L927.5,953.0 L927.5,954.0 L927.5,955.0 L927.5,956.0 L927.5,957.0 L927.5,958.0 L927.5,959.0 L927.5,960.0 L927.5,961.0 L927.5,962.0 L927.5,963.0 L927.3,964.0 L927.1,965.0 L926.9,966.0 L926.8,967.0 L926.6,968.0 L926.4,969.0 L926.3,970.0 L926.2,971.0 L926.1,972.0 L926.1,973.0 L926.0,974.0 L926.0,975.0 L926.0,976.0 L926.1,977.0 L926.1,978.0 L926.2,979.0 L926.3,980.0 L926.4,981.0 L926.6,982.0 L926.8,983.0 L926.9,984.0 L927.1,985.0 L927.3,986.0 L927.5,987.0 L927.5,988.0 L927.5,989.0 L927.5,990.0 L927.5,991.0 L927.5,992.0 L927.5,993.0 L927.5,994.0 L927.5,995.0 L927.5,996.0 L927.5,997.0 L927.5,998.0 L927.5,999.0 L927.5,1000.0 L927.5,1001.0 L927.4,1002.0 L927.2,1003.0 L927.0,1004.0 L926.8,1005.0 L926.7,1006.0 L926.5,1007.0 L926.4,1008.0 L926.3,1009.0 L926.2,1010.0 L926.1,1011.0 L926.0,1012.0 L926.0,1013.0 L926.0,1014.0 L926.0,1015.0 L926.1,1016.0 L926.2,1017.0 L926.3,1018.0 L926.4,1019.0 L926.5,1020.0 L926.7,1021.0 L926.8,1022.0 L927.0,1023.0 L927.2,1024.0 L927.4,1025.0 L927.5,1026.0 L927.5,1027.0 L927.5,1028.0 L927.5,1029.0 L927.5,1030.0 L927.5,1031.0 L927.5,1032.0 L927.5,1033.0 L927.5,1034.0 L927.5,1035.0 L927.5,1036.0 L927.5,1037.0 L927.5,1038.0 L927.5,1039.0 L927.5,1040.0 L927.3,1041.0 L927.1,1042.0 L926.9,1043.0 L926.8,1044.0 L926.6,1045.0 L926.4,1046.0 L926.3,1047.0 L926.2,1048.0 L926.1,1049.0 L926.1,1050.0 L926.0,1051.0 L926.0,1052.0 L926.0,1053.0 L926.1,1054.0 L926.1,1055.0 L926.2,1056.0 L926.3,1057.0 L926.4,1058.0 L926.6,1059.0 L926.8,1060.0 L926.9,1061.0 L927.1,1062.0 L927.3,1063.0 L927.5,1064.0 L927.5,1065.0 L927.5,1066.0 L927.5,1067.0 L927.5,1068.0 L927.5,1069.0 L927.5,1070.0 L927.5,1071.0 L927.5,1072.0 L927.5,1073.0 L927.5,1074.0 L927.5,1075.0 L927.5,1076.0 L927.5,1077.0 L927.5,1078.0 L927.4,1079.0 L927.2,1080.0 L927.0,1081.0 L926.8,1082.0 L926.7,1083.0 L926.5,1084.0 L926.4,1085.0 L926.3,1086.0 L926.2,1087.0 L926.1,1088.0 L926.0,1089.0 L926.0,1090.0 L926.0,1091.0 L926.0,1092.0 L926.1,1093.0 L926.2,1094.0 L926.3,1095.0 L926.4,1096.0 L926.5,1097.0 L926.7,1098.0 L926.8,1099.0 L927.0,1100.0 L927.2,1101.0 L927.4,1102.0 L927.5,1103.0 L927.5,1104.0 L927.5,1105.0 L927.5,1106.0 L927.5,1107.0 L927.5,1108.0 L927.5,1109.0 L927.5,1110.0 L927.5,1111.0 L927.5,1112.0 L927.5,1113.0 L927.5,1114.0 L927.5,1115.0 L927.5,1116.0 L927.5,1117.0 L927.3,1118.0 L927.1,1119.0 L926.9,1120.0 L926.8,1121.0 L926.6,1122.0 L926.4,1123.0 L926.3,1124.0 L926.2,1125.0 L926.1,1126.0 L926.1,1127.0 L926.0,1128.0 L926.0,1129.0 L926.0,1130.0 L926.1,1131.0 L926.1,1132.0 L926.2,1133.0 L926.3,1134.0 L926.4,1135.0 L926.6,1136.0 L926.8,1137.0 L926.9,1138.0 L927.1,1139.0 L927.3,1140.0 L927.5,1141.0 L927.5,1142.0 L927.5,1143.0 L927.5,1144.0 L927.5,1145.0 L927.5,1146.0 L927.5,1147.0 L927.5,1148.0 L927.5,1149.0 L927.5,1150.0 L927.5,1151.0 L927.5,1152.0 L927.5,1153.0 L927.5,1154.0 L927.5,1155.0 L927.4,1156.0 L927.2,1157.0 L927.0,1158.0 L926.8,1159.0 L926.7,1160.0 L926.5,1161.0 L926.4,1162.0 L926.3,1163.0 L926.2,1164.0 L926.1,1165.0 L926.0,1166.0 L926.0,1167.0 L926.0,1168.0 L926.0,1169.0 L926.1,1170.0 L926.2,1171.0 L926.3,1172.0 L926.4,1173.0 L926.5,1174.0 L926.7,1175.0 L926.8,1176.0 L927.0,1177.0 L927.2,1178.0 L927.4,1179.0 L927.5,1180.0 L927.5,1181.0 L927.5,1182.0 L927.5,1183.0 L927.5,1184.0 L927.5,1185.0 L927.5,1186.0 L927.5,1187.0 L927.5,1188.0 L927.5,1189.0 L927.5,1190.0 L927.5,1191.0 L927.5,1192.0 L927.5,1193.0 L927.5,1194.0 L927.3,1195.0 L927.1,1196.0 L926.9,1197.0 L926.8,1198.0 L926.6,1199.0 L926.4,1200.0 L926.3,1201.0 L926.2,1202.0 L926.1,1203.0 L926.1,1204.0 L926.0,1205.0 L926.0,1206.0 L926.0,1207.0 L926.1,1208.0 L926.1,1209.0 L926.2,1210.0 L926.3,1211.0 L926.4,1212.0 L926.6,1213.0 L926.8,1214.0 L926.9,1215.0 L927.1,1216.0 L927.3,1217.0 L927.5,1218.0 L927.5,1219.0 L927.5,1220.0 L927.5,1221.0 L927.5,1222.0 L927.5,1223.0 L927.5,1224.0 L927.5,1225.0 L927.5,1226.0 L927.5,1227.0 L927.5,1228.0 L927.5,1229.0 L927.5,1230.0 L927.5,1231.0 L927.5,1232.0 L927.4,1233.0 L927.2,1234.0 L927.0,1235.0 L926.8,1236.0 L926.7,1237.0 L926.5,1238.0 L926.4,1239.0 L926.3,1240.0 L926.2,1241.0 L926.1,1242.0 L926.0,1243.0 L926.0,1244.0 L926.0,1245.0 L926.0,1246.0 L926.1,1247.0 L926.2,1248.0 L926.3,1249.0 L926.4,1250.0 L926.5,1251.0 L926.7,1252.0 L926.8,1253.0 L927.0,1254.0 L927.2,1255.0 L927.4,1256.0 L927.5,1257.0 L927.5,1258.0 L927.5,1259.0 L927.5,1260.0 L927.5,1261.0 L927.5,1262.0 L927.5,1263.0 L927.5,1264.0 L927.5,1265.0 L927.5,1266.0 L927.5,1267.0 L927.5,1268.0 L927.5,1269.0 L927.5,1270.0 L927.5,1271.0 L927.3,1272.0 L927.1,1273.0 L926.9,1274.0 L926.8,1275.0 L926.6,1276.0 L926.4,1277.0 L926.3,1278.0 L926.2,1279.0 L926.1,1280.0 L926.1,1281.0 L926.0,1282.0 L926.0,1283.0 L926.0,1284.0 L926.1,1285.0 L926.1,1286.0 L926.2,1287.0 L926.3,1288.0 L926.4,1289.0 L926.6,1290.0 L926.8,1291.0 L926.9,1292.0 L927.1,1293.0 L927.3,1294.0 L927.5,1295.0 L927.5,1296.0 L927.5,1297.0 L927.5,1298.0 L927.5,1299.0 L927.5,1300.0 L927.5,1301.0 L927.5,1302.0 L927.5,1303.0 L927.5,1304.0 L927.5,1305.0 L927.5,1306.0 L927.5,1307.0 L927.5,1308.0 L927.5,1309.0 L927.4,1310.0 L927.2,1311.0 L927.0,1312.0 L926.8,1313.0 L926.7,1314.0 L926.5,1315.0 L926.4,1316.0 L926.3,1317.0 L926.2,1318.0 L926.1,1319.0 L926.0,1320.0 L926.0,1321.0 L926.0,1322.0 L926.0,1323.0 L926.1,1324.0 L926.2,1325.0 L926.3,1326.0 L926.4,1327.0 L926.5,1328.0 L926.7,1329.0 L926.8,1330.0 L927.0,1331.0 L927.2,1332.0 L927.4,1333.0 L927.5,1334.0 L927.5,1335.0 L927.5,1336.0 L927.5,1337.0 L927.5,1338.0 L927.5,1339.0 L927.5,1340.0 L927.5,1341.0 L927.5,1342.0 L927.5,1343.0 L927.5,1344.0 L927.5,1345.0 L927.5,1346.0 L927.5,1347.0 L927.5,1348.0 L927.3,1349.0 L927.1,1350.0 L926.9,1351.0 L926.8,1352.0 L926.6,1353.0 L926.4,1354.0 L926.3,1355.0 L926.2,1356.0 L926.1,1357.0 L926.1,1358.0 L926.0,1359.0 L926.0,1360.0 L926.0,1361.0 L926.1,1362.0 L926.1,1363.0 L926.2,1364.0 L926.3,1365.0 L926.4,1366.0 L926.6,1367.0 L926.8,1368.0 L926.9,1369.0 L927.1,1370.0 L927.3,1371.0 L927.5,1372.0 L927.5,1373.0 L927.5,1374.0 L927.5,1375.0 L927.5,1376.0 L927.5,1377.0 L927.5,1378.0 L927.5,1379.0 L927.5,1380.0 L927.5,1381.0 L927.5,1382.0 L927.5,1383.0 L927.5,1384.0 L927.5,1385.0 L927.5,1386.0 L927.4,1387.0 L927.2,1388.0 L927.0,1389.0 L926.8,1390.0 L926.7,1391.0 L926.5,1392.0 L926.4,1393.0 L926.3,1394.0 L926.2,1395.0 L926.1,1396.0 L926.0,1397.0 L926.0,1398.0 L926.0,1399.0 L926.0,1400.0 L926.1,1401.0 L926.2,1402.0 L926.3,1403.0 L926.4,1404.0 L926.5,1405.0 L926.7,1406.0 L926.8,1407.0 L927.0,1408.0 L927.2,1409.0 L927.4,1410.0 L927.5,1411.0 L927.5,1412.0 L927.5,1413.0 L927.5,1414.0 L927.5,1415.0 L927.5,1416.0 L927.5,1417.0 L927.5,1418.0 L927.5,1419.0 L927.5,1420.0 L927.5,1421.0 L927.5,1422.0 L927.5,1423.0 L927.5,1424.0 L927.5,1425.0 L927.3,1426.0 L927.1,1427.0 L926.9,1428.0 L926.8,1429.0 L926.6,1430.0 L926.4,1431.0 L926.3,1432.0 L926.2,1433.0 L926.1,1434.0 L926.1,1435.0 L926.0,1436.0 L926.0,1437.0 L926.0,1438.0 L926.1,1439.0 L926.1,1440.0 L926.2,1441.0 L926.3,1442.0 L926.4,1443.0 L926.6,1444.0 L926.8,1445.0 L926.9,1446.0 L927.1,1447.0 L927.3,1448.0 L927.5,1449.0 L927.5,1450.0 L927.5,1451.0 L927.5,1452.0 L927.5,1453.0 L927.5,1454.0 L927.5,1455.0 L927.5,1456.0 L927.5,1457.0 L927.5,1458.0 L927.5,1459.0 L927.5,1460.0 L927.5,1461.0 L927.5,1462.0 L927.5,1463.0 L927.4,1464.0 L927.2,1465.0 L927.0,1466.0 L926.8,1467.0 L926.7,1468.0 L926.5,1469.0 L926.4,1470.0 L926.3,1471.0 L926.2,1472.0 L926.1,1473.0 L926.0,1474.0 L926.0,1475.0 L926.0,1476.0 L926.0,1477.0 L926.1,1478.0 L926.2,1479.0 L926.3,1480.0 L926.4,1481.0 L926.5,1482.0 L926.7,1483.0 L926.8,1484.0 L927.0,1485.0 L927.2,1486.0 L927.4,1487.0 L927.5,1488.0 L927.5,1489.0 L927.5,1490.0 L927.5,1491.0 L927.5,1492.0 L927.5,1493.0 L927.5,1494.0 L927.5,1495.0 L927.5,1496.0 L927.5,1497.0 L927.5,1498.0 L927.5,1499.0 L927.5,1500.0 L927.5,1501.0 L927.5,1502.0 L927.3,1503.0 L927.1,1504.0 L926.9,1505.0 L926.8,1506.0 L926.6,1507.0 L926.4,1508.0 L926.3,1509.0 L926.2,1510.0 L926.1,1511.0 L926.1,1512.0 L926.0,1513.0 L926.0,1514.0 L926.0,1515.0 L926.1,1516.0 L926.1,1517.0 L926.2,1518.0 L926.3,1519.0 L926.4,1520.0 L926.6,1521.0 L926.8,1522.0 L926.9,1523.0 L927.1,1524.0 L927.3,1525.0 L927.5,1526.0 L927.5,1527.0 L927.5,1528.0 L927.5,1529.0 L927.5,1530.0 L927.5,1531.0 L927.5,1532.0 L927.5,1533.0 L927.5,1534.0 L927.5,1535.0 L927.5,1536.0 L927.5,1537.0 L927.5,1538.0 L927.5,1539.0 L927.5,1540.0 L927.4,1541.0 L927.2,1542.0 L927.0,1543.0 L926.8,1544.0 L926.7,1545.0 L926.5,1546.0 L926.4,1547.0 L926.3,1548.0 L926.2,1549.0 L926.1,1550.0 L926.0,1551.0 L926.0,1552.0 L926.0,1553.0 L926.0,1554.0 L926.1,1555.0 L926.2,1556.0 L926.3,1557.0 L926.4,1558.0 L926.5,1559.0 L926.7,1560.0 L926.8,1561.0 L927.0,1562.0 L927.2,1563.0 L927.4,1564.0 L927.5,1565.0 L927.5,1566.0 L927.5,1567.0 L927.5,1568.0 L927.5,1569.0 L927.5,1570.0 L927.5,1571.0 L927.5,1572.0 L927.5,1573.0 L927.5,1574.0 L927.5,1575.0 L927.5,1576.0 L927.5,1577.0 L927.5,1578.0 L927.5,1579.0 L927.3,1580.0 L927.1,1581.0 L926.9,1582.0 L926.8,1583.0 L926.6,1584.0 L926.4,1585.0 L926.3,1586.0 L926.2,1587.0 L926.1,1588.0 L926.1,1589.0 L926.0,1590.0 L926.0,1591.0 L926.0,1592.0 L926.1,1593.0 L926.1,1594.0 L926.2,1595.0 L926.3,1596.0 L926.4,1597.0 L926.6,1598.0 L926.8,1599.0 L926.9,1600.0 L927.1,1601.0 L927.3,1602.0 L927.5,1603.0 L927.5,1604.0 L927.5,1605.0 L927.5,1606.0 L927.5,1607.0 L927.5,1608.0 L927.5,1609.0 L927.5,1610.0 L927.5,1611.0 L927.5,1612.0 L927.5,1613.0 L927.5,1614.0 L927.5,1615.0 L927.5,1616.0 L927.5,1617.0 L927.4,1618.0 L927.2,1619.0 L927.0,1620.0 L926.8,1621.0 L926.7,1622.0 L926.5,1623.0 L926.4,1624.0 L926.3,1625.0 L926.2,1626.0 L926.1,1627.0 L926.0,1628.0 L926.0,1629.0 L926.0,1630.0 L926.0,1631.0 L926.1,1632.0 L926.2,1633.0 L926.3,1634.0 L926.4,1635.0 L926.5,1636.0 L926.7,1637.0 L926.8,1638.0 L927.0,1639.0 L927.2,1640.0 L927.4,1641.0 L927.5,1642.0 L927.5,1643.0 L927.5,1644.0 L927.5,1645.0 L927.5,1646.0 L927.5,1647.0 L927.5,1648.0 L927.5,1649.0 L927.5,1650.0 L927.5,1651.0 L927.5,1652.0 L927.5,1653.0 L927.5,1654.0 L927.5,1655.0 L927.5,1656.0 L927.3,1657.0 L927.1,1658.0 L926.9,1659.0 L926.8,1660.0 L926.6,1661.0 L926.4,1662.0 L926.3,1663.0 L926.2,1664.0 L926.1,1665.0 L926.1,1666.0 L926.0,1667.0 L926.0,1668.0 L926.0,1669.0 L926.1,1670.0 L926.1,1671.0 L926.2,1672.0 L926.3,1673.0 L926.4,1674.0 L926.6,1675.0 L926.8,1676.0 L926.9,1677.0 L927.1,1678.0 L927.3,1679.0 L927.5,1680.0 L927.5,1681.0 L927.5,1682.0 L927.5,1683.0 L927.5,1684.0 L927.5,1685.0 L927.5,1686.0 L927.5,1687.0 L927.5,1688.0 L927.5,1689.0 L927.5,1690.0 L927.5,1691.0 L927.5,1692.0 L927.5,1693.0 L927.5,1694.0 L927.4,1695.0 L927.2,1696.0 L927.0,1697.0 L926.8,1698.0 L926.7,1699.0 L926.5,1700.0 L926.4,1701.0 L926.3,1702.0 L926.2,1703.0 L926.1,1704.0 L926.0,1705.0 L926.0,1706.0 L926.0,1707.0 L926.0,1708.0 L926.1,1709.0 L926.2,1710.0 L926.3,1711.0 L926.4,1712.0 L926.5,1713.0 L926.7,1714.0 L926.8,1715.0 L927.0,1716.0 L927.2,1717.0 L927.4,1718.0 L927.5,1719.0 L927.5,1720.0 L927.5,1721.0 L927.5,1722.0 L927.5,1723.0 L927.5,1724.0 L927.5,1725.0 L927.5,1726.0 L927.5,1727.0 L927.5,1728.0 L927.5,1729.0 L927.5,1730.0 L927.5,1731.0 L927.5,1732.0 L927.5,1733.0 L927.3,1734.0 L927.1,1735.0 L926.9,1736.0 L926.8,1737.0 L926.6,1738.0 L926.4,1739.0 L926.3,1740.0 L926.2,1741.0 L926.1,1742.0 L926.1,1743.0 L926.0,1744.0 L926.0,1745.0 L926.0,1746.0 L926.1,1747.0 L926.1,1748.0 L926.2,1749.0 L926.3,1750.0 L926.4,1751.0 L926.6,1752.0 L926.8,1753.0 L926.9,1754.0 L927.1,1755.0 L927.3,1756.0 L927.5,1757.0 L927.5,1758.0 L927.5,1759.0 L927.5,1760.0 L927.5,1761.0 L927.5,1762.0 L927.5,1763.0 L927.5,1764.0 L927.5,1765.0 L927.5,1766.0 L927.5,1767.0 L927.5,1768.0 L927.5,1769.0 L927.5,1770.0 L927.5,1771.0 L927.4,1772.0 L927.2,1773.0 L927.0,1774.0 L926.8,1775.0 L926.7,1776.0 L926.5,1777.0 L926.4,1778.0 L926.3,1779.0 L926.2,1780.0 L926.1,1781.0 L926.0,1782.0 L926.0,1783.0 L926.0,1784.0 L926.0,1785.0 L926.1,1786.0 L926.2,1787.0 L926.3,1788.0 L926.4,1789.0 L926.5,1790.0 L926.7,1791.0 L926.8,1792.0 L927.0,1793.0 L927.2,1794.0 L927.4,1795.0 L927.5,1796.0 L927.5,1797.0 L927.5,1798.0 L927.5,1799.0 L927.5,1800.0 L927.5,1801.0 L927.5,1802.0 L927.5,1803.0 L927.5,1804.0 L927.5,1805.0 L927.5,1806.0 L927.5,1807.0 L927.5,1808.0 L927.5,1809.0 L927.5,1810.0 L927.3,1811.0 L927.1,1812.0 L926.9,1813.0 L926.8,1814.0 L926.6,1815.0 L926.4,1816.0 L926.3,1817.0 L926.2,1818.0 L926.1,1819.0 L926.1,1820.0 L926.0,1821.0 L926.0,1822.0 L926.0,1823.0 L926.1,1824.0 L926.1,1825.0 L926.2,1826.0 L926.3,1827.0 L926.4,1828.0 L926.6,1829.0 L926.8,1830.0 L926.9,1831.0 L927.1,1832.0 L927.3,1833.0 L927.5,1834.0 L927.5,1835.0 L927.5,1836.0 L927.5,1837.0 L927.5,1838.0 L927.5,1839.0 L927.5,1840.0 L927.5,1841.0 L927.5,1842.0 L927.5,1843.0 L927.5,1844.0 L927.5,1845.0 L927.5,1846.0 L927.5,1847.0 L927.5,1848.0 L927.4,1849.0 L927.5,1980.0" fill="none" stroke="#000" stroke-width="7" />
<path d="M1005.0,1886.0 L1005.0,2034.0" fill="none" stroke="#000" stroke-width="6" />
<path d="M927.5,1980 Q927.5,1992 942,1997 L1005,2034 L1537,2011" fill="none" stroke="#000" stroke-width="6" />
<path d="M1532.0,850.0 L1536.0,2011.0" fill="none" stroke="#000" stroke-width="6" />
<path d="M190.7,519.1 L190.7,515.2 L190.8,511.2 L191.0,507.3 L191.2,503.3 L191.4,499.4 L191.8,495.5 L192.2,491.5 L192.6,487.6 L193.1,483.7 L193.7,479.8 L194.3,475.8 L195.0,471.9 L195.7,468.0 L196.5,464.1 L197.4,460.2 L198.3,456.3 L199.3,452.4 L200.3,448.5 L201.4,444.6 L202.6,440.7 L203.8,436.9 L205.1,433.0 L206.4,429.1 L207.8,425.3 L209.2,421.4 L210.7,417.6 L212.3,413.7 L213.9,409.9 L215.6,406.1 L217.3,402.3 L219.1,398.5 L221.0,394.7 L222.9,390.9 L224.9,387.2 L226.9,383.4 L229.0,379.6 L231.1,375.9 L233.3,372.2 L235.5,368.5 L237.8,364.7 L240.2,361.1 L242.6,357.4 L245.1,353.7 L247.6,350.0 L250.2,346.4 L252.8,342.8 L255.5,339.1 L258.3,335.5 L261.1,331.9 L263.9,328.4 L266.8,324.8 L269.8,321.3 L272.8,317.7 L275.9,314.2 L279.0,310.7 L282.2,307.2 L285.4,303.8 L288.7,300.3 L292.0,296.9 L295.4,293.4 L298.9,290.0 L302.4,286.7 L305.9,283.3 L309.5,279.9 L313.1,276.6 L316.8,273.3 L320.6,270.0 L324.3,266.7 L328.2,263.5 L332.1,260.2 L336.0,257.0 L340.0,253.8 L344.0,250.7 L348.1,247.5 L352.2,244.4 L356.4,241.3 L360.6,238.2 L364.9,235.1 L369.2,232.0 L373.6,229.0 L378.0,226.0 L382.4,223.0 L386.9,220.1 L391.5,217.1 L396.1,214.2 L400.7,211.3 L405.4,208.4 L410.1,205.6 L414.9,202.8 L419.7,200.0 L424.5,197.2 L429.4,194.5 L434.3,191.7 L439.3,189.0 L444.3,186.4 L449.3,183.7 L454.4,181.1 L459.6,178.5 L464.7,175.9 L469.9,173.4 L475.2,170.9 L480.5,168.4 L485.8,165.9 L491.1,163.5 L496.5,161.1 L502.0,158.7 L507.4,156.3 L512.9,154.0 L518.5,151.7 L524.0,149.4 L529.6,147.2 L535.3,145.0 L541.0,142.8 L546.7,140.6 L552.4,138.5 L558.2,136.4 L564.0,134.3 L569.8,132.3 L575.7,130.2 L581.5,128.3 L587.5,126.3 L593.4,124.4 L599.4,122.5 L605.4,120.6 L611.5,118.8 L617.5,117.0 L623.6,115.2 L629.7,113.5 L635.9,111.8 L642.0,110.1 L648.2,108.4 L654.5,106.8 L660.7,105.2 L667.0,103.7 L673.3,102.2 L679.6,100.7 L685.9,99.2 L692.3,97.8 L698.6,96.4 L705.0,95.0 L711.5,93.7 L717.9,92.4 L724.4,91.1 L730.8,89.9 L737.3,88.7 L743.9,87.5 L750.4,86.4 L756.9,85.3 L763.5,84.2 L770.1,83.2 L776.7,82.2 L783.3,81.2 L789.9,80.3 L796.6,79.4 L803.2,78.5 L809.9,77.7 L816.6,76.9 L823.2,76.1 L829.9,75.4 L836.7,74.7 L843.4,74.0 L850.1,73.4 L856.9,72.8 L863.6,72.2 L870.4,71.7 L877.1,71.2 L883.9,70.7 L890.7,70.3 L897.5,69.9 L904.3,69.5 L911.1,69.2 L917.9,68.9 L924.7,68.6 L931.5,68.4 L938.3,68.2 L945.1,68.1 L951.9,68.0 L958.8,67.9 L965.6,67.8 L972.4,67.8 L979.2,67.8 L986.0,67.9 L992.9,68.0 L999.7,68.1 L1006.5,68.2 L1013.3,68.4 L1020.1,68.6 L1026.9,68.9 L1033.7,69.2 L1040.5,69.5 L1047.3,69.9 L1054.1,70.3 L1060.9,70.7 L1067.7,71.2 L1074.4,71.7 L1081.2,72.2 L1087.9,72.8 L1094.7,73.4 L1101.4,74.0 L1108.1,74.7 L1114.9,75.4 L1121.6,76.1 L1128.2,76.9 L1134.9,77.7 L1141.6,78.5 L1148.2,79.4 L1154.9,80.3 L1161.5,81.2 L1168.1,82.2 L1174.7,83.2 L1181.3,84.2 L1187.9,85.3 L1194.4,86.4 L1200.9,87.5 L1207.5,88.7 L1214.0,89.9 L1220.4,91.1 L1226.9,92.4 L1233.3,93.7 L1239.8,95.0 L1246.2,96.4 L1252.5,97.8 L1258.9,99.2 L1265.2,100.7 L1271.5,102.2 L1277.8,103.7 L1284.1,105.2 L1290.3,106.8 L1296.6,108.4 L1302.8,110.1 L1308.9,111.8 L1315.1,113.5 L1321.2,115.2 L1327.3,117.0 L1333.3,118.8 L1339.4,120.6 L1345.4,122.5 L1351.4,124.4 L1357.3,126.3 L1363.2,128.3 L1369.1,130.2 L1375.0,132.3 L1380.8,134.3 L1386.6,136.4 L1392.4,138.5 L1398.1,140.6 L1403.8,142.8 L1409.5,145.0 L1415.2,147.2 L1420.8,149.4 L1426.3,151.7 L1431.9,154.0 L1437.4,156.3 L1442.8,158.7 L1448.3,161.1 L1453.7,163.5 L1459.0,165.9 L1464.3,168.4 L1469.6,170.9 L1474.9,173.4 L1480.1,175.9 L1485.2,178.5 L1490.4,181.1 L1495.5,183.7 L1500.5,186.4 L1505.5,189.0 L1510.5,191.7 L1515.4,194.5 L1520.3,197.2 L1525.1,200.0 L1529.9,202.8 L1534.7,205.6 L1539.4,208.4 L1544.1,211.3 L1548.7,214.2 L1553.3,217.1 L1557.9,220.1 L1562.4,223.0 L1566.8,226.0 L1571.2,229.0 L1575.6,232.0 L1579.9,235.1 L1584.2,238.2 L1588.4,241.3 L1592.6,244.4 L1596.7,247.5 L1600.8,250.7 L1604.8,253.8 L1608.8,257.0 L1612.7,260.2 L1616.6,263.5 L1620.5,266.7 L1624.2,270.0 L1628.0,273.3 L1631.7,276.6 L1635.3,279.9 L1638.9,283.3 L1642.4,286.7 L1645.9,290.0 L1649.4,293.4 L1652.8,296.9 L1656.1,300.3 L1659.4,303.8 L1662.6,307.2 L1665.8,310.7 L1668.9,314.2 L1672.0,317.7 L1675.0,321.3 L1678.0,324.8 L1680.9,328.4 L1683.7,331.9 L1686.5,335.5 L1689.3,339.1 L1692.0,342.8 L1694.6,346.4 L1697.2,350.0 L1699.7,353.7 L1702.2,357.4 L1704.6,361.1 L1707.0,364.7 L1709.3,368.5 L1711.5,372.2 L1713.7,375.9 L1715.8,379.6 L1717.9,383.4 L1719.9,387.2 L1721.9,390.9 L1723.8,394.7 L1725.7,398.5 L1727.5,402.3 L1729.2,406.1 L1730.9,409.9 L1732.5,413.7 L1734.1,417.6 L1735.6,421.4 L1737.0,425.3 L1738.4,429.1 L1739.7,433.0 L1741.0,436.9 L1742.2,440.7 L1743.4,444.6 L1744.5,448.5 L1745.5,452.4 L1746.5,456.3 L1747.4,460.2 L1748.3,464.1 L1749.1,468.0 L1749.8,471.9 L1750.5,475.8 L1751.1,479.8 L1751.7,483.7 L1752.2,487.6 L1752.6,491.5 L1753.0,495.5 L1753.4,499.4 L1753.6,503.3 L1753.8,507.3 L1754.0,511.2 L1754.1,515.2 L1754.1,519.1 L1754.1,540.1 L1754.1,544.0 L1754.0,548.0 L1753.8,551.9 L1753.6,555.9 L1753.4,559.8 L1753.0,563.7 L1752.6,567.7 L1752.2,571.6 L1751.7,575.5 L1751.1,579.4 L1750.5,583.4 L1749.8,587.3 L1749.1,591.2 L1748.3,595.1 L1747.4,599.0 L1746.5,602.9 L1745.5,606.8 L1744.5,610.7 L1743.4,614.6 L1742.2,618.5 L1741.0,622.3 L1739.7,626.2 L1738.4,630.1 L1737.0,633.9 L1735.6,637.8 L1734.1,641.6 L1732.5,645.5 L1730.9,649.3 L1729.2,653.1 L1727.5,656.9 L1725.7,660.7 L1723.8,664.5 L1721.9,668.3 L1719.9,672.0 L1717.9,675.8 L1715.8,679.6 L1713.7,683.3 L1711.5,687.0 L1709.3,690.7 L1707.0,694.5 L1704.6,698.1 L1702.2,701.8 L1699.7,705.5 L1697.2,709.2 L1694.6,712.8 L1692.0,716.4 L1689.3,720.1 L1686.5,723.7 L1683.7,727.3 L1680.9,730.8 L1678.0,734.4 L1675.0,737.9 L1672.0,741.5 L1668.9,745.0 L1665.8,748.5 L1662.6,752.0 L1659.4,755.4 L1656.1,758.9 L1652.8,762.3 L1649.4,765.8 L1645.9,769.2 L1642.4,772.5 L1638.9,775.9 L1635.3,779.3 L1631.7,782.6 L1628.0,785.9 L1624.2,789.2 L1620.5,792.5 L1616.6,795.7 L1612.7,799.0 L1608.8,802.2 L1604.8,805.4 L1600.8,808.5 L1596.7,811.7 L1592.6,814.8 L1588.4,817.9 L1584.2,821.0 L1579.9,824.1 L1575.6,827.2 L1571.2,830.2 L1566.8,833.2 L1562.4,836.2 L1557.9,839.1 L1553.3,842.1 L1548.7,845.0 L1544.1,847.9 L1539.4,850.8 L1534.7,853.6 L1529.9,856.4 L1525.1,859.2 L1520.3,862.0 L1515.4,864.7 L1510.5,867.5 L1505.5,870.2 L1500.5,872.8 L1495.5,875.5 L1490.4,878.1 L1485.2,880.7 L1480.1,883.3 L1474.9,885.8 L1469.6,888.3 L1464.3,890.8 L1459.0,893.3 L1453.7,895.7 L1448.3,898.1 L1442.8,900.5 L1437.4,902.9 L1431.9,905.2 L1426.3,907.5 L1420.8,909.8 L1415.2,912.0 L1409.5,914.2 L1403.8,916.4 L1398.1,918.6 L1392.4,920.7 L1386.6,922.8 L1380.8,924.9 L1375.0,926.9 L1369.1,929.0 L1363.2,930.9 L1357.3,932.9 L1351.4,934.8 L1345.4,936.7 L1339.4,938.6 L1333.3,940.4 L1327.3,942.2 L1321.2,944.0 L1315.1,945.7 L1308.9,947.4 L1302.8,949.1 L1296.6,950.8 L1290.3,952.4 L1284.1,954.0 L1277.8,955.5 L1271.5,957.0 L1265.2,958.5 L1258.9,960.0 L1252.5,961.4 L1246.2,962.8 L1239.8,964.2 L1233.3,965.5 L1226.9,966.8 L1220.4,968.1 L1214.0,969.3 L1207.5,970.5 L1200.9,971.7 L1194.4,972.8 L1187.9,973.9 L1181.3,975.0 L1174.7,976.0 L1168.1,977.0 L1161.5,978.0 L1154.9,978.9 L1148.2,979.8 L1141.6,980.7 L1134.9,981.5 L1128.2,982.3 L1121.6,983.1 L1114.9,983.8 L1108.1,984.5 L1101.4,985.2 L1094.7,985.8 L1087.9,986.4 L1081.2,987.0 L1074.4,987.5 L1067.7,988.0 L1060.9,988.5 L1054.1,988.9 L1047.3,989.3 L1040.5,989.7 L1033.7,990.0 L1026.9,990.3 L1020.1,990.6 L1013.3,990.8 L1006.5,991.0 L999.7,991.1 L992.9,991.2 L986.0,991.3 L979.2,991.4 L972.4,991.4 L965.6,991.4 L958.8,991.3 L951.9,991.2 L945.1,991.1 L938.3,991.0 L931.5,990.8 L924.7,990.6 L917.9,990.3 L911.1,990.0 L904.3,989.7 L897.5,989.3 L890.7,988.9 L883.9,988.5 L877.1,988.0 L870.4,987.5 L863.6,987.0 L856.9,986.4 L850.1,985.8 L843.4,985.2 L836.7,984.5 L829.9,983.8 L823.2,983.1 L816.6,982.3 L809.9,981.5 L803.2,980.7 L796.6,979.8 L789.9,978.9 L783.3,978.0 L776.7,977.0 L770.1,976.0 L763.5,975.0 L756.9,973.9 L750.4,972.8 L743.9,971.7 L737.3,970.5 L730.8,969.3 L724.4,968.1 L717.9,966.8 L711.5,965.5 L705.0,964.2 L698.6,962.8 L692.3,961.4 L685.9,960.0 L679.6,958.5 L673.3,957.0 L667.0,955.5 L660.7,954.0 L654.5,952.4 L648.2,950.8 L642.0,949.1 L635.9,947.4 L629.7,945.7 L623.6,944.0 L617.5,942.2 L611.5,940.4 L605.4,938.6 L599.4,936.7 L593.4,934.8 L587.5,932.9 L581.6,930.9 L575.7,929.0 L569.8,926.9 L564.0,924.9 L558.2,922.8 L552.4,920.7 L546.7,918.6 L541.0,916.4 L535.3,914.2 L529.6,912.0 L524.0,909.8 L518.5,907.5 L512.9,905.2 L507.4,902.9 L502.0,900.5 L496.5,898.1 L491.1,895.7 L485.8,893.3 L480.5,890.8 L475.2,888.3 L469.9,885.8 L464.7,883.3 L459.6,880.7 L454.4,878.1 L449.3,875.5 L444.3,872.8 L439.3,870.2 L434.3,867.5 L429.4,864.7 L424.5,862.0 L419.7,859.2 L414.9,856.4 L410.1,853.6 L405.4,850.8 L400.7,847.9 L396.1,845.0 L391.5,842.1 L386.9,839.1 L382.4,836.2 L378.0,833.2 L373.6,830.2 L369.2,827.2 L364.9,824.1 L360.6,821.0 L356.4,817.9 L352.2,814.8 L348.1,811.7 L344.0,808.5 L340.0,805.4 L336.0,802.2 L332.1,799.0 L328.2,795.7 L324.3,792.5 L320.6,789.2 L316.8,785.9 L313.1,782.6 L309.5,779.3 L305.9,775.9 L302.4,772.5 L298.9,769.2 L295.4,765.8 L292.0,762.3 L288.7,758.9 L285.4,755.4 L282.2,752.0 L279.0,748.5 L275.9,745.0 L272.8,741.5 L269.8,737.9 L266.8,734.4 L263.9,730.8 L261.1,727.3 L258.3,723.7 L255.5,720.1 L252.8,716.4 L250.2,712.8 L247.6,709.2 L245.1,705.5 L242.6,701.8 L240.2,698.1 L237.8,694.5 L235.5,690.7 L233.3,687.0 L231.1,683.3 L229.0,679.6 L226.9,675.8 L224.9,672.0 L222.9,668.3 L221.0,664.5 L219.1,660.7 L217.3,656.9 L215.6,653.1 L213.9,649.3 L212.3,645.5 L210.7,641.6 L209.2,637.8 L207.8,633.9 L206.4,630.1 L205.1,626.2 L203.8,622.3 L202.6,618.5 L201.4,614.6 L200.3,610.7 L199.3,606.8 L198.3,602.9 L197.4,599.0 L196.5,595.1 L195.7,591.2 L195.0,587.3 L194.3,583.4 L193.7,579.4 L193.1,575.5 L192.6,571.6 L192.2,567.7 L191.8,563.7 L191.4,559.8 L191.2,555.9 L191.0,551.9 L190.8,548.0 L190.7,544.0 L190.7,540.1Z" fill="#fff" stroke="none" stroke-width="0" />
<path d="M1754.1,519.1 L1754.1,523.0 L1754.0,527.0 L1753.8,530.9 L1753.6,534.9 L1753.4,538.8 L1753.0,542.7 L1752.6,546.7 L1752.2,550.6 L1751.7,554.5 L1751.1,558.4 L1750.5,562.4 L1749.8,566.3 L1749.1,570.2 L1748.3,574.1 L1747.4,578.0 L1746.5,581.9 L1745.5,585.8 L1744.5,589.7 L1743.4,593.6 L1742.2,597.5 L1741.0,601.3 L1739.7,605.2 L1738.4,609.1 L1737.0,612.9 L1735.6,616.8 L1734.1,620.6 L1732.5,624.5 L1730.9,628.3 L1729.2,632.1 L1727.5,635.9 L1725.7,639.7 L1723.8,643.5 L1721.9,647.3 L1719.9,651.0 L1717.9,654.8 L1715.8,658.6 L1713.7,662.3 L1711.5,666.0 L1709.3,669.7 L1707.0,673.5 L1704.6,677.1 L1702.2,680.8 L1699.7,684.5 L1697.2,688.2 L1694.6,691.8 L1692.0,695.4 L1689.3,699.1 L1686.5,702.7 L1683.7,706.3 L1680.9,709.8 L1678.0,713.4 L1675.0,716.9 L1672.0,720.5 L1668.9,724.0 L1665.8,727.5 L1662.6,731.0 L1659.4,734.4 L1656.1,737.9 L1652.8,741.3 L1649.4,744.8 L1645.9,748.2 L1642.4,751.5 L1638.9,754.9 L1635.3,758.3 L1631.7,761.6 L1628.0,764.9 L1624.2,768.2 L1620.5,771.5 L1616.6,774.7 L1612.7,778.0 L1608.8,781.2 L1604.8,784.4 L1600.8,787.5 L1596.7,790.7 L1592.6,793.8 L1588.4,796.9 L1584.2,800.0 L1579.9,803.1 L1575.6,806.2 L1571.2,809.2 L1566.8,812.2 L1562.4,815.2 L1557.9,818.1 L1553.3,821.1 L1548.7,824.0 L1544.1,826.9 L1539.4,829.8 L1534.7,832.6 L1529.9,835.4 L1525.1,838.2 L1520.3,841.0 L1515.4,843.7 L1510.5,846.5 L1505.5,849.2 L1500.5,851.8 L1495.5,854.5 L1490.4,857.1 L1485.2,859.7 L1480.1,862.3 L1474.9,864.8 L1469.6,867.3 L1464.3,869.8 L1459.0,872.3 L1453.7,874.7 L1448.3,877.1 L1442.8,879.5 L1437.4,881.9 L1431.9,884.2 L1426.3,886.5 L1420.8,888.8 L1415.2,891.0 L1409.5,893.2 L1403.8,895.4 L1398.1,897.6 L1392.4,899.7 L1386.6,901.8 L1380.8,903.9 L1375.0,905.9 L1369.1,908.0 L1363.2,909.9 L1357.3,911.9 L1351.4,913.8 L1345.4,915.7 L1339.4,917.6 L1333.3,919.4 L1327.3,921.2 L1321.2,923.0 L1315.1,924.7 L1308.9,926.4 L1302.8,928.1 L1296.6,929.8 L1290.3,931.4 L1284.1,933.0 L1277.8,934.5 L1271.5,936.0 L1265.2,937.5 L1258.9,939.0 L1252.5,940.4 L1246.2,941.8 L1239.8,943.2 L1233.3,944.5 L1226.9,945.8 L1220.4,947.1 L1214.0,948.3 L1207.5,949.5 L1200.9,950.7 L1194.4,951.8 L1187.9,952.9 L1181.3,954.0 L1174.7,955.0 L1168.1,956.0 L1161.5,957.0 L1154.9,957.9 L1148.2,958.8 L1141.6,959.7 L1134.9,960.5 L1128.2,961.3 L1121.6,962.1 L1114.9,962.8 L1108.1,963.5 L1101.4,964.2 L1094.7,964.8 L1087.9,965.4 L1081.2,966.0 L1074.4,966.5 L1067.7,967.0 L1060.9,967.5 L1054.1,967.9 L1047.3,968.3 L1040.5,968.7 L1033.7,969.0 L1026.9,969.3 L1020.1,969.6 L1013.3,969.8 L1006.5,970.0 L999.7,970.1 L992.9,970.2 L986.0,970.3 L979.2,970.4 L972.4,970.4 L965.6,970.4 L958.8,970.3 L951.9,970.2 L945.1,970.1 L938.3,970.0 L931.5,969.8 L924.7,969.6 L917.9,969.3 L911.1,969.0 L904.3,968.7 L897.5,968.3 L890.7,967.9 L883.9,967.5 L877.1,967.0 L870.4,966.5 L863.6,966.0 L856.9,965.4 L850.1,964.8 L843.4,964.2 L836.7,963.5 L829.9,962.8 L823.2,962.1 L816.6,961.3 L809.9,960.5 L803.2,959.7 L796.6,958.8 L789.9,957.9 L783.3,957.0 L776.7,956.0 L770.1,955.0 L763.5,954.0 L756.9,952.9 L750.4,951.8 L743.9,950.7 L737.3,949.5 L730.8,948.3 L724.4,947.1 L717.9,945.8 L711.5,944.5 L705.0,943.2 L698.6,941.8 L692.3,940.4 L685.9,939.0 L679.6,937.5 L673.3,936.0 L667.0,934.5 L660.7,933.0 L654.5,931.4 L648.2,929.8 L642.0,928.1 L635.9,926.4 L629.7,924.7 L623.6,923.0 L617.5,921.2 L611.5,919.4 L605.4,917.6 L599.4,915.7 L593.4,913.8 L587.5,911.9 L581.6,909.9 L575.7,908.0 L569.8,905.9 L564.0,903.9 L558.2,901.8 L552.4,899.7 L546.7,897.6 L541.0,895.4 L535.3,893.2 L529.6,891.0 L524.0,888.8 L518.5,886.5 L512.9,884.2 L507.4,881.9 L502.0,879.5 L496.5,877.1 L491.1,874.7 L485.8,872.3 L480.5,869.8 L475.2,867.3 L469.9,864.8 L464.7,862.3 L459.6,859.7 L454.4,857.1 L449.3,854.5 L444.3,851.8 L439.3,849.2 L434.3,846.5 L429.4,843.7 L424.5,841.0 L419.7,838.2 L414.9,835.4 L410.1,832.6 L405.4,829.8 L400.7,826.9 L396.1,824.0 L391.5,821.1 L386.9,818.1 L382.4,815.2 L378.0,812.2 L373.6,809.2 L369.2,806.2 L364.9,803.1 L360.6,800.0 L356.4,796.9 L352.2,793.8 L348.1,790.7 L344.0,787.5 L340.0,784.4 L336.0,781.2 L332.1,778.0 L328.2,774.7 L324.3,771.5 L320.6,768.2 L316.8,764.9 L313.1,761.6 L309.5,758.3 L305.9,754.9 L302.4,751.5 L298.9,748.2 L295.4,744.8 L292.0,741.3 L288.7,737.9 L285.4,734.4 L282.2,731.0 L279.0,727.5 L275.9,724.0 L272.8,720.5 L269.8,716.9 L266.8,713.4 L263.9,709.8 L261.1,706.3 L258.3,702.7 L255.5,699.1 L252.8,695.4 L250.2,691.8 L247.6,688.2 L245.1,684.5 L242.6,680.8 L240.2,677.1 L237.8,673.5 L235.5,669.7 L233.3,666.0 L231.1,662.3 L229.0,658.6 L226.9,654.8 L224.9,651.0 L222.9,647.3 L221.0,643.5 L219.1,639.7 L217.3,635.9 L215.6,632.1 L213.9,628.3 L212.3,624.5 L210.7,620.6 L209.2,616.8 L207.8,612.9 L206.4,609.1 L205.1,605.2 L203.8,601.3 L202.6,597.5 L201.4,593.6 L200.3,589.7 L199.3,585.8 L198.3,581.9 L197.4,578.0 L196.5,574.1 L195.7,570.2 L195.0,566.3 L194.3,562.4 L193.7,558.4 L193.1,554.5 L192.6,550.6 L192.2,546.7 L191.8,542.7 L191.4,538.8 L191.2,534.9 L191.0,530.9 L190.8,527.0 L190.7,523.0 L190.7,519.1 L190.7,515.2 L190.8,511.2 L191.0,507.3 L191.2,503.3 L191.4,499.4 L191.8,495.5 L192.2,491.5 L192.6,487.6 L193.1,483.7 L193.7,479.8 L194.3,475.8 L195.0,471.9 L195.7,468.0 L196.5,464.1 L197.4,460.2 L198.3,456.3 L199.3,452.4 L200.3,448.5 L201.4,444.6 L202.6,440.7 L203.8,436.9 L205.1,433.0 L206.4,429.1 L207.8,425.3 L209.2,421.4 L210.7,417.6 L212.3,413.7 L213.9,409.9 L215.6,406.1 L217.3,402.3 L219.1,398.5 L221.0,394.7 L222.9,390.9 L224.9,387.2 L226.9,383.4 L229.0,379.6 L231.1,375.9 L233.3,372.2 L235.5,368.5 L237.8,364.7 L240.2,361.1 L242.6,357.4 L245.1,353.7 L247.6,350.0 L250.2,346.4 L252.8,342.8 L255.5,339.1 L258.3,335.5 L261.1,331.9 L263.9,328.4 L266.8,324.8 L269.8,321.3 L272.8,317.7 L275.9,314.2 L279.0,310.7 L282.2,307.2 L285.4,303.8 L288.7,300.3 L292.0,296.9 L295.4,293.4 L298.9,290.0 L302.4,286.7 L305.9,283.3 L309.5,279.9 L313.1,276.6 L316.8,273.3 L320.6,270.0 L324.3,266.7 L328.2,263.5 L332.1,260.2 L336.0,257.0 L340.0,253.8 L344.0,250.7 L348.1,247.5 L352.2,244.4 L356.4,241.3 L360.6,238.2 L364.9,235.1 L369.2,232.0 L373.6,229.0 L378.0,226.0 L382.4,223.0 L386.9,220.1 L391.5,217.1 L396.1,214.2 L400.7,211.3 L405.4,208.4 L410.1,205.6 L414.9,202.8 L419.7,200.0 L424.5,197.2 L429.4,194.5 L434.3,191.7 L439.3,189.0 L444.3,186.4 L449.3,183.7 L454.4,181.1 L459.6,178.5 L464.7,175.9 L469.9,173.4 L475.2,170.9 L480.5,168.4 L485.8,165.9 L491.1,163.5 L496.5,161.1 L502.0,158.7 L507.4,156.3 L512.9,154.0 L518.5,151.7 L524.0,149.4 L529.6,147.2 L535.3,145.0 L541.0,142.8 L546.7,140.6 L552.4,138.5 L558.2,136.4 L564.0,134.3 L569.8,132.3 L575.7,130.2 L581.5,128.3 L587.5,126.3 L593.4,124.4 L599.4,122.5 L605.4,120.6 L611.5,118.8 L617.5,117.0 L623.6,115.2 L629.7,113.5 L635.9,111.8 L642.0,110.1 L648.2,108.4 L654.5,106.8 L660.7,105.2 L667.0,103.7 L673.3,102.2 L679.6,100.7 L685.9,99.2 L692.3,97.8 L698.6,96.4 L705.0,95.0 L711.5,93.7 L717.9,92.4 L724.4,91.1 L730.8,89.9 L737.3,88.7 L743.9,87.5 L750.4,86.4 L756.9,85.3 L763.5,84.2 L770.1,83.2 L776.7,82.2 L783.3,81.2 L789.9,80.3 L796.6,79.4 L803.2,78.5 L809.9,77.7 L816.6,76.9 L823.2,76.1 L829.9,75.4 L836.7,74.7 L843.4,74.0 L850.1,73.4 L856.9,72.8 L863.6,72.2 L870.4,71.7 L877.1,71.2 L883.9,70.7 L890.7,70.3 L897.5,69.9 L904.3,69.5 L911.1,69.2 L917.9,68.9 L924.7,68.6 L931.5,68.4 L938.3,68.2 L945.1,68.1 L951.9,68.0 L958.8,67.9 L965.6,67.8 L972.4,67.8 L979.2,67.8 L986.0,67.9 L992.9,68.0 L999.7,68.1 L1006.5,68.2 L1013.3,68.4 L1020.1,68.6 L1026.9,68.9 L1033.7,69.2 L1040.5,69.5 L1047.3,69.9 L1054.1,70.3 L1060.9,70.7 L1067.7,71.2 L1074.4,71.7 L1081.2,72.2 L1087.9,72.8 L1094.7,73.4 L1101.4,74.0 L1108.1,74.7 L1114.9,75.4 L1121.6,76.1 L1128.2,76.9 L1134.9,77.7 L1141.6,78.5 L1148.2,79.4 L1154.9,80.3 L1161.5,81.2 L1168.1,82.2 L1174.7,83.2 L1181.3,84.2 L1187.9,85.3 L1194.4,86.4 L1200.9,87.5 L1207.5,88.7 L1214.0,89.9 L1220.4,91.1 L1226.9,92.4 L1233.3,93.7 L1239.8,95.0 L1246.2,96.4 L1252.5,97.8 L1258.9,99.2 L1265.2,100.7 L1271.5,102.2 L1277.8,103.7 L1284.1,105.2 L1290.3,106.8 L1296.6,108.4 L1302.8,110.1 L1308.9,111.8 L1315.1,113.5 L1321.2,115.2 L1327.3,117.0 L1333.3,118.8 L1339.4,120.6 L1345.4,122.5 L1351.4,124.4 L1357.3,126.3 L1363.2,128.3 L1369.1,130.2 L1375.0,132.3 L1380.8,134.3 L1386.6,136.4 L1392.4,138.5 L1398.1,140.6 L1403.8,142.8 L1409.5,145.0 L1415.2,147.2 L1420.8,149.4 L1426.3,151.7 L1431.9,154.0 L1437.4,156.3 L1442.8,158.7 L1448.3,161.1 L1453.7,163.5 L1459.0,165.9 L1464.3,168.4 L1469.6,170.9 L1474.9,173.4 L1480.1,175.9 L1485.2,178.5 L1490.4,181.1 L1495.5,183.7 L1500.5,186.4 L1505.5,189.0 L1510.5,191.7 L1515.4,194.5 L1520.3,197.2 L1525.1,200.0 L1529.9,202.8 L1534.7,205.6 L1539.4,208.4 L1544.1,211.3 L1548.7,214.2 L1553.3,217.1 L1557.9,220.1 L1562.4,223.0 L1566.8,226.0 L1571.2,229.0 L1575.6,232.0 L1579.9,235.1 L1584.2,238.2 L1588.4,241.3 L1592.6,244.4 L1596.7,247.5 L1600.8,250.7 L1604.8,253.8 L1608.8,257.0 L1612.7,260.2 L1616.6,263.5 L1620.5,266.7 L1624.2,270.0 L1628.0,273.3 L1631.7,276.6 L1635.3,279.9 L1638.9,283.3 L1642.4,286.7 L1645.9,290.0 L1649.4,293.4 L1652.8,296.9 L1656.1,300.3 L1659.4,303.8 L1662.6,307.2 L1665.8,310.7 L1668.9,314.2 L1672.0,317.7 L1675.0,321.3 L1678.0,324.8 L1680.9,328.4 L1683.7,331.9 L1686.5,335.5 L1689.3,339.1 L1692.0,342.8 L1694.6,346.4 L1697.2,350.0 L1699.7,353.7 L1702.2,357.4 L1704.6,361.1 L1707.0,364.7 L1709.3,368.5 L1711.5,372.2 L1713.7,375.9 L1715.8,379.6 L1717.9,383.4 L1719.9,387.2 L1721.9,390.9 L1723.8,394.7 L1725.7,398.5 L1727.5,402.3 L1729.2,406.1 L1730.9,409.9 L1732.5,413.7 L1734.1,417.6 L1735.6,421.4 L1737.0,425.3 L1738.4,429.1 L1739.7,433.0 L1741.0,436.9 L1742.2,440.7 L1743.4,444.6 L1744.5,448.5 L1745.5,452.4 L1746.5,456.3 L1747.4,460.2 L1748.3,464.1 L1749.1,468.0 L1749.8,471.9 L1750.5,475.8 L1751.1,479.8 L1751.7,483.7 L1752.2,487.6 L1752.6,491.5 L1753.0,495.5 L1753.4,499.4 L1753.6,503.3 L1753.8,507.3 L1754.0,511.2 L1754.1,515.2 L1754.1,519.1Z" fill="none" stroke="#000" stroke-width="6" />
<path d="M1754.1,540.1 L1754.1,544.0 L1754.0,548.0 L1753.8,551.9 L1753.6,555.9 L1753.4,559.8 L1753.0,563.7 L1752.6,567.7 L1752.2,571.6 L1751.7,575.5 L1751.1,579.4 L1750.5,583.4 L1749.8,587.3 L1749.1,591.2 L1748.3,595.1 L1747.4,599.0 L1746.5,602.9 L1745.5,606.8 L1744.5,610.7 L1743.4,614.6 L1742.2,618.5 L1741.0,622.3 L1739.7,626.2 L1738.4,630.1 L1737.0,633.9 L1735.6,637.8 L1734.1,641.6 L1732.5,645.5 L1730.9,649.3 L1729.2,653.1 L1727.5,656.9 L1725.7,660.7 L1723.8,664.5 L1721.9,668.3 L1719.9,672.0 L1717.9,675.8 L1715.8,679.6 L1713.7,683.3 L1711.5,687.0 L1709.3,690.7 L1707.0,694.5 L1704.6,698.1 L1702.2,701.8 L1699.7,705.5 L1697.2,709.2 L1694.6,712.8 L1692.0,716.4 L1689.3,720.1 L1686.5,723.7 L1683.7,727.3 L1680.9,730.8 L1678.0,734.4 L1675.0,737.9 L1672.0,741.5 L1668.9,745.0 L1665.8,748.5 L1662.6,752.0 L1659.4,755.4 L1656.1,758.9 L1652.8,762.3 L1649.4,765.8 L1645.9,769.2 L1642.4,772.5 L1638.9,775.9 L1635.3,779.3 L1631.7,782.6 L1628.0,785.9 L1624.2,789.2 L1620.5,792.5 L1616.6,795.7 L1612.7,799.0 L1608.8,802.2 L1604.8,805.4 L1600.8,808.5 L1596.7,811.7 L1592.6,814.8 L1588.4,817.9 L1584.2,821.0 L1579.9,824.1 L1575.6,827.2 L1571.2,830.2 L1566.8,833.2 L1562.4,836.2 L1557.9,839.1 L1553.3,842.1 L1548.7,845.0 L1544.1,847.9 L1539.4,850.8 L1534.7,853.6 L1529.9,856.4 L1525.1,859.2 L1520.3,862.0 L1515.4,864.7 L1510.5,867.5 L1505.5,870.2 L1500.5,872.8 L1495.5,875.5 L1490.4,878.1 L1485.2,880.7 L1480.1,883.3 L1474.9,885.8 L1469.6,888.3 L1464.3,890.8 L1459.0,893.3 L1453.7,895.7 L1448.3,898.1 L1442.8,900.5 L1437.4,902.9 L1431.9,905.2 L1426.3,907.5 L1420.8,909.8 L1415.2,912.0 L1409.5,914.2 L1403.8,916.4 L1398.1,918.6 L1392.4,920.7 L1386.6,922.8 L1380.8,924.9 L1375.0,926.9 L1369.1,929.0 L1363.2,930.9 L1357.3,932.9 L1351.4,934.8 L1345.4,936.7 L1339.4,938.6 L1333.3,940.4 L1327.3,942.2 L1321.2,944.0 L1315.1,945.7 L1308.9,947.4 L1302.8,949.1 L1296.6,950.8 L1290.3,952.4 L1284.1,954.0 L1277.8,955.5 L1271.5,957.0 L1265.2,958.5 L1258.9,960.0 L1252.5,961.4 L1246.2,962.8 L1239.8,964.2 L1233.3,965.5 L1226.9,966.8 L1220.4,968.1 L1214.0,969.3 L1207.5,970.5 L1200.9,971.7 L1194.4,972.8 L1187.9,973.9 L1181.3,975.0 L1174.7,976.0 L1168.1,977.0 L1161.5,978.0 L1154.9,978.9 L1148.2,979.8 L1141.6,980.7 L1134.9,981.5 L1128.2,982.3 L1121.6,983.1 L1114.9,983.8 L1108.1,984.5 L1101.4,985.2 L1094.7,985.8 L1087.9,986.4 L1081.2,987.0 L1074.4,987.5 L1067.7,988.0 L1060.9,988.5 L1054.1,988.9 L1047.3,989.3 L1040.5,989.7 L1033.7,990.0 L1026.9,990.3 L1020.1,990.6 L1013.3,990.8 L1006.5,991.0 L999.7,991.1 L992.9,991.2 L986.0,991.3 L979.2,991.4 L972.4,991.4 L965.6,991.4 L958.8,991.3 L951.9,991.2 L945.1,991.1 L938.3,991.0 L931.5,990.8 L924.7,990.6 L917.9,990.3 L911.1,990.0 L904.3,989.7 L897.5,989.3 L890.7,988.9 L883.9,988.5 L877.1,988.0 L870.4,987.5 L863.6,987.0 L856.9,986.4 L850.1,985.8 L843.4,985.2 L836.7,984.5 L829.9,983.8 L823.2,983.1 L816.6,982.3 L809.9,981.5 L803.2,980.7 L796.6,979.8 L789.9,978.9 L783.3,978.0 L776.7,977.0 L770.1,976.0 L763.5,975.0 L756.9,973.9 L750.4,972.8 L743.9,971.7 L737.3,970.5 L730.8,969.3 L724.4,968.1 L717.9,966.8 L711.5,965.5 L705.0,964.2 L698.6,962.8 L692.3,961.4 L685.9,960.0 L679.6,958.5 L673.3,957.0 L667.0,955.5 L660.7,954.0 L654.5,952.4 L648.2,950.8 L642.0,949.1 L635.9,947.4 L629.7,945.7 L623.6,944.0 L617.5,942.2 L611.5,940.4 L605.4,938.6 L599.4,936.7 L593.4,934.8 L587.5,932.9 L581.6,930.9 L575.7,929.0 L569.8,926.9 L564.0,924.9 L558.2,922.8 L552.4,920.7 L546.7,918.6 L541.0,916.4 L535.3,914.2 L529.6,912.0 L524.0,909.8 L518.5,907.5 L512.9,905.2 L507.4,902.9 L502.0,900.5 L496.5,898.1 L491.1,895.7 L485.8,893.3 L480.5,890.8 L475.2,888.3 L469.9,885.8 L464.7,883.3 L459.6,880.7 L454.4,878.1 L449.3,875.5 L444.3,872.8 L439.3,870.2 L434.3,867.5 L429.4,864.7 L424.5,862.0 L419.7,859.2 L414.9,856.4 L410.1,853.6 L405.4,850.8 L400.7,847.9 L396.1,845.0 L391.5,842.1 L386.9,839.1 L382.4,836.2 L378.0,833.2 L373.6,830.2 L369.2,827.2 L364.9,824.1 L360.6,821.0 L356.4,817.9 L352.2,814.8 L348.1,811.7 L344.0,808.5 L340.0,805.4 L336.0,802.2 L332.1,799.0 L328.2,795.7 L324.3,792.5 L320.6,789.2 L316.8,785.9 L313.1,782.6 L309.5,779.3 L305.9,775.9 L302.4,772.5 L298.9,769.2 L295.4,765.8 L292.0,762.3 L288.7,758.9 L285.4,755.4 L282.2,752.0 L279.0,748.5 L275.9,745.0 L272.8,741.5 L269.8,737.9 L266.8,734.4 L263.9,730.8 L261.1,727.3 L258.3,723.7 L255.5,720.1 L252.8,716.4 L250.2,712.8 L247.6,709.2 L245.1,705.5 L242.6,701.8 L240.2,698.1 L237.8,694.5 L235.5,690.7 L233.3,687.0 L231.1,683.3 L229.0,679.6 L226.9,675.8 L224.9,672.0 L222.9,668.3 L221.0,664.5 L219.1,660.7 L217.3,656.9 L215.6,653.1 L213.9,649.3 L212.3,645.5 L210.7,641.6 L209.2,637.8 L207.8,633.9 L206.4,630.1 L205.1,626.2 L203.8,622.3 L202.6,618.5 L201.4,614.6 L200.3,610.7 L199.3,606.8 L198.3,602.9 L197.4,599.0 L196.5,595.1 L195.7,591.2 L195.0,587.3 L194.3,583.4 L193.7,579.4 L193.1,575.5 L192.6,571.6 L192.2,567.7 L191.8,563.7 L191.4,559.8 L191.2,555.9 L191.0,551.9 L190.8,548.0 L190.7,544.0 L190.7,540.1" fill="none" stroke="#000" stroke-width="7" />
<text x="192.5" y="107.0" font-size="77" text-anchor="middle" stroke="#000" stroke-width="1.8" font-family="Liberation Sans, sans-serif">20</text>
<text x="1672.0" y="181.0" font-size="77" text-anchor="middle" stroke="#000" stroke-width="1.8" font-family="Liberation Sans, sans-serif">26</text>
<text x="188.0" y="1037.0" font-size="77" text-anchor="middle" stroke="#000" stroke-width="1.8" font-family="Liberation Sans, sans-serif">22</text>
<text x="1917.0" y="1071.0" font-size="77" text-anchor="middle" stroke="#000" stroke-width="1.8" font-family="Liberation Sans, sans-serif">22</text>
<text x="1418.5" y="766.0" font-size="77" text-anchor="middle" stroke="#000" stroke-width="1.8" font-family="Liberation Sans, sans-serif">42</text>
<text x="1831.5" y="1243.0" font-size="77" text-anchor="middle" stroke="#000" stroke-width="1.8" font-family="Liberation Sans, sans-serif">42</text>
<text x="217.0" y="1299.0" font-size="77" text-anchor="middle" stroke="#000" stroke-width="1.8" font-family="Liberation Sans, sans-serif">44</text>
<text x="1847.0" y="1457.0" font-size="77" text-anchor="middle" stroke="#000" stroke-width="1.8" font-family="Liberation Sans, sans-serif">46</text>
<text x="795.0" y="1553.0" font-size="77" text-anchor="middle" stroke="#000" stroke-width="1.8" font-family="Liberation Sans, sans-serif">50</text>
<text x="1849.0" y="1608.0" font-size="77" text-anchor="middle" stroke="#000" stroke-width="1.8" font-family="Liberation Sans, sans-serif">37</text>
<text x="660.0" y="1667.0" font-size="77" text-anchor="middle" stroke="#000" stroke-width="1.8" font-family="Liberation Sans, sans-serif">38</text>
<text x="106.0" y="1702.0" font-size="77" text-anchor="middle" stroke="#000" stroke-width="1.8" font-family="Liberation Sans, sans-serif">28</text>
<text x="802.0" y="1805.0" font-size="77" text-anchor="middle" stroke="#000" stroke-width="1.8" font-family="Liberation Sans, sans-serif">44</text>
<text x="1275.0" y="1977.0" font-size="77" text-anchor="middle" stroke="#000" stroke-width="1.8" font-family="Liberation Sans, sans-serif">48</text>
<text x="1474.0" y="1980.0" font-size="77" text-anchor="middle" stroke="#000" stroke-width="1.8" font-family="Liberation Sans, sans-serif">46</text>
<text x="80.5" y="2104.0" font-size="77" text-anchor="middle" stroke="#000" stroke-width="1.8" font-family="Liberation Sans, sans-serif">24</text>
<text x="1081.0" y="2107.0" font-size="77" text-anchor="middle" stroke="#000" stroke-width="1.8" font-family="Liberation Sans, sans-serif">38</text>
<text x="511.5" y="2256.0" font-size="77" text-anchor="middle" stroke="#000" stroke-width="1.8" font-family="Liberation Sans, sans-serif">36</text>
<text x="667.5" y="2316.0" font-size="77" text-anchor="middle" stroke="#000" stroke-width="1.8" font-family="Liberation Sans, sans-serif">31</text>
<text x="1468.5" y="2249.0" font-size="77" text-anchor="middle" stroke="#000" stroke-width="1.8" font-family="Liberation Sans, sans-serif">30</text>
<path d="M200.6,130 C196,160 200,185 215,205 L228,225" fill="none" stroke="#000" stroke-width="5.5" stroke-linecap="round"/>
<path d="M243,248.5 L208,214.5 L233,200.7 Z" fill="#000"/>
<path d="M1673,196 C1668,225 1640,232 1625,242 C1617,247 1612,252 1611.7,256.5" fill="none" stroke="#000" stroke-width="5.5" stroke-linecap="round"/>
<path d="M239,1011.7 C255,1003 272,1010 285,1022 L317,1055" fill="none" stroke="#000" stroke-width="5.5" stroke-linecap="round"/>
<path d="M357,1080.7 L309.7,1068 L324,1045 Z" fill="#000"/>
<path d="M1861.5,1039.4 C1845,1038 1825,1048 1814,1057 L1795,1076" fill="none" stroke="#000" stroke-width="5.5" stroke-linecap="round"/>
<path d="M1749.6,1088 L1792,1067.8 L1797,1094.6 Z" fill="#000"/>
<path d="M1419.7,800 C1445,815 1454,850 1454,880 C1454,920 1460,955 1485,968" fill="none" stroke="#000" stroke-width="5.5" stroke-linecap="round"/>
<path d="M1702,1214 C1690,1222 1693,1238 1732,1244 L1773,1239.5" fill="none" stroke="#000" stroke-width="5.5" stroke-linecap="round"/>
<path d="M1675.5,1359 C1700,1358 1715,1395 1726,1410 C1735,1422 1760,1436 1801.6,1436.5" fill="none" stroke="#000" stroke-width="5.5" stroke-linecap="round"/>
<path d="M1735.4,1594 C1755,1590 1765,1580 1795,1580" fill="none" stroke="#000" stroke-width="5.5" stroke-linecap="round"/>
<path d="M1551.6,1703.4 C1600,1714 1660,1700 1735,1663 L1809.5,1612" fill="none" stroke="#000" stroke-width="5.5" stroke-linecap="round"/>
<path d="M253,1220 C290,1170 330,1150 381,1155" fill="none" stroke="#000" stroke-width="5.5" stroke-linecap="round"/>
<path d="M277,1238.6 C310,1205 340,1183 381,1189.6" fill="none" stroke="#000" stroke-width="5.5" stroke-linecap="round"/>
<path d="M271.6,1274 C300,1280 330,1245 369.6,1227.7 C375,1226 380,1229 381,1231" fill="none" stroke="#000" stroke-width="5.5" stroke-linecap="round"/>
<path d="M773.6,1481 C778,1430 790,1360 778,1335 C770,1315 758,1300 741.4,1292.9" fill="none" stroke="#000" stroke-width="5.5" stroke-linecap="round"/>
<path d="M795,1483 C812,1425 835,1350 826,1310 C820,1280 800,1258 772,1247.6" fill="none" stroke="#000" stroke-width="5.5" stroke-linecap="round"/>
<path d="M815,1481 C840,1410 872,1330 864,1280 C858,1240 835,1212 801,1197.6" fill="none" stroke="#000" stroke-width="5.5" stroke-linecap="round"/>
<path d="M604,1639.5 C590,1630 590,1610 588.8,1600 C588,1592 580,1588 571.8,1586.7" fill="none" stroke="#000" stroke-width="5.5" stroke-linecap="round"/>
<path d="M163.6,1675 C180,1675 190,1660 210,1648 C240,1635 262,1650 282.7,1682" fill="none" stroke="#000" stroke-width="5.5" stroke-linecap="round"/>
<path d="M1222.9,1939.8 C1190,1935 1195,1890 1210,1865 C1218,1852 1222,1846 1214.7,1842" fill="none" stroke="#000" stroke-width="5.5" stroke-linecap="round"/>
<path d="M1253.5,1911 C1262,1870 1268,1830 1251.4,1805" fill="none" stroke="#000" stroke-width="5.5" stroke-linecap="round"/>
<path d="M1296,1895 C1318,1850 1320,1800 1276,1766" fill="none" stroke="#000" stroke-width="5.5" stroke-linecap="round"/>
<path d="M1423,1819 C1460,1822 1484,1860 1484,1907" fill="none" stroke="#000" stroke-width="5.5" stroke-linecap="round"/>
<path d="M836,1701 C845,1670 860,1630 880,1617 C895,1600 910,1591 925.8,1590" fill="none" stroke="#000" stroke-width="5.5" stroke-linecap="round"/>
<path d="M847.9,1737 C852,1712 865,1690 883.4,1679.7 C900,1671 912,1668 923.3,1668.5" fill="none" stroke="#000" stroke-width="5.5" stroke-linecap="round"/>
<path d="M861.6,1795.7 C875,1797 883,1785 890,1765 C897,1740 900,1720 915,1719 L925.8,1718.4" fill="none" stroke="#000" stroke-width="5.5" stroke-linecap="round"/>
<path d="M1143,2082.6 C1160,2075 1170,2062 1169.8,2058 C1168,2048 1160,2040 1157.5,2033.7" fill="none" stroke="#000" stroke-width="5.5" stroke-linecap="round"/>
<path d="M140.4,2093 C150,2100 165,2104 180,2097 C200,2088 215,2065 240,2038" fill="none" stroke="#000" stroke-width="5.5" stroke-linecap="round"/>
<path d="M270.8,2005.7 L225,2025.8 L243.6,2044.4 Z" fill="#000"/>
<path d="M476.9,2112 C455,2125 449,2140 449.7,2150 C450,2170 455,2182 465.5,2191.5" fill="none" stroke="#000" stroke-width="5.5" stroke-linecap="round"/>
<path d="M732,2293.7 C760,2300 800,2285 808,2246 C812,2220 790,2200 760.6,2154" fill="none" stroke="#000" stroke-width="5.5" stroke-linecap="round"/>
<path d="M1405,2214 C1390,2210 1380,2190 1373,2176 C1368,2165 1360,2155 1354,2151" fill="none" stroke="#000" stroke-width="5.5" stroke-linecap="round"/></svg></body></html>
